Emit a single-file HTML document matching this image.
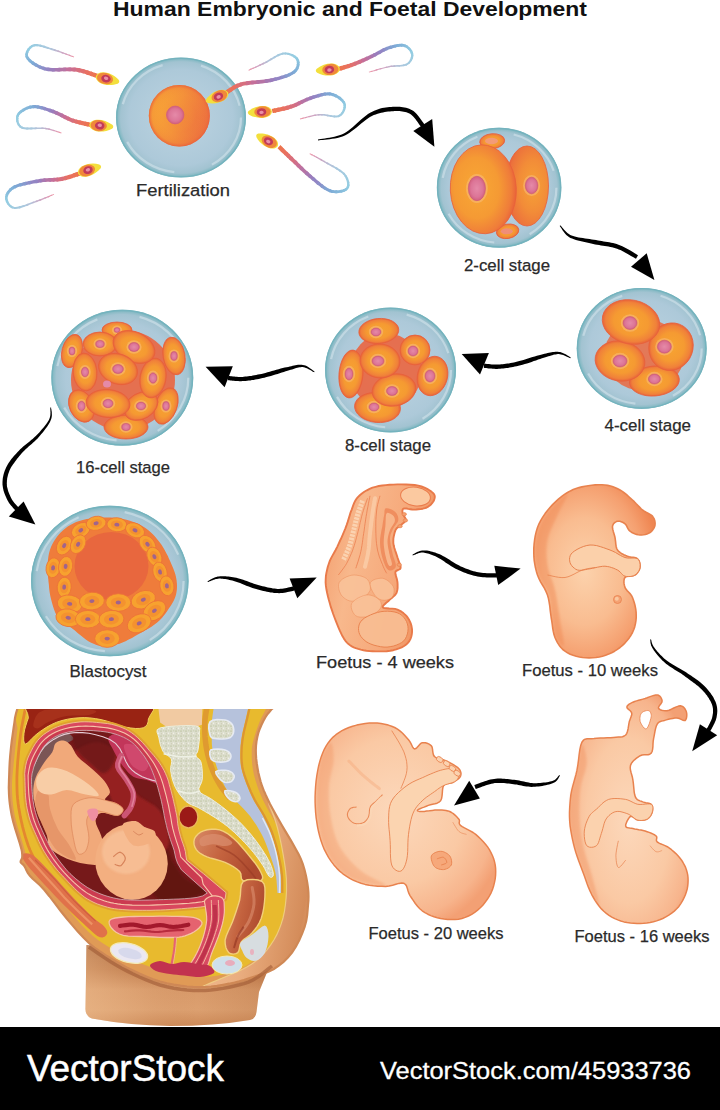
<!DOCTYPE html>
<html>
<head>
<meta charset="utf-8">
<title>Human Embryonic and Foetal Development</title>
<style>
html,body{margin:0;padding:0;background:#fff;}
body{width:720px;height:1110px;overflow:hidden;position:relative;font-family:"Liberation Sans",sans-serif;}
svg{position:absolute;left:0;top:0;display:block;}
text{font-family:"Liberation Sans",sans-serif;}
.lbl{font-size:17.2px;fill:#2a2a2a;stroke:#2a2a2a;stroke-width:0.25px;}
</style>
</head>
<body>
<svg width="720" height="1110" viewBox="0 0 720 1110">
<defs>
  <radialGradient id="gZona" cx="50%" cy="50%" r="50%">
    <stop offset="0" stop-color="#bdd4e1"/>
    <stop offset="0.8" stop-color="#adc9d9"/>
    <stop offset="0.93" stop-color="#a2c3d1"/>
    <stop offset="1" stop-color="#78b5be"/>
  </radialGradient>
  <radialGradient id="gCell" cx="50%" cy="50%" r="50%">
    <stop offset="0" stop-color="#f7a531"/>
    <stop offset="0.6" stop-color="#f59a32"/>
    <stop offset="0.88" stop-color="#f0813a"/>
    <stop offset="1" stop-color="#e8633a"/>
  </radialGradient>
  <radialGradient id="gCellA" cx="40%" cy="48%" r="62%">
    <stop offset="0" stop-color="#f8a835"/>
    <stop offset="0.55" stop-color="#f59a34"/>
    <stop offset="0.85" stop-color="#ef7c3a"/>
    <stop offset="1" stop-color="#e85c3a"/>
  </radialGradient>
  <radialGradient id="gCellB" cx="64%" cy="50%" r="66%">
    <stop offset="0" stop-color="#f6a236"/>
    <stop offset="0.5" stop-color="#f28c38"/>
    <stop offset="0.85" stop-color="#ec723c"/>
    <stop offset="1" stop-color="#e65a3a"/>
  </radialGradient>
  <radialGradient id="gEgg" cx="50%" cy="50%" r="50%">
    <stop offset="0" stop-color="#f08a45"/>
    <stop offset="0.45" stop-color="#f3923a"/>
    <stop offset="0.8" stop-color="#f6a030"/>
    <stop offset="0.93" stop-color="#f28a36"/>
    <stop offset="1" stop-color="#ec6f40"/>
  </radialGradient>
  <linearGradient id="gEggL" x1="0" y1="0.35" x2="1" y2="0.65">
    <stop offset="0" stop-color="#f9a935"/>
    <stop offset="0.45" stop-color="#f4933a"/>
    <stop offset="1" stop-color="#ec6a40"/>
  </linearGradient>
  <radialGradient id="gEggR" cx="50%" cy="50%" r="50%">
    <stop offset="0" stop-color="#ee7a40" stop-opacity="0.35"/>
    <stop offset="0.55" stop-color="#f39a38" stop-opacity="0"/>
    <stop offset="0.88" stop-color="#ee7a3c" stop-opacity="0.25"/>
    <stop offset="1" stop-color="#e8603c" stop-opacity="0.9"/>
  </radialGradient>
  <radialGradient id="gNuc" cx="50%" cy="50%" r="50%">
    <stop offset="0" stop-color="#e58aa8"/>
    <stop offset="0.7" stop-color="#dc7597"/>
    <stop offset="1" stop-color="#d2607e"/>
  </radialGradient>
  <radialGradient id="gSkin" cx="45%" cy="40%" r="65%">
    <stop offset="0" stop-color="#fbd2ac"/>
    <stop offset="0.6" stop-color="#f8b98c"/>
    <stop offset="1" stop-color="#f29868"/>
  </radialGradient>
  <filter id="soft" x="-10%" y="-10%" width="120%" height="120%"><feGaussianBlur stdDeviation="0.6"/></filter>
  <filter id="soft2" x="-10%" y="-10%" width="120%" height="120%"><feGaussianBlur stdDeviation="1.2"/></filter>
</defs>

<!-- TITLE -->
<text id="title" x="113" y="16.2" font-size="20" font-weight="bold" fill="#111" textLength="474" lengthAdjust="spacingAndGlyphs">Human Embryonic and Foetal Development</text>

<!-- arrows -->
<g fill="#000">
<path d="M318.1,140.4 L319.3,140.2 L320.9,140.1 L322.8,139.9 L324.9,139.7 L327.2,139.5 L329.7,139.2 L332.2,138.8 L334.8,138.4 L337.4,137.9 L340.0,137.2 L342.5,136.4 L344.9,135.4 L347.2,134.2 L349.6,132.8 L351.9,131.1 L354.3,129.3 L356.6,127.4 L358.9,125.5 L361.2,123.6 L363.5,121.7 L365.7,120.0 L367.8,118.4 L369.9,117.1 L371.9,116.0 L373.8,115.1 L375.7,114.4 L377.6,113.7 L379.4,113.2 L381.2,112.8 L383.0,112.4 L384.7,112.1 L386.4,111.8 L388.1,111.6 L389.8,111.4 L391.5,111.3 L393.1,111.2 L394.7,111.1 L396.3,111.1 L397.9,111.1 L399.4,111.1 L400.9,111.2 L402.3,111.4 L403.7,111.7 L405.1,112.0 L406.4,112.3 L407.6,112.8 L408.8,113.3 L409.9,113.8 L411.0,114.5 L412.1,115.4 L413.2,116.5 L414.3,117.8 L415.4,119.1 L416.4,120.5 L417.4,121.8 L418.4,123.2 L419.2,124.4 L420.0,125.6 L420.8,126.5 L421.4,127.3 L424.6,124.7 L424.1,124.0 L423.5,123.1 L422.7,122.0 L421.8,120.8 L420.9,119.4 L419.8,117.9 L418.7,116.4 L417.5,115.0 L416.2,113.6 L414.9,112.3 L413.5,111.1 L412.1,110.2 L410.6,109.4 L409.2,108.8 L407.7,108.2 L406.1,107.8 L404.5,107.4 L402.9,107.2 L401.3,106.9 L399.7,106.8 L398.0,106.7 L396.3,106.7 L394.6,106.7 L392.9,106.8 L391.2,106.9 L389.4,107.1 L387.6,107.2 L385.8,107.5 L384.0,107.8 L382.1,108.1 L380.2,108.6 L378.2,109.2 L376.2,109.9 L374.2,110.7 L372.2,111.7 L370.1,112.8 L368.0,114.1 L365.8,115.7 L363.6,117.4 L361.4,119.3 L359.2,121.3 L357.0,123.3 L354.8,125.3 L352.6,127.2 L350.4,129.0 L348.2,130.7 L346.0,132.2 L343.9,133.4 L341.7,134.4 L339.4,135.3 L336.9,136.0 L334.4,136.7 L331.9,137.2 L329.4,137.7 L327.0,138.1 L324.8,138.4 L322.7,138.8 L320.8,139.0 L319.2,139.3 L317.9,139.6Z"/>
<path d="M413.3,131.0 L432.2,119.0 L434.4,146.7 Z"/>
<path d="M559.7,225.9 L560.1,226.5 L560.6,227.2 L561.2,228.1 L561.8,229.1 L562.5,230.2 L563.3,231.3 L564.2,232.5 L565.2,233.7 L566.3,234.9 L567.6,236.0 L568.9,237.0 L570.4,237.9 L572.1,238.6 L573.9,239.3 L575.9,240.0 L577.9,240.5 L580.1,241.1 L582.3,241.6 L584.5,242.1 L586.8,242.5 L589.0,243.0 L591.1,243.4 L593.2,243.9 L595.2,244.4 L597.1,244.7 L599.1,245.1 L601.0,245.4 L603.0,245.7 L604.8,246.0 L606.7,246.3 L608.5,246.6 L610.3,246.9 L612.0,247.3 L613.8,247.7 L615.4,248.2 L617.1,248.7 L618.7,249.4 L620.5,250.1 L622.3,251.0 L624.1,252.0 L625.9,253.0 L627.7,254.0 L629.4,255.0 L631.0,255.9 L632.5,256.8 L633.9,257.6 L635.0,258.3 L636.0,258.8 L638.0,255.2 L637.1,254.7 L636.0,254.0 L634.7,253.2 L633.2,252.3 L631.6,251.3 L629.9,250.3 L628.0,249.2 L626.1,248.2 L624.2,247.2 L622.3,246.3 L620.4,245.4 L618.5,244.7 L616.7,244.1 L614.9,243.5 L613.0,243.1 L611.1,242.7 L609.3,242.3 L607.4,242.0 L605.5,241.7 L603.6,241.4 L601.7,241.1 L599.8,240.8 L598.0,240.4 L596.0,240.0 L594.0,239.7 L591.8,239.4 L589.6,239.1 L587.4,238.8 L585.1,238.5 L582.9,238.1 L580.7,237.8 L578.6,237.4 L576.6,237.0 L574.8,236.6 L573.1,236.1 L571.6,235.5 L570.2,234.9 L568.9,234.1 L567.7,233.2 L566.6,232.3 L565.6,231.3 L564.6,230.3 L563.7,229.3 L562.9,228.3 L562.2,227.4 L561.5,226.5 L560.9,225.9 L560.3,225.3Z"/>
<path d="M631.0,266.7 L646.7,253.3 L654.4,280.0 Z"/>
<path d="M570.8,357.5 L570.3,357.2 L569.6,356.8 L568.9,356.3 L568.0,355.8 L567.1,355.2 L566.1,354.6 L565.0,354.0 L563.9,353.4 L562.7,352.9 L561.5,352.5 L560.2,352.1 L559.0,351.9 L557.8,351.8 L556.6,351.8 L555.4,351.8 L554.1,351.9 L552.9,352.1 L551.6,352.3 L550.3,352.5 L549.0,352.8 L547.5,353.1 L546.1,353.5 L544.5,353.8 L542.8,354.2 L541.0,354.7 L539.0,355.2 L536.9,355.8 L534.7,356.4 L532.5,357.1 L530.2,357.8 L527.9,358.5 L525.7,359.2 L523.5,359.9 L521.4,360.5 L519.4,361.1 L517.5,361.6 L515.7,362.0 L513.9,362.4 L512.2,362.7 L510.5,363.1 L508.9,363.4 L507.3,363.6 L505.8,363.8 L504.2,364.0 L502.7,364.2 L501.3,364.3 L499.9,364.5 L498.5,364.6 L497.1,364.6 L495.8,364.6 L494.4,364.6 L493.0,364.5 L491.6,364.4 L490.3,364.3 L489.0,364.1 L487.9,364.0 L486.8,363.9 L485.8,363.8 L484.9,363.7 L484.2,363.6 L483.8,367.8 L484.5,367.9 L485.3,367.9 L486.3,368.1 L487.4,368.2 L488.6,368.4 L489.9,368.5 L491.3,368.6 L492.7,368.7 L494.2,368.8 L495.7,368.9 L497.2,368.9 L498.7,368.8 L500.2,368.7 L501.7,368.6 L503.2,368.5 L504.8,368.3 L506.3,368.1 L508.0,367.9 L509.6,367.6 L511.3,367.3 L513.0,367.0 L514.8,366.6 L516.6,366.3 L518.5,365.8 L520.5,365.3 L522.6,364.7 L524.8,364.1 L527.0,363.4 L529.3,362.7 L531.6,361.9 L533.8,361.1 L536.0,360.4 L538.1,359.6 L540.1,358.9 L542.0,358.3 L543.8,357.8 L545.4,357.3 L547.0,356.8 L548.4,356.3 L549.8,355.9 L551.1,355.5 L552.3,355.2 L553.4,354.8 L554.6,354.6 L555.6,354.4 L556.7,354.2 L557.8,354.1 L558.8,354.1 L559.9,354.2 L560.9,354.4 L562.1,354.7 L563.2,355.0 L564.3,355.5 L565.4,355.9 L566.4,356.4 L567.4,356.9 L568.3,357.3 L569.1,357.7 L569.8,358.0 L570.4,358.3Z"/>
<path d="M461.7,354.0 L488.9,353.0 L480.0,374.4 Z"/>
<path d="M314.6,371.7 L314.1,371.3 L313.5,370.8 L312.7,370.2 L311.9,369.6 L311.0,368.9 L310.0,368.2 L308.9,367.5 L307.8,366.8 L306.6,366.1 L305.4,365.6 L304.2,365.2 L302.9,364.9 L301.7,364.7 L300.5,364.7 L299.2,364.7 L298.0,364.8 L296.7,365.0 L295.4,365.2 L294.1,365.5 L292.7,365.8 L291.3,366.2 L289.8,366.5 L288.2,366.9 L286.5,367.2 L284.7,367.6 L282.8,368.1 L280.7,368.6 L278.6,369.2 L276.3,369.8 L274.1,370.4 L271.9,371.1 L269.7,371.7 L267.5,372.3 L265.4,372.9 L263.4,373.4 L261.5,373.9 L259.7,374.3 L257.9,374.6 L256.2,375.0 L254.5,375.3 L252.9,375.6 L251.3,375.9 L249.7,376.1 L248.2,376.3 L246.7,376.5 L245.2,376.6 L243.8,376.8 L242.4,376.9 L241.0,376.9 L239.7,376.9 L238.3,376.9 L236.9,376.8 L235.6,376.7 L234.2,376.6 L233.0,376.4 L231.8,376.3 L230.7,376.2 L229.8,376.1 L228.9,376.0 L228.2,375.9 L227.8,380.1 L228.5,380.2 L229.3,380.2 L230.2,380.4 L231.3,380.5 L232.5,380.7 L233.8,380.8 L235.2,380.9 L236.6,381.0 L238.1,381.1 L239.6,381.2 L241.1,381.2 L242.6,381.1 L244.1,381.0 L245.6,380.9 L247.1,380.8 L248.7,380.6 L250.3,380.4 L251.9,380.1 L253.6,379.9 L255.3,379.6 L257.0,379.3 L258.8,378.9 L260.6,378.5 L262.5,378.1 L264.4,377.7 L266.5,377.1 L268.7,376.5 L270.9,375.9 L273.1,375.3 L275.4,374.6 L277.6,373.9 L279.7,373.2 L281.8,372.5 L283.8,371.9 L285.7,371.3 L287.5,370.8 L289.1,370.3 L290.7,369.8 L292.1,369.4 L293.5,368.9 L294.8,368.5 L296.1,368.1 L297.3,367.8 L298.4,367.5 L299.5,367.3 L300.6,367.2 L301.6,367.1 L302.7,367.1 L303.7,367.2 L304.8,367.5 L305.9,367.9 L307.0,368.3 L308.1,368.9 L309.2,369.5 L310.2,370.1 L311.2,370.6 L312.1,371.2 L312.9,371.7 L313.6,372.1 L314.2,372.3Z"/>
<path d="M205.6,366.8 L232.8,366.2 L224.6,387.2 Z"/>
<path d="M50.3,407.6 L50.3,408.2 L50.3,408.9 L50.3,409.7 L50.4,410.6 L50.4,411.6 L50.5,412.7 L50.4,413.7 L50.4,414.9 L50.2,416.0 L50.0,417.1 L49.6,418.2 L49.2,419.3 L48.6,420.5 L47.8,421.7 L47.0,422.9 L46.1,424.2 L45.1,425.5 L44.0,426.9 L42.9,428.3 L41.7,429.6 L40.5,431.0 L39.3,432.4 L38.0,433.7 L36.8,435.0 L35.5,436.3 L34.1,437.6 L32.6,438.9 L31.1,440.1 L29.6,441.4 L28.0,442.7 L26.4,444.0 L24.8,445.3 L23.2,446.6 L21.7,448.0 L20.2,449.3 L18.9,450.7 L17.6,452.0 L16.3,453.4 L15.1,454.7 L13.9,456.1 L12.7,457.5 L11.6,458.8 L10.5,460.3 L9.5,461.7 L8.6,463.1 L7.7,464.6 L6.9,466.0 L6.1,467.5 L5.5,468.9 L4.9,470.3 L4.4,471.8 L3.9,473.3 L3.5,474.7 L3.2,476.2 L2.9,477.6 L2.7,479.0 L2.6,480.5 L2.5,481.9 L2.5,483.3 L2.5,484.7 L2.7,486.1 L2.9,487.6 L3.2,489.0 L3.5,490.4 L3.9,491.8 L4.4,493.2 L4.9,494.5 L5.4,495.8 L6.0,497.1 L6.5,498.2 L7.1,499.4 L7.6,500.5 L8.2,501.6 L8.9,502.7 L9.6,503.7 L10.4,504.7 L11.2,505.7 L12.0,506.6 L12.7,507.4 L13.4,508.2 L14.0,508.9 L14.6,509.4 L15.0,509.9 L15.4,510.4 L18.6,507.6 L18.2,507.2 L17.7,506.6 L17.1,506.0 L16.5,505.3 L15.8,504.6 L15.1,503.8 L14.4,503.0 L13.7,502.1 L13.1,501.2 L12.4,500.3 L11.9,499.4 L11.4,498.5 L10.9,497.5 L10.4,496.4 L9.9,495.3 L9.4,494.2 L8.9,493.0 L8.4,491.8 L8.0,490.5 L7.7,489.3 L7.4,488.1 L7.1,486.9 L6.9,485.7 L6.9,484.5 L6.8,483.3 L6.9,482.1 L6.9,480.8 L7.1,479.6 L7.2,478.3 L7.5,477.0 L7.8,475.8 L8.1,474.5 L8.5,473.2 L9.0,471.9 L9.5,470.6 L10.1,469.3 L10.7,468.1 L11.4,466.8 L12.3,465.5 L13.1,464.2 L14.1,462.9 L15.1,461.5 L16.1,460.2 L17.1,458.8 L18.2,457.4 L19.4,456.1 L20.5,454.7 L21.7,453.3 L22.9,452.0 L24.2,450.7 L25.6,449.3 L27.1,448.0 L28.6,446.6 L30.1,445.3 L31.7,443.9 L33.2,442.5 L34.7,441.2 L36.2,439.8 L37.6,438.4 L38.8,437.0 L40.1,435.6 L41.3,434.1 L42.5,432.7 L43.7,431.2 L44.8,429.8 L45.9,428.3 L46.9,426.9 L47.9,425.5 L48.8,424.1 L49.6,422.7 L50.2,421.4 L50.8,420.1 L51.3,418.8 L51.6,417.5 L51.8,416.2 L51.9,415.0 L51.8,413.7 L51.8,412.6 L51.7,411.5 L51.5,410.5 L51.4,409.6 L51.2,408.8 L51.1,408.2 L51.1,407.6Z"/>
<path d="M8.8,516.4 L23.6,501.5 L35.4,524.5 Z"/>
<path d="M207.9,582.1 L208.4,581.9 L209.1,581.6 L209.9,581.3 L210.7,580.9 L211.6,580.6 L212.6,580.2 L213.6,579.8 L214.7,579.4 L215.8,579.1 L216.9,578.9 L218.0,578.7 L219.1,578.6 L220.2,578.6 L221.4,578.7 L222.7,578.8 L223.9,578.9 L225.3,579.1 L226.6,579.3 L228.0,579.6 L229.4,579.9 L230.9,580.2 L232.3,580.6 L233.8,581.0 L235.3,581.4 L236.9,581.9 L238.4,582.4 L240.1,583.0 L241.7,583.7 L243.5,584.4 L245.2,585.2 L247.0,585.9 L248.8,586.6 L250.6,587.2 L252.5,587.9 L254.3,588.5 L256.1,589.0 L257.9,589.5 L259.7,589.9 L261.5,590.4 L263.3,590.9 L265.1,591.3 L266.9,591.7 L268.7,592.0 L270.5,592.4 L272.3,592.6 L274.0,592.9 L275.7,593.0 L277.4,593.1 L279.1,593.2 L280.8,593.1 L282.6,592.9 L284.2,592.7 L285.9,592.4 L287.5,592.1 L289.0,591.8 L290.3,591.5 L291.6,591.2 L292.7,590.9 L293.6,590.7 L294.4,590.6 L293.6,586.4 L292.8,586.6 L291.8,586.8 L290.7,587.0 L289.4,587.3 L288.1,587.6 L286.6,587.9 L285.1,588.2 L283.6,588.5 L282.1,588.7 L280.5,588.8 L279.0,588.9 L277.6,588.9 L276.1,588.8 L274.5,588.6 L272.9,588.4 L271.3,588.1 L269.6,587.8 L267.8,587.4 L266.1,587.1 L264.3,586.6 L262.5,586.2 L260.8,585.7 L259.0,585.3 L257.3,584.8 L255.6,584.3 L253.9,583.7 L252.1,583.1 L250.4,582.5 L248.6,581.8 L246.8,581.1 L245.0,580.4 L243.2,579.8 L241.4,579.2 L239.7,578.7 L237.9,578.2 L236.3,577.8 L234.6,577.5 L233.1,577.2 L231.5,576.9 L230.0,576.7 L228.5,576.5 L227.0,576.4 L225.6,576.3 L224.1,576.2 L222.8,576.2 L221.4,576.2 L220.2,576.3 L218.9,576.4 L217.7,576.6 L216.4,576.9 L215.2,577.3 L214.1,577.8 L213.0,578.3 L212.0,578.8 L211.0,579.3 L210.1,579.8 L209.3,580.3 L208.6,580.7 L208.0,581.1 L207.5,581.3Z"/>
<path d="M289.6,578.5 L316.7,577.5 L297.3,598.3 Z"/>
<path d="M412.7,555.4 L413.3,555.2 L413.9,555.0 L414.7,554.7 L415.5,554.4 L416.3,554.0 L417.3,553.7 L418.2,553.3 L419.2,553.0 L420.3,552.8 L421.3,552.6 L422.3,552.6 L423.3,552.6 L424.3,552.7 L425.4,552.9 L426.5,553.2 L427.7,553.5 L428.9,553.8 L430.1,554.2 L431.4,554.7 L432.7,555.2 L434.0,555.7 L435.4,556.3 L436.7,557.0 L438.1,557.7 L439.5,558.4 L440.9,559.3 L442.4,560.2 L444.0,561.3 L445.5,562.4 L447.1,563.5 L448.8,564.6 L450.5,565.7 L452.2,566.7 L453.9,567.8 L455.6,568.7 L457.4,569.6 L459.0,570.3 L460.7,571.1 L462.3,571.8 L464.0,572.5 L465.7,573.1 L467.3,573.7 L469.0,574.3 L470.7,574.8 L472.4,575.3 L474.0,575.7 L475.7,576.1 L477.4,576.5 L479.2,576.8 L481.0,577.0 L482.9,577.2 L484.8,577.3 L486.7,577.4 L488.6,577.4 L490.4,577.5 L492.0,577.5 L493.6,577.5 L494.9,577.5 L496.0,577.5 L496.9,577.5 L497.1,573.3 L496.1,573.3 L494.9,573.3 L493.6,573.2 L492.0,573.2 L490.4,573.2 L488.7,573.2 L486.9,573.2 L485.0,573.1 L483.2,573.0 L481.5,572.8 L479.8,572.6 L478.2,572.3 L476.7,572.0 L475.1,571.6 L473.5,571.2 L472.0,570.7 L470.4,570.2 L468.8,569.6 L467.2,569.0 L465.6,568.4 L464.0,567.8 L462.4,567.1 L460.8,566.4 L459.2,565.6 L457.7,564.8 L456.1,564.0 L454.5,563.0 L452.9,562.0 L451.2,560.9 L449.6,559.8 L447.9,558.8 L446.2,557.8 L444.5,556.8 L442.9,555.9 L441.3,555.1 L439.7,554.3 L438.2,553.7 L436.7,553.2 L435.2,552.6 L433.8,552.2 L432.4,551.8 L431.0,551.4 L429.6,551.1 L428.3,550.8 L427.0,550.6 L425.7,550.5 L424.5,550.4 L423.3,550.4 L422.1,550.5 L420.9,550.7 L419.8,551.0 L418.7,551.4 L417.7,551.8 L416.7,552.3 L415.8,552.7 L414.9,553.2 L414.2,553.7 L413.5,554.1 L412.9,554.4 L412.5,554.6Z"/>
<path d="M494.3,565.7 L520.6,568.6 L498.2,585.1 Z"/>
<path d="M650.2,639.5 L650.3,639.9 L650.3,640.3 L650.3,640.9 L650.4,641.5 L650.4,642.1 L650.5,642.9 L650.7,643.7 L650.9,644.5 L651.1,645.4 L651.5,646.3 L652.0,647.3 L652.5,648.3 L653.2,649.3 L653.9,650.4 L654.7,651.6 L655.6,652.8 L656.6,654.0 L657.6,655.3 L658.7,656.5 L659.8,657.8 L661.0,659.1 L662.3,660.4 L663.6,661.6 L664.9,662.8 L666.3,664.0 L667.8,665.1 L669.4,666.2 L671.0,667.3 L672.7,668.3 L674.3,669.4 L676.0,670.5 L677.7,671.5 L679.4,672.6 L681.1,673.6 L682.7,674.7 L684.2,675.8 L685.7,676.9 L687.3,678.1 L688.9,679.2 L690.5,680.4 L692.0,681.5 L693.6,682.7 L695.1,683.8 L696.5,685.0 L698.0,686.1 L699.3,687.2 L700.6,688.4 L701.7,689.5 L702.9,690.7 L704.0,691.9 L705.0,693.1 L706.0,694.4 L707.0,695.6 L707.8,696.9 L708.7,698.1 L709.4,699.4 L710.1,700.6 L710.8,701.8 L711.3,702.9 L711.8,704.1 L712.2,705.2 L712.5,706.2 L712.7,707.3 L712.9,708.3 L713.0,709.3 L713.0,710.4 L713.0,711.4 L713.0,712.5 L712.9,713.5 L712.7,714.6 L712.5,715.7 L712.3,716.7 L712.1,717.8 L711.7,718.9 L711.2,720.2 L710.6,721.4 L710.0,722.7 L709.4,724.0 L708.7,725.2 L708.1,726.4 L707.5,727.5 L706.9,728.5 L706.5,729.4 L706.1,730.1 L709.9,731.9 L710.2,731.3 L710.6,730.5 L711.2,729.5 L711.8,728.4 L712.4,727.2 L713.1,725.9 L713.8,724.6 L714.5,723.2 L715.1,721.8 L715.7,720.4 L716.1,719.0 L716.5,717.7 L716.7,716.4 L716.9,715.2 L717.1,714.0 L717.2,712.8 L717.3,711.6 L717.3,710.3 L717.2,709.0 L717.1,707.8 L716.9,706.5 L716.6,705.2 L716.3,703.9 L715.8,702.5 L715.3,701.2 L714.6,699.9 L713.9,698.5 L713.2,697.1 L712.3,695.8 L711.4,694.4 L710.5,693.1 L709.4,691.7 L708.4,690.4 L707.2,689.0 L706.1,687.7 L704.9,686.5 L703.6,685.2 L702.2,684.0 L700.8,682.7 L699.3,681.5 L697.7,680.3 L696.2,679.2 L694.5,678.0 L692.9,676.9 L691.3,675.8 L689.6,674.7 L688.0,673.7 L686.4,672.6 L684.8,671.5 L683.0,670.5 L681.3,669.5 L679.6,668.5 L677.8,667.5 L676.1,666.5 L674.4,665.5 L672.7,664.6 L671.1,663.6 L669.5,662.6 L668.1,661.6 L666.7,660.6 L665.4,659.5 L664.1,658.4 L662.9,657.3 L661.7,656.1 L660.5,654.9 L659.4,653.7 L658.3,652.5 L657.3,651.4 L656.4,650.3 L655.5,649.2 L654.8,648.2 L654.1,647.3 L653.5,646.4 L653.0,645.6 L652.6,644.8 L652.3,644.1 L652.0,643.3 L651.8,642.6 L651.6,641.9 L651.5,641.3 L651.4,640.7 L651.3,640.2 L651.1,639.7 L651.0,639.3Z"/>
<path d="M699.9,724.2 L717.2,735.3 L692.2,751.3 Z"/>
<path d="M559.3,775.0 L558.9,775.4 L558.6,775.8 L558.2,776.3 L557.8,776.8 L557.3,777.4 L556.8,778.0 L556.3,778.6 L555.6,779.2 L555.0,779.7 L554.2,780.2 L553.4,780.6 L552.4,781.0 L551.3,781.3 L550.0,781.6 L548.5,781.9 L547.0,782.2 L545.3,782.4 L543.6,782.6 L541.9,782.8 L540.1,783.0 L538.3,783.1 L536.6,783.2 L534.9,783.2 L533.3,783.2 L531.8,783.1 L530.3,782.9 L528.7,782.6 L527.2,782.3 L525.6,782.0 L524.0,781.6 L522.4,781.3 L520.8,780.9 L519.2,780.6 L517.5,780.3 L515.8,780.0 L514.2,779.8 L512.5,779.7 L510.9,779.5 L509.3,779.3 L507.6,779.1 L506.0,778.9 L504.3,778.8 L502.7,778.7 L501.0,778.6 L499.3,778.6 L497.6,778.6 L495.8,778.7 L494.1,778.9 L492.3,779.2 L490.4,779.6 L488.5,780.1 L486.6,780.7 L484.7,781.3 L482.8,781.9 L481.0,782.6 L479.3,783.2 L477.8,783.8 L476.4,784.3 L475.2,784.7 L474.3,785.0 L475.7,789.0 L476.6,788.7 L477.8,788.2 L479.2,787.7 L480.8,787.2 L482.4,786.6 L484.2,785.9 L486.0,785.3 L487.8,784.7 L489.7,784.2 L491.4,783.7 L493.1,783.4 L494.7,783.1 L496.2,783.0 L497.7,782.9 L499.3,782.9 L500.8,782.9 L502.4,783.0 L504.0,783.1 L505.6,783.2 L507.2,783.4 L508.8,783.6 L510.4,783.8 L512.0,784.0 L513.6,784.2 L515.2,784.4 L516.8,784.6 L518.3,784.9 L519.9,785.2 L521.5,785.6 L523.2,785.9 L524.8,786.2 L526.5,786.4 L528.2,786.6 L529.9,786.8 L531.6,786.9 L533.3,786.8 L535.0,786.8 L536.8,786.6 L538.6,786.4 L540.4,786.2 L542.3,785.9 L544.1,785.6 L545.8,785.2 L547.5,784.8 L549.1,784.4 L550.6,784.0 L552.0,783.5 L553.2,783.0 L554.3,782.5 L555.3,781.9 L556.1,781.2 L556.9,780.4 L557.5,779.7 L558.0,778.9 L558.5,778.2 L558.8,777.5 L559.2,776.9 L559.4,776.4 L559.7,775.9 L559.9,775.6Z"/>
<path d="M469.2,780.7 L479.9,798.6 L454.0,805.4 Z"/>
</g>

<!-- fert -->
<path d="M98.2,73.9 L97.2,73.6 L96.0,73.2 L94.5,72.7 L93.1,76.8 L94.5,77.3 L95.8,77.7 L96.8,78.1 Z" fill="#ed754a"/><path d="M96.0,73.2 L94.5,72.7 L92.9,72.2 L91.1,71.6 L89.8,75.5 L91.5,76.2 L93.1,76.8 L94.5,77.3 Z" fill="#ec7452"/><path d="M92.9,72.2 L91.1,71.6 L89.2,70.9 L87.2,70.3 L86.0,74.2 L87.9,74.9 L89.8,75.5 L91.5,76.2 Z" fill="#ea725b"/><path d="M89.2,70.9 L87.2,70.3 L85.1,69.7 L82.9,69.1 L81.9,73.0 L83.9,73.6 L86.0,74.2 L87.9,74.9 Z" fill="#e87063"/><path d="M85.1,69.7 L82.9,69.1 L80.6,68.6 L78.4,68.1 L77.6,72.0 L79.8,72.4 L81.9,73.0 L83.9,73.6 Z" fill="#e07070"/><path d="M80.6,68.6 L78.4,68.1 L76.1,67.8 L73.6,67.6 L73.4,71.4 L75.5,71.6 L77.6,72.0 L79.8,72.4 Z" fill="#d76f7e"/><path d="M76.1,67.8 L73.6,67.6 L71.1,67.5 L68.4,67.5 L68.5,71.2 L71.0,71.3 L73.4,71.4 L75.5,71.6 Z" fill="#ce6e8c"/><path d="M71.1,67.5 L68.4,67.5 L65.7,67.6 L62.9,67.7 L63.0,71.3 L65.8,71.3 L68.5,71.2 L71.0,71.3 Z" fill="#c46f9a"/><path d="M65.7,67.6 L62.9,67.7 L60.1,67.8 L57.3,67.9 L57.4,71.5 L60.2,71.4 L63.0,71.3 L65.8,71.3 Z" fill="#b674a5"/><path d="M60.1,67.8 L57.3,67.9 L54.7,67.9 L52.1,67.9 L51.9,71.4 L54.7,71.5 L57.4,71.5 L60.2,71.4 Z" fill="#a878b1"/><path d="M54.7,67.9 L52.1,67.9 L49.6,67.8 L47.4,67.6 L46.9,70.9 L49.3,71.2 L51.9,71.4 L54.7,71.5 Z" fill="#9a7dbc"/><path d="M49.6,67.8 L47.4,67.6 L45.4,67.2 L43.5,66.6 L42.5,69.8 L44.6,70.4 L46.9,70.9 L49.3,71.2 Z" fill="#9285c4"/><path d="M45.4,67.2 L43.5,66.6 L41.6,65.9 L39.7,65.2 L38.3,68.1 L40.4,69.0 L42.5,69.8 L44.6,70.4 Z" fill="#8c8fc9"/><path d="M41.6,65.9 L39.7,65.2 L37.9,64.3 L36.1,63.3 L34.5,66.0 L36.4,67.1 L38.3,68.1 L40.4,69.0 Z" fill="#869ace"/><path d="M37.9,64.3 L36.1,63.3 L34.5,62.3 L33.0,61.3 L31.2,63.7 L32.8,64.9 L34.5,66.0 L36.4,67.1 Z" fill="#80a4d3"/><path d="M34.5,62.3 L33.0,61.3 L31.6,60.2 L30.5,59.2 L28.4,61.2 L29.7,62.5 L31.2,63.7 L32.8,64.9 Z" fill="#7dacd7"/><path d="M31.6,60.2 L30.5,59.2 L29.5,58.2 L28.8,57.2 L26.4,58.8 L27.3,60.0 L28.4,61.2 L29.7,62.5 Z" fill="#81b2d9"/><path d="M29.5,58.2 L28.8,57.2 L28.3,56.4 L28.0,55.7 L25.3,56.2 L25.7,57.6 L26.4,58.8 L27.3,60.0 Z" fill="#84b7da"/><path d="M28.3,56.4 L28.0,55.7 L27.9,54.9 L28.0,53.9 L25.4,53.4 L25.2,54.8 L25.3,56.2 L25.7,57.6 Z" fill="#87bddc"/><path d="M27.9,54.9 L28.0,53.9 L28.2,52.9 L28.6,51.8 L26.3,50.7 L25.8,52.1 L25.4,53.4 L25.2,54.8 Z" fill="#8bc2de"/><path d="M28.2,52.9 L28.6,51.8 L29.2,50.8 L29.9,49.8 L27.9,48.3 L27.1,49.5 L26.3,50.7 L25.8,52.1 Z" fill="#8ec8e0"/><path d="M29.2,50.8 L29.9,49.8 L30.6,48.8 L31.5,48.0 L30.0,46.2 L28.9,47.2 L27.9,48.3 L27.1,49.5 Z" fill="#92cde2"/><path d="M30.6,48.8 L31.5,48.0 L32.4,47.3 L33.4,46.7 L32.4,44.7 L31.2,45.3 L30.0,46.2 L28.9,47.2 Z" fill="#95cde2"/><path d="M32.4,47.3 L33.4,46.7 L34.3,46.4 L35.3,46.2 L35.1,44.0 L33.7,44.2 L32.4,44.7 L31.2,45.3 Z" fill="#99cce1"/><path d="M34.3,46.4 L35.3,46.2 L36.5,46.2 L37.9,46.3 L38.2,44.2 L36.6,44.0 L35.1,44.0 L33.7,44.2 Z" fill="#9ccce0"/><path d="M36.5,46.2 L37.9,46.3 L39.5,46.5 L41.2,46.9 L41.7,45.0 L39.9,44.5 L38.2,44.2 L36.6,44.0 Z" fill="#a0cbe0"/><path d="M39.5,46.5 L41.2,46.9 L42.9,47.3 L44.7,47.9 L45.3,46.1 L43.5,45.5 L41.7,45.0 L39.9,44.5 Z" fill="#a4cadf"/><path d="M42.9,47.3 L44.7,47.9 L46.6,48.4 L48.4,49.0 L49.0,47.4 L47.1,46.7 L45.3,46.1 L43.5,45.5 Z" fill="#a7c9df"/><path d="M46.6,48.4 L48.4,49.0 L50.3,49.6 L52.0,50.2 L52.5,48.6 L50.8,48.0 L49.0,47.4 L47.1,46.7 Z" fill="#abc8de"/><path d="M50.3,49.6 L52.0,50.2 L53.8,50.7 L55.5,51.2 L56.0,49.7 L54.2,49.1 L52.5,48.6 L50.8,48.0 Z" fill="#b3c2d9"/><path d="M53.8,50.7 L55.5,51.2 L57.3,51.7 L59.2,52.3 L59.7,51.0 L57.8,50.3 L56.0,49.7 L54.2,49.1 Z" fill="#bdb8d1"/><path d="M57.3,51.7 L59.2,52.3 L61.2,53.0 L63.1,53.7 L63.6,52.4 L61.6,51.7 L59.7,51.0 L57.8,50.3 Z" fill="#c6afca"/><path d="M61.2,53.0 L63.1,53.7 L65.0,54.3 L66.9,55.0 L67.3,53.9 L65.5,53.2 L63.6,52.4 L61.6,51.7 Z" fill="#d0a6c3"/><path d="M65.0,54.3 L66.9,55.0 L68.6,55.6 L70.2,56.2 L70.6,55.2 L69.0,54.5 L67.3,53.9 L65.5,53.2 Z" fill="#d99fbb"/><path d="M68.6,55.6 L70.2,56.2 L71.7,56.7 L72.9,57.1 L73.2,56.2 L72.0,55.7 L70.6,55.2 L69.0,54.5 Z" fill="#e29bb2"/><path d="M71.7,56.7 L72.9,57.1 L73.9,57.4 L74.1,56.6 L73.2,56.2 L72.0,55.7 Z" fill="#ea98aa"/>
<g transform="translate(106.5,78.8) rotate(14.0) scale(1.00)"><path d="M-11,0 C-10,-7 3,-8 12,-2 C13.5,-0.8 13.5,1 12,2 C3,8 -10,7 -11,0Z" fill="#f3df3c"/><ellipse cx="-1.5" cy="0" rx="8.2" ry="5.6" fill="#f0883a"/><ellipse cx="-0.5" cy="0" rx="4.8" ry="3.8" fill="#c23a5a"/><ellipse cx="-0.5" cy="-0.4" rx="2.2" ry="1.7" fill="#ea90a6"/></g>
<path d="M90.8,122.7 L89.9,122.5 L88.8,122.2 L87.5,122.0 L86.6,126.2 L87.9,126.5 L89.0,126.7 L89.8,126.9 Z" fill="#ed754a"/><path d="M88.8,122.2 L87.5,122.0 L86.1,121.7 L84.6,121.4 L83.7,125.5 L85.2,125.9 L86.6,126.2 L87.9,126.5 Z" fill="#ec7452"/><path d="M86.1,121.7 L84.6,121.4 L82.9,121.1 L81.3,120.7 L79.5,120.3 L78.5,124.3 L80.3,124.7 L82.0,125.2 L83.7,125.5 L85.2,125.9 Z" fill="#ea725b"/><path d="M81.3,120.7 L79.5,120.3 L77.8,119.9 L76.1,119.4 L75.0,123.3 L76.7,123.8 L78.5,124.3 L80.3,124.7 Z" fill="#e87063"/><path d="M77.8,119.9 L76.1,119.4 L74.4,118.9 L72.9,118.4 L71.5,122.2 L73.2,122.7 L75.0,123.3 L76.7,123.8 Z" fill="#e07070"/><path d="M74.4,118.9 L72.9,118.4 L71.3,117.9 L69.8,117.2 L68.2,116.5 L66.6,120.0 L68.2,120.8 L69.9,121.5 L71.5,122.2 L73.2,122.7 Z" fill="#d76f7e"/><path d="M69.8,117.2 L68.2,116.5 L66.6,115.8 L64.9,115.0 L63.2,118.3 L64.9,119.2 L66.6,120.0 L68.2,120.8 Z" fill="#ce6e8c"/><path d="M66.6,115.8 L64.9,115.0 L63.3,114.1 L61.6,113.3 L59.9,116.6 L61.6,117.5 L63.2,118.3 L64.9,119.2 Z" fill="#c46f9a"/><path d="M63.3,114.1 L61.6,113.3 L59.9,112.5 L58.2,111.7 L56.4,111.0 L55.0,114.2 L56.6,115.0 L58.3,115.8 L59.9,116.6 L61.6,117.5 Z" fill="#b674a5"/><path d="M58.2,111.7 L56.4,111.0 L54.7,110.3 L53.0,109.6 L51.8,113.0 L53.4,113.6 L55.0,114.2 L56.6,115.0 Z" fill="#a878b1"/><path d="M54.7,110.3 L53.0,109.6 L51.3,109.1 L49.6,108.5 L48.5,111.8 L50.2,112.4 L51.8,113.0 L53.4,113.6 Z" fill="#9a7dbc"/><path d="M51.3,109.1 L49.6,108.5 L47.8,107.9 L46.1,107.4 L44.3,106.8 L43.4,110.0 L45.1,110.6 L46.8,111.1 L48.5,111.8 L50.2,112.4 Z" fill="#9285c4"/><path d="M46.1,107.4 L44.3,106.8 L42.6,106.3 L40.8,105.9 L40.0,109.1 L41.7,109.5 L43.4,110.0 L45.1,110.6 Z" fill="#8c8fc9"/><path d="M42.6,106.3 L40.8,105.9 L39.0,105.6 L37.3,105.3 L36.9,108.4 L38.4,108.7 L40.0,109.1 L41.7,109.5 Z" fill="#869ace"/><path d="M39.0,105.6 L37.3,105.3 L35.6,105.1 L34.0,105.1 L32.3,105.2 L32.7,108.2 L34.0,108.2 L35.4,108.2 L36.9,108.4 L38.4,108.7 Z" fill="#80a4d3"/><path d="M34.0,105.1 L32.3,105.2 L30.8,105.5 L29.2,105.8 L30.0,108.7 L31.3,108.4 L32.7,108.2 L34.0,108.2 Z" fill="#7dacd7"/><path d="M30.8,105.5 L29.2,105.8 L27.6,106.4 L26.0,107.0 L27.2,109.6 L28.6,109.1 L30.0,108.7 L31.3,108.4 Z" fill="#81b2d9"/><path d="M27.6,106.4 L26.0,107.0 L24.5,107.7 L23.1,108.5 L21.7,109.4 L23.2,111.7 L24.5,110.9 L25.8,110.3 L27.2,109.6 L28.6,109.1 Z" fill="#84b7da"/><path d="M23.1,108.5 L21.7,109.4 L20.5,110.3 L19.3,111.2 L21.1,113.2 L22.1,112.4 L23.2,111.7 L24.5,110.9 Z" fill="#87bddc"/><path d="M20.5,110.3 L19.3,111.2 L18.3,112.2 L17.5,113.3 L19.6,114.8 L20.3,114.0 L21.1,113.2 L22.1,112.4 Z" fill="#8bc2de"/><path d="M18.3,112.2 L17.5,113.3 L16.9,114.3 L16.4,115.4 L16.1,116.6 L18.5,117.1 L18.8,116.2 L19.1,115.5 L19.6,114.8 L20.3,114.0 Z" fill="#8ec8e0"/><path d="M16.4,115.4 L16.1,116.6 L16.0,117.9 L16.0,119.2 L18.4,119.2 L18.4,118.1 L18.5,117.1 L18.8,116.2 Z" fill="#92cde2"/><path d="M16.0,117.9 L16.0,119.2 L16.1,120.6 L16.4,121.9 L18.6,121.4 L18.4,120.3 L18.4,119.2 L18.4,118.1 Z" fill="#95cde2"/><path d="M16.1,120.6 L16.4,121.9 L16.8,123.2 L17.4,124.5 L18.1,125.7 L19.9,124.5 L19.3,123.5 L18.9,122.5 L18.6,121.4 L18.4,120.3 Z" fill="#99cce1"/><path d="M17.4,124.5 L18.1,125.7 L19.0,126.8 L20.0,127.7 L21.3,126.0 L20.5,125.3 L19.9,124.5 L19.3,123.5 Z" fill="#9ccce0"/><path d="M19.0,126.8 L20.0,127.7 L21.3,128.4 L22.7,128.9 L23.2,127.0 L22.1,126.6 L21.3,126.0 L20.5,125.3 Z" fill="#a0cbe0"/><path d="M21.3,128.4 L22.7,128.9 L24.4,129.3 L26.2,129.4 L28.3,129.5 L28.3,127.6 L26.4,127.5 L24.7,127.3 L23.2,127.0 L22.1,126.6 Z" fill="#a4cadf"/><path d="M26.2,129.4 L28.3,129.5 L30.4,129.4 L32.6,129.3 L32.5,127.6 L30.4,127.6 L28.3,127.6 L26.4,127.5 Z" fill="#a7c9df"/><path d="M30.4,129.4 L32.6,129.3 L34.8,129.2 L37.1,129.1 L37.0,127.4 L34.8,127.5 L32.5,127.6 L30.4,127.6 Z" fill="#abc8de"/><path d="M34.8,129.2 L37.1,129.1 L39.2,129.0 L41.3,129.0 L43.2,129.0 L43.3,127.5 L41.3,127.4 L39.2,127.4 L37.0,127.4 L34.8,127.5 Z" fill="#b3c2d9"/><path d="M41.3,129.0 L43.2,129.0 L44.9,129.1 L46.5,129.4 L46.8,128.0 L45.1,127.7 L43.3,127.5 L41.3,127.4 Z" fill="#bdb8d1"/><path d="M44.9,129.1 L46.5,129.4 L48.2,129.7 L49.8,130.0 L50.1,128.7 L48.5,128.3 L46.8,128.0 L45.1,127.7 Z" fill="#c6afca"/><path d="M48.2,129.7 L49.8,130.0 L51.4,130.4 L53.0,130.9 L54.5,131.3 L54.8,130.2 L53.3,129.7 L51.8,129.2 L50.1,128.7 L48.5,128.3 Z" fill="#d0a6c3"/><path d="M53.0,130.9 L54.5,131.3 L55.9,131.8 L57.2,132.2 L57.6,131.2 L56.3,130.7 L54.8,130.2 L53.3,129.7 Z" fill="#d99fbb"/><path d="M55.9,131.8 L57.2,132.2 L58.5,132.6 L59.5,132.9 L59.8,132.0 L58.8,131.6 L57.6,131.2 L56.3,130.7 Z" fill="#e29bb2"/><path d="M58.5,132.6 L59.5,132.9 L60.5,133.2 L61.3,133.4 L61.5,132.6 L60.8,132.3 L59.8,132.0 L58.8,131.6 Z" fill="#ea98aa"/>
<g transform="translate(100.2,125.7) rotate(5.0) scale(1.00)"><path d="M-11,0 C-10,-7 3,-8 12,-2 C13.5,-0.8 13.5,1 12,2 C3,8 -10,7 -11,0Z" fill="#f3df3c"/><ellipse cx="-1.5" cy="0" rx="8.2" ry="5.6" fill="#f0883a"/><ellipse cx="-0.5" cy="0" rx="4.8" ry="3.8" fill="#c23a5a"/><ellipse cx="-0.5" cy="-0.4" rx="2.2" ry="1.7" fill="#ea90a6"/></g>
<path d="M78.7,171.5 L77.9,171.8 L76.8,172.2 L75.6,172.6 L77.0,176.7 L78.2,176.3 L79.2,175.9 L80.1,175.7 Z" fill="#ed754a"/><path d="M76.8,172.2 L75.6,172.6 L74.2,173.1 L72.7,173.7 L74.0,177.6 L75.6,177.1 L77.0,176.7 L78.2,176.3 Z" fill="#ec7452"/><path d="M74.2,173.1 L72.7,173.7 L71.1,174.2 L69.4,174.8 L67.8,175.3 L68.9,179.2 L70.7,178.7 L72.4,178.2 L74.0,177.6 L75.6,177.1 Z" fill="#ea725b"/><path d="M69.4,174.8 L67.8,175.3 L66.0,175.8 L64.3,176.3 L65.3,180.2 L67.1,179.7 L68.9,179.2 L70.7,178.7 Z" fill="#e87063"/><path d="M66.0,175.8 L64.3,176.3 L62.7,176.7 L61.0,177.1 L61.8,180.9 L63.5,180.6 L65.3,180.2 L67.1,179.7 Z" fill="#e07070"/><path d="M62.7,176.7 L61.0,177.1 L59.5,177.3 L57.8,177.5 L56.2,177.7 L56.5,181.5 L58.2,181.4 L60.0,181.2 L61.8,180.9 L63.5,180.6 Z" fill="#d76f7e"/><path d="M57.8,177.5 L56.2,177.7 L54.5,177.8 L52.7,177.9 L52.9,181.7 L54.7,181.6 L56.5,181.5 L58.2,181.4 Z" fill="#ce6e8c"/><path d="M54.5,177.8 L52.7,177.9 L50.9,178.0 L49.1,178.1 L49.3,181.8 L51.1,181.7 L52.9,181.7 L54.7,181.6 Z" fill="#c46f9a"/><path d="M50.9,178.0 L49.1,178.1 L47.2,178.2 L45.3,178.3 L43.4,178.5 L43.7,182.1 L45.6,181.9 L47.4,181.8 L49.3,181.8 L51.1,181.7 Z" fill="#b674a5"/><path d="M45.3,178.3 L43.4,178.5 L41.4,178.8 L39.4,179.1 L40.0,182.5 L41.9,182.3 L43.7,182.1 L45.6,181.9 Z" fill="#a878b1"/><path d="M41.4,178.8 L39.4,179.1 L37.4,179.4 L35.2,179.8 L35.8,183.2 L38.0,182.9 L40.0,182.5 L41.9,182.3 Z" fill="#9a7dbc"/><path d="M37.4,179.4 L35.2,179.8 L32.9,180.3 L30.6,180.7 L28.2,181.2 L28.9,184.5 L31.2,184.0 L33.5,183.6 L35.8,183.2 L38.0,182.9 Z" fill="#9285c4"/><path d="M30.6,180.7 L28.2,181.2 L25.8,181.7 L23.5,182.3 L24.3,185.4 L26.6,184.9 L28.9,184.5 L31.2,184.0 Z" fill="#8c8fc9"/><path d="M25.8,181.7 L23.5,182.3 L21.3,182.9 L19.1,183.5 L20.1,186.5 L22.1,186.0 L24.3,185.4 L26.6,184.9 Z" fill="#869ace"/><path d="M21.3,182.9 L19.1,183.5 L17.1,184.2 L15.3,184.9 L13.7,185.6 L15.1,188.4 L16.5,187.7 L18.2,187.1 L20.1,186.5 L22.1,186.0 Z" fill="#80a4d3"/><path d="M15.3,184.9 L13.7,185.6 L12.3,186.5 L11.0,187.4 L12.7,189.8 L13.9,189.0 L15.1,188.4 L16.5,187.7 Z" fill="#7dacd7"/><path d="M12.3,186.5 L11.0,187.4 L9.8,188.3 L8.8,189.4 L10.9,191.4 L11.7,190.5 L12.7,189.8 L13.9,189.0 Z" fill="#81b2d9"/><path d="M9.8,188.3 L8.8,189.4 L7.9,190.4 L7.1,191.5 L6.5,192.6 L8.9,193.9 L9.4,193.1 L10.1,192.2 L10.9,191.4 L11.7,190.5 Z" fill="#84b7da"/><path d="M7.1,191.5 L6.5,192.6 L5.9,193.7 L5.5,194.8 L8.1,195.6 L8.4,194.8 L8.9,193.9 L9.4,193.1 Z" fill="#87bddc"/><path d="M5.9,193.7 L5.5,194.8 L5.2,195.9 L5.1,197.0 L7.6,197.3 L7.8,196.5 L8.1,195.6 L8.4,194.8 Z" fill="#8bc2de"/><path d="M5.2,195.9 L5.1,197.0 L5.0,198.0 L5.1,199.1 L5.4,200.2 L7.8,199.6 L7.6,198.7 L7.6,198.0 L7.6,197.3 L7.8,196.5 Z" fill="#8ec8e0"/><path d="M5.1,199.1 L5.4,200.2 L5.7,201.3 L6.2,202.5 L8.4,201.5 L8.0,200.5 L7.8,199.6 L7.6,198.7 Z" fill="#92cde2"/><path d="M5.7,201.3 L6.2,202.5 L6.8,203.6 L7.6,204.7 L9.4,203.4 L8.9,202.4 L8.4,201.5 L8.0,200.5 Z" fill="#95cde2"/><path d="M6.8,203.6 L7.6,204.7 L8.4,205.7 L9.4,206.7 L10.4,207.5 L11.7,205.7 L10.8,205.0 L10.1,204.2 L9.4,203.4 L8.9,202.4 Z" fill="#99cce1"/><path d="M9.4,206.7 L10.4,207.5 L11.6,208.2 L12.9,208.6 L13.5,206.7 L12.5,206.2 L11.7,205.7 L10.8,205.0 Z" fill="#9ccce0"/><path d="M11.6,208.2 L12.9,208.6 L14.3,208.9 L15.8,208.9 L15.7,206.9 L14.5,206.9 L13.5,206.7 L12.5,206.2 Z" fill="#a0cbe0"/><path d="M14.3,208.9 L15.8,208.9 L17.4,208.8 L19.1,208.4 L21.0,207.9 L20.5,206.1 L18.7,206.5 L17.1,206.8 L15.7,206.9 L14.5,206.9 Z" fill="#a4cadf"/><path d="M19.1,208.4 L21.0,207.9 L22.9,207.3 L24.9,206.6 L24.3,204.9 L22.3,205.6 L20.5,206.1 L18.7,206.5 Z" fill="#a7c9df"/><path d="M22.9,207.3 L24.9,206.6 L26.9,205.9 L28.9,205.1 L28.3,203.5 L26.3,204.2 L24.3,204.9 L22.3,205.6 Z" fill="#abc8de"/><path d="M26.9,205.9 L28.9,205.1 L30.8,204.3 L32.7,203.5 L34.5,202.8 L34.0,201.4 L32.2,202.1 L30.2,202.8 L28.3,203.5 L26.3,204.2 Z" fill="#b3c2d9"/><path d="M32.7,203.5 L34.5,202.8 L36.2,202.2 L37.9,201.6 L37.4,200.2 L35.8,200.8 L34.0,201.4 L32.2,202.1 Z" fill="#bdb8d1"/><path d="M36.2,202.2 L37.9,201.6 L39.7,200.9 L41.4,200.2 L40.9,199.0 L39.2,199.6 L37.4,200.2 L35.8,200.8 Z" fill="#c6afca"/><path d="M39.7,200.9 L41.4,200.2 L43.2,199.5 L44.9,198.8 L46.6,198.0 L46.1,197.0 L44.4,197.6 L42.7,198.3 L40.9,199.0 L39.2,199.6 Z" fill="#d0a6c3"/><path d="M44.9,198.8 L46.6,198.0 L48.2,197.4 L49.7,196.7 L49.3,195.7 L47.7,196.3 L46.1,197.0 L44.4,197.6 Z" fill="#d99fbb"/><path d="M48.2,197.4 L49.7,196.7 L51.0,196.1 L52.3,195.5 L51.9,194.7 L50.7,195.1 L49.3,195.7 L47.7,196.3 Z" fill="#e29bb2"/><path d="M51.0,196.1 L52.3,195.5 L53.3,195.1 L54.2,194.7 L53.8,193.9 L53.0,194.2 L51.9,194.7 L50.7,195.1 Z" fill="#ea98aa"/>
<g transform="translate(88.5,170.0) rotate(-18.0) scale(1.00)"><path d="M-11,0 C-10,-7 3,-8 12,-2 C13.5,-0.8 13.5,1 12,2 C3,8 -10,7 -11,0Z" fill="#f3df3c"/><ellipse cx="-1.5" cy="0" rx="8.2" ry="5.6" fill="#f0883a"/><ellipse cx="-0.5" cy="0" rx="4.8" ry="3.8" fill="#c23a5a"/><ellipse cx="-0.5" cy="-0.4" rx="2.2" ry="1.7" fill="#ea90a6"/></g>
<path d="M272.7,113.1 L273.6,112.9 L274.8,112.7 L276.1,112.4 L275.3,108.2 L273.9,108.4 L272.7,108.7 L271.7,108.9 Z" fill="#ed754a"/><path d="M274.8,112.7 L276.1,112.4 L277.7,112.0 L279.4,111.7 L278.5,107.5 L276.8,107.9 L275.3,108.2 L273.9,108.4 Z" fill="#ec7452"/><path d="M277.7,112.0 L279.4,111.7 L281.2,111.3 L283.1,110.8 L285.0,110.4 L284.0,106.4 L282.1,106.8 L280.3,107.2 L278.5,107.5 L276.8,107.9 Z" fill="#ea725b"/><path d="M283.1,110.8 L285.0,110.4 L286.9,109.9 L288.8,109.4 L287.7,105.5 L285.9,106.0 L284.0,106.4 L282.1,106.8 Z" fill="#e87063"/><path d="M286.9,109.9 L288.8,109.4 L290.6,108.8 L292.3,108.3 L291.1,104.5 L289.4,105.0 L287.7,105.5 L285.9,106.0 Z" fill="#e07070"/><path d="M290.6,108.8 L292.3,108.3 L294.0,107.7 L295.7,107.0 L297.3,106.2 L295.7,102.7 L294.2,103.4 L292.6,104.0 L291.1,104.5 L289.4,105.0 Z" fill="#d76f7e"/><path d="M295.7,107.0 L297.3,106.2 L299.0,105.4 L300.6,104.6 L298.9,101.3 L297.3,102.0 L295.7,102.7 L294.2,103.4 Z" fill="#ce6e8c"/><path d="M299.0,105.4 L300.6,104.6 L302.2,103.8 L303.7,103.0 L302.1,99.7 L300.5,100.5 L298.9,101.3 L297.3,102.0 Z" fill="#c46f9a"/><path d="M302.2,103.8 L303.7,103.0 L305.3,102.3 L306.9,101.5 L308.4,100.8 L307.1,97.5 L305.4,98.2 L303.8,99.0 L302.1,99.7 L300.5,100.5 Z" fill="#b674a5"/><path d="M306.9,101.5 L308.4,100.8 L310.0,100.2 L311.6,99.7 L310.4,96.3 L308.8,96.9 L307.1,97.5 L305.4,98.2 Z" fill="#a878b1"/><path d="M310.0,100.2 L311.6,99.7 L313.2,99.1 L314.8,98.6 L313.8,95.3 L312.1,95.8 L310.4,96.3 L308.8,96.9 Z" fill="#9a7dbc"/><path d="M313.2,99.1 L314.8,98.6 L316.5,98.0 L318.2,97.4 L319.9,96.9 L319.0,93.7 L317.2,94.2 L315.5,94.8 L313.8,95.3 L312.1,95.8 Z" fill="#9285c4"/><path d="M318.2,97.4 L319.9,96.9 L321.5,96.5 L323.2,96.1 L322.5,92.9 L320.7,93.3 L319.0,93.7 L317.2,94.2 Z" fill="#8c8fc9"/><path d="M321.5,96.5 L323.2,96.1 L324.7,95.7 L326.3,95.5 L325.9,92.4 L324.2,92.6 L322.5,92.9 L320.7,93.3 Z" fill="#869ace"/><path d="M324.7,95.7 L326.3,95.5 L327.7,95.4 L329.1,95.4 L330.4,95.5 L330.8,92.5 L329.3,92.3 L327.6,92.3 L325.9,92.4 L324.2,92.6 Z" fill="#80a4d3"/><path d="M329.1,95.4 L330.4,95.5 L331.6,95.8 L332.9,96.2 L334.0,93.4 L332.4,92.9 L330.8,92.5 L329.3,92.3 Z" fill="#7dacd7"/><path d="M331.6,95.8 L332.9,96.2 L334.3,96.7 L335.7,97.4 L337.0,94.8 L335.5,94.0 L334.0,93.4 L332.4,92.9 Z" fill="#81b2d9"/><path d="M334.3,96.7 L335.7,97.4 L337.0,98.1 L338.3,98.9 L339.4,99.8 L341.2,97.6 L339.9,96.6 L338.5,95.7 L337.0,94.8 L335.5,94.0 Z" fill="#84b7da"/><path d="M338.3,98.9 L339.4,99.8 L340.5,100.7 L341.5,101.6 L343.4,99.8 L342.4,98.7 L341.2,97.6 L339.9,96.6 Z" fill="#87bddc"/><path d="M340.5,100.7 L341.5,101.6 L342.2,102.5 L342.8,103.3 L345.1,102.0 L344.3,100.9 L343.4,99.8 L342.4,98.7 Z" fill="#8bc2de"/><path d="M342.2,102.5 L342.8,103.3 L343.2,104.0 L343.4,104.8 L343.5,105.7 L346.0,105.6 L345.9,104.4 L345.6,103.2 L345.1,102.0 L344.3,100.9 Z" fill="#8ec8e0"/><path d="M343.4,104.8 L343.5,105.7 L343.5,106.7 L343.3,107.8 L345.7,108.3 L345.9,107.0 L346.0,105.6 L345.9,104.4 Z" fill="#92cde2"/><path d="M343.5,106.7 L343.3,107.8 L343.1,108.9 L342.7,110.0 L344.8,110.9 L345.3,109.6 L345.7,108.3 L345.9,107.0 Z" fill="#95cde2"/><path d="M343.1,108.9 L342.7,110.0 L342.2,111.1 L341.6,112.2 L340.9,113.1 L342.5,114.5 L343.4,113.4 L344.2,112.2 L344.8,110.9 L345.3,109.6 Z" fill="#99cce1"/><path d="M341.6,112.2 L340.9,113.1 L340.1,113.9 L339.3,114.6 L340.5,116.3 L341.6,115.5 L342.5,114.5 L343.4,113.4 Z" fill="#9ccce0"/><path d="M340.1,113.9 L339.3,114.6 L338.5,115.1 L337.6,115.4 L338.0,117.3 L339.3,116.9 L340.5,116.3 L341.6,115.5 Z" fill="#a0cbe0"/><path d="M338.5,115.1 L337.6,115.4 L336.4,115.5 L335.1,115.6 L333.5,115.4 L333.3,117.3 L335.0,117.5 L336.5,117.5 L338.0,117.3 L339.3,116.9 Z" fill="#a4cadf"/><path d="M335.1,115.6 L333.5,115.4 L331.9,115.2 L330.2,115.0 L329.9,116.7 L331.6,117.0 L333.3,117.3 L335.0,117.5 Z" fill="#a7c9df"/><path d="M331.9,115.2 L330.2,115.0 L328.4,114.7 L326.5,114.4 L326.3,116.1 L328.1,116.4 L329.9,116.7 L331.6,117.0 Z" fill="#abc8de"/><path d="M328.4,114.7 L326.5,114.4 L324.7,114.1 L322.9,114.0 L321.1,113.9 L321.1,115.4 L322.7,115.5 L324.5,115.8 L326.3,116.1 L328.1,116.4 Z" fill="#b3c2d9"/><path d="M322.9,114.0 L321.1,113.9 L319.4,114.0 L317.6,114.2 L317.8,115.6 L319.4,115.4 L321.1,115.4 L322.7,115.5 Z" fill="#bdb8d1"/><path d="M319.4,114.0 L317.6,114.2 L315.8,114.5 L314.0,114.8 L314.2,116.1 L316.1,115.8 L317.8,115.6 L319.4,115.4 Z" fill="#c6afca"/><path d="M315.8,114.5 L314.0,114.8 L312.1,115.2 L310.2,115.7 L308.3,116.2 L308.6,117.3 L310.5,116.9 L312.3,116.5 L314.2,116.1 L316.1,115.8 Z" fill="#d0a6c3"/><path d="M310.2,115.7 L308.3,116.2 L306.6,116.7 L304.9,117.2 L305.2,118.2 L306.8,117.8 L308.6,117.3 L310.5,116.9 Z" fill="#d99fbb"/><path d="M306.6,116.7 L304.9,117.2 L303.4,117.6 L302.0,118.0 L302.2,118.9 L303.6,118.6 L305.2,118.2 L306.8,117.8 Z" fill="#e29bb2"/><path d="M303.4,117.6 L302.0,118.0 L300.8,118.3 L299.9,118.6 L300.1,119.4 L301.0,119.2 L302.2,118.9 L303.6,118.6 Z" fill="#ea98aa"/>
<g transform="translate(261.0,112.0) rotate(177.0) scale(1.00)"><path d="M-11,0 C-10,-7 3,-8 12,-2 C13.5,-0.8 13.5,1 12,2 C3,8 -10,7 -11,0Z" fill="#f3df3c"/><ellipse cx="-1.5" cy="0" rx="8.2" ry="5.6" fill="#f0883a"/><ellipse cx="-0.5" cy="0" rx="4.8" ry="3.8" fill="#c23a5a"/><ellipse cx="-0.5" cy="-0.4" rx="2.2" ry="1.7" fill="#ea90a6"/></g>
<path d="M277.5,148.3 L278.1,148.8 L278.8,149.5 L279.6,150.3 L282.6,147.2 L281.8,146.4 L281.1,145.7 L280.5,145.1 Z" fill="#ed754a"/><path d="M278.8,149.5 L279.6,150.3 L280.6,151.2 L281.6,152.2 L284.5,149.2 L283.5,148.2 L282.6,147.2 L281.8,146.4 Z" fill="#ec7452"/><path d="M280.6,151.2 L281.6,152.2 L282.7,153.2 L283.9,154.3 L285.1,155.5 L287.9,152.5 L286.7,151.4 L285.6,150.2 L284.5,149.2 L283.5,148.2 Z" fill="#ea725b"/><path d="M283.9,154.3 L285.1,155.5 L286.4,156.7 L287.7,157.9 L290.4,155.0 L289.2,153.8 L287.9,152.5 L286.7,151.4 Z" fill="#e87063"/><path d="M286.4,156.7 L287.7,157.9 L289.0,159.2 L290.3,160.4 L293.1,157.6 L291.7,156.3 L290.4,155.0 L289.2,153.8 Z" fill="#e07070"/><path d="M289.0,159.2 L290.3,160.4 L291.7,161.7 L293.2,163.1 L294.7,164.6 L297.4,161.8 L295.9,160.3 L294.4,158.9 L293.1,157.6 L291.7,156.3 Z" fill="#d76f7e"/><path d="M293.2,163.1 L294.7,164.6 L296.3,166.1 L298.0,167.7 L300.6,164.9 L299.0,163.4 L297.4,161.8 L295.9,160.3 Z" fill="#ce6e8c"/><path d="M296.3,166.1 L298.0,167.7 L299.6,169.2 L301.3,170.8 L303.9,168.2 L302.2,166.5 L300.6,164.9 L299.0,163.4 Z" fill="#c46f9a"/><path d="M299.6,169.2 L301.3,170.8 L303.1,172.4 L304.8,174.0 L306.5,175.5 L308.9,172.8 L307.2,171.3 L305.5,169.7 L303.9,168.2 L302.2,166.5 Z" fill="#b674a5"/><path d="M304.8,174.0 L306.5,175.5 L308.2,177.0 L309.9,178.3 L312.1,175.7 L310.5,174.3 L308.9,172.8 L307.2,171.3 Z" fill="#a878b1"/><path d="M308.2,177.0 L309.9,178.3 L311.5,179.7 L313.2,181.1 L315.4,178.5 L313.7,177.0 L312.1,175.7 L310.5,174.3 Z" fill="#9a7dbc"/><path d="M311.5,179.7 L313.2,181.1 L314.9,182.5 L316.5,183.9 L318.3,185.2 L320.3,182.7 L318.7,181.3 L317.0,179.9 L315.4,178.5 L313.7,177.0 Z" fill="#9285c4"/><path d="M316.5,183.9 L318.3,185.2 L320.0,186.6 L321.7,187.9 L323.6,185.2 L322.0,184.0 L320.3,182.7 L318.7,181.3 Z" fill="#8c8fc9"/><path d="M320.0,186.6 L321.7,187.9 L323.4,189.0 L325.1,190.1 L326.7,187.4 L325.2,186.4 L323.6,185.2 L322.0,184.0 Z" fill="#869ace"/><path d="M323.4,189.0 L325.1,190.1 L326.8,191.1 L328.5,191.8 L330.1,192.4 L331.1,189.6 L329.7,189.0 L328.2,188.3 L326.7,187.4 L325.2,186.4 Z" fill="#80a4d3"/><path d="M328.5,191.8 L330.1,192.4 L331.9,192.9 L333.6,193.1 L333.9,190.2 L332.4,189.9 L331.1,189.6 L329.7,189.0 Z" fill="#7dacd7"/><path d="M331.9,192.9 L333.6,193.1 L335.4,193.2 L337.1,193.2 L337.0,190.3 L335.5,190.3 L333.9,190.2 L332.4,189.9 Z" fill="#81b2d9"/><path d="M335.4,193.2 L337.1,193.2 L338.9,193.0 L340.5,192.8 L342.2,192.4 L341.5,189.7 L340.1,190.0 L338.6,190.2 L337.0,190.3 L335.5,190.3 Z" fill="#84b7da"/><path d="M340.5,192.8 L342.2,192.4 L343.7,191.9 L345.0,191.4 L343.9,188.9 L342.8,189.4 L341.5,189.7 L340.1,190.0 Z" fill="#87bddc"/><path d="M343.7,191.9 L345.0,191.4 L346.3,190.7 L347.3,190.0 L345.7,188.0 L344.9,188.5 L343.9,188.9 L342.8,189.4 Z" fill="#8bc2de"/><path d="M346.3,190.7 L347.3,190.0 L348.2,189.1 L348.8,188.1 L349.2,187.0 L346.9,186.3 L346.6,187.0 L346.2,187.5 L345.7,188.0 L344.9,188.5 Z" fill="#8ec8e0"/><path d="M348.8,188.1 L349.2,187.0 L349.5,185.7 L349.5,184.4 L347.1,184.4 L347.0,185.4 L346.9,186.3 L346.6,187.0 Z" fill="#92cde2"/><path d="M349.5,185.7 L349.5,184.4 L349.4,183.1 L349.2,181.7 L346.9,182.2 L347.1,183.4 L347.1,184.4 L347.0,185.4 Z" fill="#95cde2"/><path d="M349.4,183.1 L349.2,181.7 L348.8,180.3 L348.3,178.9 L347.7,177.6 L345.7,178.5 L346.2,179.7 L346.6,181.0 L346.9,182.2 L347.1,183.4 Z" fill="#99cce1"/><path d="M348.3,178.9 L347.7,177.6 L347.0,176.2 L346.1,174.9 L344.4,176.1 L345.1,177.3 L345.7,178.5 L346.2,179.7 Z" fill="#9ccce0"/><path d="M347.0,176.2 L346.1,174.9 L345.2,173.7 L344.0,172.6 L342.7,174.0 L343.6,175.1 L344.4,176.1 L345.1,177.3 Z" fill="#a0cbe0"/><path d="M345.2,173.7 L344.0,172.6 L342.7,171.4 L341.2,170.3 L339.5,169.2 L338.5,170.8 L340.1,171.9 L341.5,173.0 L342.7,174.0 L343.6,175.1 Z" fill="#a4cadf"/><path d="M341.2,170.3 L339.5,169.2 L337.8,168.1 L335.9,167.1 L335.0,168.6 L336.8,169.7 L338.5,170.8 L340.1,171.9 Z" fill="#a7c9df"/><path d="M337.8,168.1 L335.9,167.1 L334.1,166.1 L332.2,165.0 L331.4,166.5 L333.2,167.6 L335.0,168.6 L336.8,169.7 Z" fill="#abc8de"/><path d="M334.1,166.1 L332.2,165.0 L330.3,164.1 L328.6,163.1 L326.9,162.2 L326.1,163.6 L327.8,164.5 L329.6,165.5 L331.4,166.5 L333.2,167.6 Z" fill="#b3c2d9"/><path d="M328.6,163.1 L326.9,162.2 L325.4,161.4 L323.9,160.5 L323.2,161.8 L324.6,162.6 L326.1,163.6 L327.8,164.5 Z" fill="#bdb8d1"/><path d="M325.4,161.4 L323.9,160.5 L322.4,159.7 L320.9,158.8 L320.2,160.0 L321.7,160.9 L323.2,161.8 L324.6,162.6 Z" fill="#c6afca"/><path d="M322.4,159.7 L320.9,158.8 L319.3,158.0 L317.9,157.2 L316.4,156.5 L315.9,157.5 L317.3,158.3 L318.7,159.2 L320.2,160.0 L321.7,160.9 Z" fill="#d0a6c3"/><path d="M317.9,157.2 L316.4,156.5 L315.0,155.8 L313.8,155.2 L313.3,156.1 L314.5,156.8 L315.9,157.5 L317.3,158.3 Z" fill="#d99fbb"/><path d="M315.0,155.8 L313.8,155.2 L312.6,154.6 L311.5,154.0 L311.1,154.9 L312.1,155.5 L313.3,156.1 L314.5,156.8 Z" fill="#e29bb2"/><path d="M312.6,154.6 L311.5,154.0 L310.6,153.6 L309.9,153.2 L309.5,154.0 L310.2,154.4 L311.1,154.9 L312.1,155.5 Z" fill="#ea98aa"/>
<g transform="translate(268.0,141.0) rotate(208.0) scale(1.00)"><path d="M-11,0 C-10,-7 3,-8 12,-2 C13.5,-0.8 13.5,1 12,2 C3,8 -10,7 -11,0Z" fill="#f3df3c"/><ellipse cx="-1.5" cy="0" rx="8.2" ry="5.6" fill="#f0883a"/><ellipse cx="-0.5" cy="0" rx="4.8" ry="3.8" fill="#c23a5a"/><ellipse cx="-0.5" cy="-0.4" rx="2.2" ry="1.7" fill="#ea90a6"/></g>
<path d="M339.5,71.0 L340.2,70.8 L341.0,70.5 L342.0,70.2 L340.8,66.1 L339.8,66.4 L339.0,66.6 L338.3,66.8 Z" fill="#ed754a"/><path d="M341.0,70.5 L342.0,70.2 L343.1,69.9 L344.3,69.5 L345.6,69.1 L344.4,65.1 L343.1,65.5 L341.9,65.8 L340.8,66.1 L339.8,66.4 Z" fill="#ec7452"/><path d="M344.3,69.5 L345.6,69.1 L346.9,68.7 L348.3,68.3 L349.8,67.8 L348.5,63.9 L347.1,64.3 L345.7,64.7 L344.4,65.1 L343.1,65.5 Z" fill="#ea725b"/><path d="M348.3,68.3 L349.8,67.8 L351.2,67.3 L352.6,66.8 L351.3,63.0 L349.9,63.5 L348.5,63.9 L347.1,64.3 Z" fill="#e87063"/><path d="M351.2,67.3 L352.6,66.8 L354.0,66.3 L355.4,65.7 L356.8,65.1 L355.3,61.5 L353.9,62.0 L352.6,62.5 L351.3,63.0 L349.9,63.5 Z" fill="#e07070"/><path d="M355.4,65.7 L356.8,65.1 L358.2,64.5 L359.7,63.9 L361.2,63.2 L359.7,59.7 L358.2,60.3 L356.7,60.9 L355.3,61.5 L353.9,62.0 Z" fill="#d76f7e"/><path d="M359.7,63.9 L361.2,63.2 L362.7,62.6 L364.2,61.9 L362.7,58.4 L361.2,59.1 L359.7,59.7 L358.2,60.3 Z" fill="#ce6e8c"/><path d="M362.7,62.6 L364.2,61.9 L365.7,61.2 L367.3,60.5 L368.8,59.8 L367.2,56.4 L365.7,57.1 L364.2,57.8 L362.7,58.4 L361.2,59.1 Z" fill="#c46f9a"/><path d="M367.3,60.5 L368.8,59.8 L370.3,59.1 L371.8,58.3 L373.3,57.6 L371.7,54.4 L370.2,55.1 L368.7,55.7 L367.2,56.4 L365.7,57.1 Z" fill="#b674a5"/><path d="M371.8,58.3 L373.3,57.6 L374.8,56.8 L376.4,56.0 L374.7,52.9 L373.2,53.6 L371.7,54.4 L370.2,55.1 Z" fill="#a878b1"/><path d="M374.8,56.8 L376.4,56.0 L377.9,55.1 L379.4,54.3 L380.9,53.4 L379.3,50.4 L377.7,51.2 L376.2,52.0 L374.7,52.9 L373.2,53.6 Z" fill="#9a7dbc"/><path d="M379.4,54.3 L380.9,53.4 L382.4,52.6 L383.9,51.8 L385.3,51.1 L383.9,48.1 L382.3,48.8 L380.8,49.6 L379.3,50.4 L377.7,51.2 Z" fill="#9285c4"/><path d="M383.9,51.8 L385.3,51.1 L386.7,50.4 L388.1,49.8 L386.9,46.8 L385.4,47.4 L383.9,48.1 L382.3,48.8 Z" fill="#8c8fc9"/><path d="M386.7,50.4 L388.1,49.8 L389.4,49.3 L390.8,48.9 L392.2,48.4 L391.3,45.4 L389.8,45.8 L388.4,46.3 L386.9,46.8 L385.4,47.4 Z" fill="#869ace"/><path d="M390.8,48.9 L392.2,48.4 L393.5,48.0 L394.9,47.7 L396.2,47.3 L395.6,44.4 L394.2,44.7 L392.7,45.0 L391.3,45.4 L389.8,45.8 Z" fill="#80a4d3"/><path d="M394.9,47.7 L396.2,47.3 L397.5,47.1 L398.8,46.9 L398.4,43.9 L397.0,44.1 L395.6,44.4 L394.2,44.7 Z" fill="#7dacd7"/><path d="M397.5,47.1 L398.8,46.9 L400.0,46.7 L401.1,46.7 L402.2,46.7 L402.4,43.8 L401.1,43.8 L399.8,43.8 L398.4,43.9 L397.0,44.1 Z" fill="#81b2d9"/><path d="M401.1,46.7 L402.2,46.7 L403.2,46.8 L404.0,46.9 L404.8,47.2 L405.9,44.7 L404.8,44.3 L403.6,44.0 L402.4,43.8 L401.1,43.8 Z" fill="#84b7da"/><path d="M404.0,46.9 L404.8,47.2 L405.6,47.6 L406.4,48.1 L408.0,45.9 L407.0,45.2 L405.9,44.7 L404.8,44.3 Z" fill="#87bddc"/><path d="M405.6,47.6 L406.4,48.1 L407.2,48.7 L407.9,49.3 L408.6,50.1 L410.6,48.4 L409.8,47.5 L408.9,46.7 L408.0,45.9 L407.0,45.2 Z" fill="#8bc2de"/><path d="M407.9,49.3 L408.6,50.1 L409.3,50.8 L409.8,51.6 L410.3,52.4 L412.5,51.3 L411.9,50.3 L411.3,49.3 L410.6,48.4 L409.8,47.5 Z" fill="#8ec8e0"/><path d="M409.8,51.6 L410.3,52.4 L410.6,53.2 L410.9,53.9 L413.2,53.3 L412.9,52.3 L412.5,51.3 L411.9,50.3 Z" fill="#92cde2"/><path d="M410.6,53.2 L410.9,53.9 L411.0,54.5 L411.1,55.2 L411.1,56.0 L413.3,56.2 L413.4,55.2 L413.4,54.3 L413.2,53.3 L412.9,52.3 Z" fill="#95cde2"/><path d="M411.1,55.2 L411.1,56.0 L410.9,56.8 L410.7,57.6 L410.5,58.5 L412.5,59.3 L412.9,58.3 L413.2,57.2 L413.3,56.2 L413.4,55.2 Z" fill="#99cce1"/><path d="M410.7,57.6 L410.5,58.5 L410.1,59.3 L409.6,60.2 L411.4,61.3 L412.0,60.3 L412.5,59.3 L412.9,58.3 Z" fill="#9ccce0"/><path d="M410.1,59.3 L409.6,60.2 L409.1,61.0 L408.5,61.7 L407.8,62.4 L409.1,63.9 L410.0,63.1 L410.8,62.2 L411.4,61.3 L412.0,60.3 Z" fill="#a0cbe0"/><path d="M408.5,61.7 L407.8,62.4 L407.1,63.0 L406.3,63.6 L405.3,64.0 L406.0,65.7 L407.1,65.2 L408.2,64.6 L409.1,63.9 L410.0,63.1 Z" fill="#a4cadf"/><path d="M406.3,63.6 L405.3,64.0 L404.3,64.3 L403.0,64.6 L403.3,66.3 L404.7,66.1 L406.0,65.7 L407.1,65.2 Z" fill="#a7c9df"/><path d="M404.3,64.3 L403.0,64.6 L401.7,64.7 L400.2,64.9 L398.7,65.0 L398.7,66.7 L400.3,66.6 L401.8,66.5 L403.3,66.3 L404.7,66.1 Z" fill="#abc8de"/><path d="M400.2,64.9 L398.7,65.0 L397.1,65.1 L395.4,65.2 L393.7,65.3 L393.8,66.9 L395.5,66.8 L397.1,66.7 L398.7,66.7 L400.3,66.6 Z" fill="#b3c2d9"/><path d="M395.4,65.2 L393.7,65.3 L392.1,65.5 L390.4,65.7 L390.6,67.1 L392.2,67.0 L393.8,66.9 L395.5,66.8 Z" fill="#bdb8d1"/><path d="M392.1,65.5 L390.4,65.7 L388.8,66.0 L387.1,66.4 L385.3,66.9 L385.6,68.1 L387.4,67.7 L389.0,67.4 L390.6,67.1 L392.2,67.0 Z" fill="#c6afca"/><path d="M387.1,66.4 L385.3,66.9 L383.4,67.4 L381.5,67.9 L379.5,68.5 L379.9,69.6 L381.8,69.1 L383.7,68.6 L385.6,68.1 L387.4,67.7 Z" fill="#d0a6c3"/><path d="M381.5,67.9 L379.5,68.5 L377.6,69.0 L375.8,69.6 L376.1,70.7 L377.9,70.1 L379.9,69.6 L381.8,69.1 Z" fill="#d99fbb"/><path d="M377.6,69.0 L375.8,69.6 L374.0,70.2 L372.4,70.7 L371.0,71.1 L371.2,72.0 L372.7,71.6 L374.3,71.2 L376.1,70.7 L377.9,70.1 Z" fill="#e29bb2"/><path d="M372.4,70.7 L371.0,71.1 L369.8,71.5 L368.8,71.8 L369.0,72.6 L370.0,72.3 L371.2,72.0 L372.7,71.6 Z" fill="#ea98aa"/>
<g transform="translate(328.9,69.6) rotate(175.0) scale(1.00)"><path d="M-11,0 C-10,-7 3,-8 12,-2 C13.5,-0.8 13.5,1 12,2 C3,8 -10,7 -11,0Z" fill="#f3df3c"/><ellipse cx="-1.5" cy="0" rx="8.2" ry="5.6" fill="#f0883a"/><ellipse cx="-0.5" cy="0" rx="4.8" ry="3.8" fill="#c23a5a"/><ellipse cx="-0.5" cy="-0.4" rx="2.2" ry="1.7" fill="#ea90a6"/></g>
<ellipse cx="181.0" cy="117.5" rx="65.0" ry="60.0" fill="url(#gZona)"/>
<ellipse cx="181.0" cy="117.5" rx="64.2" ry="59.2" fill="none" stroke="#74b3be" stroke-width="1.3"/>
<ellipse cx="181.0" cy="117.5" rx="60.0" ry="55.0" fill="none" stroke="#d3e4ec" stroke-width="2.2" opacity="0.6" stroke-dasharray="58 39" filter="url(#soft)"/>
<ellipse cx="179.3" cy="115.7" rx="30.5" ry="30.8" fill="url(#gEggL)"/>
<ellipse cx="179.3" cy="115.7" rx="30.5" ry="30.8" fill="url(#gEggR)"/>
<ellipse cx="175.2" cy="115" rx="8.7" ry="8.9" fill="url(#gNuc)" stroke="#cf5f80" stroke-width="0.8"/>
<path d="M227.5,94.4 L228.3,93.9 L229.1,93.3 L230.0,92.7 L227.6,89.2 L226.7,89.8 L225.9,90.2 L225.3,90.6 Z" fill="#ed754a"/><path d="M229.1,93.3 L230.0,92.7 L231.0,91.9 L232.1,91.2 L229.7,87.7 L228.6,88.5 L227.6,89.2 L226.7,89.8 Z" fill="#ec7452"/><path d="M231.0,91.9 L232.1,91.2 L233.3,90.4 L234.5,89.6 L235.9,88.8 L233.9,85.2 L232.4,86.0 L231.0,86.9 L229.7,87.7 L228.6,88.5 Z" fill="#ea725b"/><path d="M234.5,89.6 L235.9,88.8 L237.3,88.0 L238.9,87.3 L237.3,83.6 L235.6,84.3 L233.9,85.2 L232.4,86.0 Z" fill="#e87063"/><path d="M237.3,88.0 L238.9,87.3 L240.5,86.7 L242.2,86.1 L241.2,82.3 L239.2,82.9 L237.3,83.6 L235.6,84.3 Z" fill="#e07070"/><path d="M240.5,86.7 L242.2,86.1 L244.1,85.6 L246.3,85.2 L248.7,84.9 L248.2,81.1 L245.7,81.4 L243.3,81.8 L241.2,82.3 L239.2,82.9 Z" fill="#d76f7e"/><path d="M246.3,85.2 L248.7,84.9 L251.3,84.5 L253.9,84.2 L253.6,80.5 L250.8,80.8 L248.2,81.1 L245.7,81.4 Z" fill="#ce6e8c"/><path d="M251.3,84.5 L253.9,84.2 L256.7,84.0 L259.5,83.7 L259.1,80.0 L256.3,80.2 L253.6,80.5 L250.8,80.8 Z" fill="#c46f9a"/><path d="M256.7,84.0 L259.5,83.7 L262.3,83.4 L265.0,83.0 L267.7,82.7 L267.2,79.1 L264.6,79.4 L261.9,79.7 L259.1,80.0 L256.3,80.2 Z" fill="#b674a5"/><path d="M265.0,83.0 L267.7,82.7 L270.2,82.2 L272.6,81.7 L271.8,78.3 L269.6,78.7 L267.2,79.1 L264.6,79.4 Z" fill="#a878b1"/><path d="M270.2,82.2 L272.6,81.7 L274.8,81.1 L277.0,80.6 L276.2,77.2 L274.0,77.8 L271.8,78.3 L269.6,78.7 Z" fill="#9a7dbc"/><path d="M274.8,81.1 L277.0,80.6 L279.2,79.9 L281.4,79.3 L283.5,78.6 L282.5,75.5 L280.5,76.1 L278.3,76.7 L276.2,77.2 L274.0,77.8 Z" fill="#9285c4"/><path d="M281.4,79.3 L283.5,78.6 L285.6,77.9 L287.5,77.2 L286.4,74.2 L284.5,74.8 L282.5,75.5 L280.5,76.1 Z" fill="#8c8fc9"/><path d="M285.6,77.9 L287.5,77.2 L289.4,76.4 L291.1,75.6 L289.7,72.7 L288.1,73.5 L286.4,74.2 L284.5,74.8 Z" fill="#869ace"/><path d="M289.4,76.4 L291.1,75.6 L292.7,74.7 L294.1,73.8 L295.4,72.9 L293.4,70.5 L292.4,71.3 L291.2,72.0 L289.7,72.7 L288.1,73.5 Z" fill="#80a4d3"/><path d="M294.1,73.8 L295.4,72.9 L296.5,71.8 L297.4,70.6 L295.0,68.9 L294.3,69.8 L293.4,70.5 L292.4,71.3 Z" fill="#7dacd7"/><path d="M296.5,71.8 L297.4,70.6 L298.1,69.4 L298.7,68.1 L296.1,67.0 L295.6,68.0 L295.0,68.9 L294.3,69.8 Z" fill="#81b2d9"/><path d="M298.1,69.4 L298.7,68.1 L299.2,66.8 L299.4,65.5 L299.6,64.2 L296.8,64.0 L296.7,65.0 L296.4,66.0 L296.1,67.0 L295.6,68.0 Z" fill="#84b7da"/><path d="M299.4,65.5 L299.6,64.2 L299.6,63.0 L299.5,61.7 L296.8,62.1 L296.9,63.1 L296.8,64.0 L296.7,65.0 Z" fill="#87bddc"/><path d="M299.6,63.0 L299.5,61.7 L299.2,60.6 L298.8,59.5 L296.4,60.5 L296.7,61.3 L296.8,62.1 L296.9,63.1 Z" fill="#8bc2de"/><path d="M299.2,60.6 L298.8,59.5 L298.3,58.5 L297.6,57.6 L296.7,56.8 L295.1,58.6 L295.7,59.3 L296.1,59.9 L296.4,60.5 L296.7,61.3 Z" fill="#8ec8e0"/><path d="M297.6,57.6 L296.7,56.8 L295.8,56.0 L294.6,55.2 L293.4,57.3 L294.3,57.9 L295.1,58.6 L295.7,59.3 Z" fill="#92cde2"/><path d="M295.8,56.0 L294.6,55.2 L293.4,54.6 L292.1,54.0 L291.2,56.1 L292.3,56.6 L293.4,57.3 L294.3,57.9 Z" fill="#95cde2"/><path d="M293.4,54.6 L292.1,54.0 L290.7,53.4 L289.2,53.0 L287.7,52.7 L287.4,54.8 L288.7,55.1 L290.0,55.6 L291.2,56.1 L292.3,56.6 Z" fill="#99cce1"/><path d="M289.2,53.0 L287.7,52.7 L286.2,52.5 L284.7,52.5 L284.7,54.6 L286.0,54.6 L287.4,54.8 L288.7,55.1 Z" fill="#9ccce0"/><path d="M286.2,52.5 L284.7,52.5 L283.2,52.6 L281.6,52.9 L282.1,54.8 L283.4,54.6 L284.7,54.6 L286.0,54.6 Z" fill="#a0cbe0"/><path d="M283.2,52.6 L281.6,52.9 L280.0,53.4 L278.4,54.1 L276.7,55.0 L277.5,56.6 L279.1,55.9 L280.7,55.3 L282.1,54.8 L283.4,54.6 Z" fill="#a4cadf"/><path d="M278.4,54.1 L276.7,55.0 L275.0,55.9 L273.2,56.9 L274.1,58.4 L275.8,57.5 L277.5,56.6 L279.1,55.9 Z" fill="#a7c9df"/><path d="M275.0,55.9 L273.2,56.9 L271.5,57.9 L269.8,59.0 L270.7,60.4 L272.4,59.4 L274.1,58.4 L275.8,57.5 Z" fill="#abc8de"/><path d="M271.5,57.9 L269.8,59.0 L268.2,60.0 L266.6,61.0 L265.0,61.9 L265.8,63.2 L267.4,62.4 L269.0,61.4 L270.7,60.4 L272.4,59.4 Z" fill="#b3c2d9"/><path d="M266.6,61.0 L265.0,61.9 L263.6,62.6 L262.1,63.3 L262.7,64.7 L264.2,64.0 L265.8,63.2 L267.4,62.4 Z" fill="#bdb8d1"/><path d="M263.6,62.6 L262.1,63.3 L260.6,64.1 L259.1,64.8 L259.7,66.0 L261.2,65.3 L262.7,64.7 L264.2,64.0 Z" fill="#c6afca"/><path d="M260.6,64.1 L259.1,64.8 L257.7,65.5 L256.2,66.2 L254.8,66.9 L255.3,67.9 L256.7,67.3 L258.2,66.7 L259.7,66.0 L261.2,65.3 Z" fill="#d0a6c3"/><path d="M256.2,66.2 L254.8,66.9 L253.5,67.5 L252.2,68.1 L252.6,69.1 L253.9,68.5 L255.3,67.9 L256.7,67.3 Z" fill="#d99fbb"/><path d="M253.5,67.5 L252.2,68.1 L251.0,68.6 L250.0,69.1 L250.4,70.0 L251.5,69.6 L252.6,69.1 L253.9,68.5 Z" fill="#e29bb2"/><path d="M251.0,68.6 L250.0,69.1 L249.1,69.6 L248.4,69.9 L248.8,70.7 L249.5,70.4 L250.4,70.0 L251.5,69.6 Z" fill="#ea98aa"/>
<g transform="translate(218.0,96.7) rotate(158.0) scale(1.00)"><path d="M-11,0 C-10,-7 3,-8 12,-2 C13.5,-0.8 13.5,1 12,2 C3,8 -10,7 -11,0Z" fill="#f3df3c"/><ellipse cx="-1.5" cy="0" rx="8.2" ry="5.6" fill="#f0883a"/><ellipse cx="-0.5" cy="0" rx="4.8" ry="3.8" fill="#c23a5a"/><ellipse cx="-0.5" cy="-0.4" rx="2.2" ry="1.7" fill="#ea90a6"/></g>

<!-- cell2 -->
<ellipse cx="499.1" cy="187.7" rx="62.3" ry="60.0" fill="url(#gZona)"/>
<ellipse cx="499.1" cy="187.7" rx="61.5" ry="59.2" fill="none" stroke="#74b3be" stroke-width="1.3"/>
<ellipse cx="499.1" cy="187.7" rx="57.3" ry="55.0" fill="none" stroke="#d3e4ec" stroke-width="2.2" opacity="0.6" stroke-dasharray="56 37" filter="url(#soft)"/>
<g transform="translate(492.2,141.2) rotate(-5.0)"><ellipse rx="12.5" ry="7.5" fill="url(#gCell)" stroke="#e8603a" stroke-width="0.8"/></g>
<ellipse cx="491.5" cy="141" rx="6.5" ry="3.2" fill="#f29a8a" opacity="0.8"/>
<g transform="translate(527.0,186.0) rotate(0.0)"><ellipse rx="21.5" ry="40.0" fill="url(#gCellB)" stroke="#e8603a" stroke-width="0.8"/></g>
<ellipse cx="531.6" cy="185.5" rx="8.5" ry="10.5" fill="#f9bd7c" opacity="0.55"/>
<ellipse cx="531.6" cy="185.5" rx="6.3" ry="8.3" fill="url(#gNuc)" stroke="#c9587a" stroke-width="0.6"/>
<g transform="translate(507.6,231.3) rotate(-10.0)"><ellipse rx="11.3" ry="7.2" fill="url(#gCell)" stroke="#e8603a" stroke-width="0.8"/></g>
<ellipse cx="506.8" cy="231.3" rx="6" ry="3" fill="#ef8a8a" opacity="0.8"/>
<g transform="translate(483.3,189.3) rotate(-3.0)"><ellipse rx="33.0" ry="44.5" fill="url(#gCellA)" stroke="#e8603a" stroke-width="0.8"/></g>
<ellipse cx="476.9" cy="188.5" rx="10.8" ry="14.4" fill="#f9bd7c" opacity="0.55"/>
<ellipse cx="476.9" cy="188.5" rx="8.6" ry="12.2" fill="url(#gNuc)" stroke="#c9587a" stroke-width="0.6"/>

<!-- cell4 -->
<ellipse cx="641.7" cy="348.4" rx="65.0" ry="60.5" fill="url(#gZona)"/>
<ellipse cx="641.7" cy="348.4" rx="64.2" ry="59.7" fill="none" stroke="#74b3be" stroke-width="1.3"/>
<ellipse cx="641.7" cy="348.4" rx="60.0" ry="55.5" fill="none" stroke="#d3e4ec" stroke-width="2.2" opacity="0.6" stroke-dasharray="58 39" filter="url(#soft)"/>
<ellipse cx="644" cy="355" rx="40" ry="36" fill="#ea6840" opacity="0.85"/>
<g transform="translate(654.4,381.0) rotate(-5.0)"><ellipse rx="25.0" ry="15.0" fill="url(#gCell)" stroke="#e8603a" stroke-width="0.8"/></g>
<ellipse cx="654.4" cy="379.0" rx="8.2" ry="7.2" fill="#f9bd7c" opacity="0.55"/>
<ellipse cx="654.4" cy="379.0" rx="6.0" ry="5.0" fill="url(#gNuc)" stroke="#c9587a" stroke-width="0.6"/>
<g transform="translate(671.0,346.7) rotate(20.0)"><ellipse rx="22.0" ry="24.0" fill="url(#gCell)" stroke="#e8603a" stroke-width="0.8"/></g>
<ellipse cx="664.4" cy="346.7" rx="9.2" ry="8.7" fill="#f9bd7c" opacity="0.55"/>
<ellipse cx="664.4" cy="346.7" rx="7.0" ry="6.5" fill="url(#gNuc)" stroke="#c9587a" stroke-width="0.6"/>
<g transform="translate(620.0,361.0) rotate(10.0)"><ellipse rx="25.0" ry="20.0" fill="url(#gCell)" stroke="#e8603a" stroke-width="0.8"/></g>
<ellipse cx="620.0" cy="361.0" rx="9.2" ry="8.2" fill="#f9bd7c" opacity="0.55"/>
<ellipse cx="620.0" cy="361.0" rx="7.0" ry="6.0" fill="url(#gNuc)" stroke="#c9587a" stroke-width="0.6"/>
<g transform="translate(631.0,322.0) rotate(12.0)"><ellipse rx="29.0" ry="22.0" fill="url(#gCell)" stroke="#e8603a" stroke-width="0.8"/></g>
<ellipse cx="630.0" cy="323.0" rx="9.2" ry="8.7" fill="#f9bd7c" opacity="0.55"/>
<ellipse cx="630.0" cy="323.0" rx="7.0" ry="6.5" fill="url(#gNuc)" stroke="#c9587a" stroke-width="0.6"/>

<!-- cell8 -->
<ellipse cx="390.5" cy="370.0" rx="65.5" ry="62.5" fill="url(#gZona)"/>
<ellipse cx="390.5" cy="370.0" rx="64.7" ry="61.7" fill="none" stroke="#74b3be" stroke-width="1.3"/>
<ellipse cx="390.5" cy="370.0" rx="60.5" ry="57.5" fill="none" stroke="#d3e4ec" stroke-width="2.2" opacity="0.6" stroke-dasharray="59 39" filter="url(#soft)"/>
<ellipse cx="386" cy="371" rx="36" ry="38" fill="#ea6540" opacity="0.9"/>
<g transform="translate(377.5,407.5) rotate(5.0)"><ellipse rx="23.0" ry="15.0" fill="url(#gCell)" stroke="#e8603a" stroke-width="0.8"/></g>
<ellipse cx="374.0" cy="407.0" rx="7.2" ry="6.2" fill="#f9bd7c" opacity="0.55"/>
<ellipse cx="374.0" cy="407.0" rx="5.0" ry="4.0" fill="url(#gNuc)" stroke="#c9587a" stroke-width="0.6"/>
<g transform="translate(351.0,374.0) rotate(5.0)"><ellipse rx="12.0" ry="24.0" fill="url(#gCell)" stroke="#e8603a" stroke-width="0.8"/></g>
<ellipse cx="349.0" cy="374.0" rx="6.2" ry="8.2" fill="#f9bd7c" opacity="0.55"/>
<ellipse cx="349.0" cy="374.0" rx="4.0" ry="6.0" fill="url(#gNuc)" stroke="#c9587a" stroke-width="0.6"/>
<g transform="translate(432.5,376.0) rotate(15.0)"><ellipse rx="15.0" ry="20.0" fill="url(#gCell)" stroke="#e8603a" stroke-width="0.8"/></g>
<ellipse cx="430.0" cy="376.0" rx="7.2" ry="8.2" fill="#f9bd7c" opacity="0.55"/>
<ellipse cx="430.0" cy="376.0" rx="5.0" ry="6.0" fill="url(#gNuc)" stroke="#c9587a" stroke-width="0.6"/>
<g transform="translate(415.0,350.0) rotate(0.0)"><ellipse rx="15.0" ry="15.0" fill="url(#gCell)" stroke="#e8603a" stroke-width="0.8"/></g>
<ellipse cx="413.0" cy="351.0" rx="7.2" ry="7.2" fill="#f9bd7c" opacity="0.55"/>
<ellipse cx="413.0" cy="351.0" rx="5.0" ry="5.0" fill="url(#gNuc)" stroke="#c9587a" stroke-width="0.6"/>
<g transform="translate(378.8,331.0) rotate(-5.0)"><ellipse rx="20.0" ry="12.5" fill="url(#gCell)" stroke="#e8603a" stroke-width="0.8"/></g>
<ellipse cx="376.0" cy="332.0" rx="7.2" ry="6.2" fill="#f9bd7c" opacity="0.55"/>
<ellipse cx="376.0" cy="332.0" rx="5.0" ry="4.0" fill="url(#gNuc)" stroke="#c9587a" stroke-width="0.6"/>
<g transform="translate(394.0,390.0) rotate(-10.0)"><ellipse rx="22.0" ry="16.0" fill="url(#gCell)" stroke="#e8603a" stroke-width="0.8"/></g>
<ellipse cx="392.0" cy="391.0" rx="7.7" ry="6.7" fill="#f9bd7c" opacity="0.55"/>
<ellipse cx="392.0" cy="391.0" rx="5.5" ry="4.5" fill="url(#gNuc)" stroke="#c9587a" stroke-width="0.6"/>
<g transform="translate(380.0,361.0) rotate(5.0)"><ellipse rx="20.0" ry="17.0" fill="url(#gCell)" stroke="#e8603a" stroke-width="0.8"/></g>
<ellipse cx="378.0" cy="361.0" rx="8.2" ry="7.2" fill="#f9bd7c" opacity="0.55"/>
<ellipse cx="378.0" cy="361.0" rx="6.0" ry="5.0" fill="url(#gNuc)" stroke="#c9587a" stroke-width="0.6"/>

<!-- cell16 -->
<ellipse cx="122.3" cy="377.7" rx="71.0" ry="68.0" fill="url(#gZona)"/>
<ellipse cx="122.3" cy="377.7" rx="70.2" ry="67.2" fill="none" stroke="#74b3be" stroke-width="1.3"/>
<ellipse cx="122.3" cy="377.7" rx="66.0" ry="63.0" fill="none" stroke="#d3e4ec" stroke-width="2.2" opacity="0.6" stroke-dasharray="64 43" filter="url(#soft)"/>
<ellipse cx="123" cy="380" rx="52" ry="50" fill="#ea6540" opacity="0.9"/>
<g transform="translate(117.0,330.0) rotate(0.0)"><ellipse rx="15.0" ry="8.0" fill="url(#gCell)" stroke="#e8603a" stroke-width="0.8"/></g>
<ellipse cx="117.0" cy="330.0" rx="5.1" ry="4.6" fill="#f9bd7c" opacity="0.55"/>
<ellipse cx="117.0" cy="330.0" rx="2.9" ry="2.4" fill="url(#gNuc)" stroke="#c9587a" stroke-width="0.6"/>
<g transform="translate(126.0,427.0) rotate(0.0)"><ellipse rx="22.0" ry="12.0" fill="url(#gCell)" stroke="#e8603a" stroke-width="0.8"/></g>
<ellipse cx="126.0" cy="427.0" rx="6.5" ry="5.8" fill="#f9bd7c" opacity="0.55"/>
<ellipse cx="126.0" cy="427.0" rx="4.3" ry="3.6" fill="url(#gNuc)" stroke="#c9587a" stroke-width="0.6"/>
<g transform="translate(81.5,406.0) rotate(-25.0)"><ellipse rx="12.0" ry="17.0" fill="url(#gCell)" stroke="#e8603a" stroke-width="0.8"/></g>
<ellipse cx="81.5" cy="406.0" rx="5.8" ry="7.0" fill="#f9bd7c" opacity="0.55"/>
<ellipse cx="81.5" cy="406.0" rx="3.6" ry="4.8" fill="url(#gNuc)" stroke="#c9587a" stroke-width="0.6"/>
<g transform="translate(166.0,406.0) rotate(20.0)"><ellipse rx="11.0" ry="19.0" fill="url(#gCell)" stroke="#e8603a" stroke-width="0.8"/></g>
<ellipse cx="166.0" cy="406.0" rx="5.5" ry="6.6" fill="#f9bd7c" opacity="0.55"/>
<ellipse cx="166.0" cy="406.0" rx="3.3" ry="4.4" fill="url(#gNuc)" stroke="#c9587a" stroke-width="0.6"/>
<g transform="translate(141.0,406.0) rotate(-30.0)"><ellipse rx="18.0" ry="13.0" fill="url(#gCell)" stroke="#e8603a" stroke-width="0.8"/></g>
<ellipse cx="141.0" cy="406.0" rx="6.9" ry="6.1" fill="#f9bd7c" opacity="0.55"/>
<ellipse cx="141.0" cy="406.0" rx="4.7" ry="3.9" fill="url(#gNuc)" stroke="#c9587a" stroke-width="0.6"/>
<g transform="translate(108.0,403.5) rotate(5.0)"><ellipse rx="22.0" ry="14.0" fill="url(#gCell)" stroke="#e8603a" stroke-width="0.8"/></g>
<ellipse cx="108.0" cy="403.5" rx="7.2" ry="6.4" fill="#f9bd7c" opacity="0.55"/>
<ellipse cx="108.0" cy="403.5" rx="5.0" ry="4.2" fill="url(#gNuc)" stroke="#c9587a" stroke-width="0.6"/>
<g transform="translate(72.0,351.0) rotate(15.0)"><ellipse rx="10.0" ry="17.0" fill="url(#gCell)" stroke="#e8603a" stroke-width="0.8"/></g>
<ellipse cx="72.0" cy="351.0" rx="5.2" ry="6.2" fill="#f9bd7c" opacity="0.55"/>
<ellipse cx="72.0" cy="351.0" rx="3.0" ry="4.0" fill="url(#gNuc)" stroke="#c9587a" stroke-width="0.6"/>
<g transform="translate(174.0,356.0) rotate(-10.0)"><ellipse rx="11.0" ry="19.0" fill="url(#gCell)" stroke="#e8603a" stroke-width="0.8"/></g>
<ellipse cx="174.0" cy="356.0" rx="5.5" ry="6.6" fill="#f9bd7c" opacity="0.55"/>
<ellipse cx="174.0" cy="356.0" rx="3.3" ry="4.4" fill="url(#gNuc)" stroke="#c9587a" stroke-width="0.6"/>
<g transform="translate(100.0,344.0) rotate(0.0)"><ellipse rx="17.0" ry="12.0" fill="url(#gCell)" stroke="#e8603a" stroke-width="0.8"/></g>
<ellipse cx="100.0" cy="344.0" rx="6.5" ry="5.8" fill="#f9bd7c" opacity="0.55"/>
<ellipse cx="100.0" cy="344.0" rx="4.3" ry="3.6" fill="url(#gNuc)" stroke="#c9587a" stroke-width="0.6"/>
<g transform="translate(85.0,372.0) rotate(-5.0)"><ellipse rx="12.0" ry="19.0" fill="url(#gCell)" stroke="#e8603a" stroke-width="0.8"/></g>
<ellipse cx="85.0" cy="372.0" rx="5.8" ry="7.0" fill="#f9bd7c" opacity="0.55"/>
<ellipse cx="85.0" cy="372.0" rx="3.6" ry="4.8" fill="url(#gNuc)" stroke="#c9587a" stroke-width="0.6"/>
<g transform="translate(153.0,378.0) rotate(10.0)"><ellipse rx="13.0" ry="20.0" fill="url(#gCell)" stroke="#e8603a" stroke-width="0.8"/></g>
<ellipse cx="153.0" cy="378.0" rx="6.1" ry="7.4" fill="#f9bd7c" opacity="0.55"/>
<ellipse cx="153.0" cy="378.0" rx="3.9" ry="5.2" fill="url(#gNuc)" stroke="#c9587a" stroke-width="0.6"/>
<g transform="translate(134.0,347.0) rotate(25.0)"><ellipse rx="22.0" ry="15.0" fill="url(#gCell)" stroke="#e8603a" stroke-width="0.8"/></g>
<ellipse cx="134.0" cy="347.0" rx="7.6" ry="6.7" fill="#f9bd7c" opacity="0.55"/>
<ellipse cx="134.0" cy="347.0" rx="5.4" ry="4.5" fill="url(#gNuc)" stroke="#c9587a" stroke-width="0.6"/>
<g transform="translate(118.0,369.0) rotate(20.0)"><ellipse rx="20.0" ry="15.0" fill="url(#gCell)" stroke="#e8603a" stroke-width="0.8"/></g>
<ellipse cx="118.0" cy="369.0" rx="7.6" ry="6.7" fill="#f9bd7c" opacity="0.55"/>
<ellipse cx="118.0" cy="369.0" rx="5.4" ry="4.5" fill="url(#gNuc)" stroke="#c9587a" stroke-width="0.6"/>
<ellipse cx="107" cy="384" rx="4" ry="3.5" fill="#e58aa8"/>

<!-- blasto -->
<ellipse cx="109.8" cy="581.0" rx="78.8" ry="75.3" fill="url(#gZona)"/>
<ellipse cx="109.8" cy="581.0" rx="78.0" ry="74.5" fill="none" stroke="#74b3be" stroke-width="1.3"/>
<ellipse cx="109.8" cy="581.0" rx="73.8" ry="70.3" fill="none" stroke="#d3e4ec" stroke-width="2.2" opacity="0.6" stroke-dasharray="71 47" filter="url(#soft)"/>
<path d="M47.4,565.8 L47.7,562.8 L48.0,559.6 L48.4,556.4 L49.0,553.2 L49.9,550.0 L51.0,546.9 L52.4,544.0 L54.1,541.0 L56.1,538.1 L58.2,535.3 L60.4,532.7 L62.8,530.4 L65.2,528.4 L67.7,526.5 L70.3,524.9 L73.1,523.4 L76.1,522.1 L79.3,521.0 L82.8,520.0 L86.7,519.1 L90.7,518.5 L94.8,518.0 L98.9,517.6 L102.9,517.4 L106.9,517.4 L111.0,517.6 L115.0,517.9 L119.0,518.4 L122.9,519.0 L126.5,519.8 L130.0,520.8 L133.4,521.9 L136.6,523.2 L139.7,524.6 L142.6,526.3 L145.4,528.1 L148.1,530.1 L150.7,532.3 L153.1,534.6 L155.4,537.1 L157.6,539.7 L159.6,542.2 L161.5,544.8 L163.2,547.5 L164.8,550.2 L166.2,553.0 L167.7,555.8 L169.0,558.8 L170.4,561.8 L171.8,565.0 L173.2,568.2 L174.4,571.4 L175.4,574.6 L176.1,577.6 L176.6,580.6 L176.9,583.4 L177.0,586.2 L176.9,588.9 L176.6,591.6 L176.1,594.2 L175.4,596.7 L174.5,599.1 L173.3,601.4 L172.0,603.7 L170.6,606.0 L169.0,608.3 L167.4,610.7 L165.7,613.2 L163.9,615.6 L161.9,618.0 L159.7,620.3 L157.2,622.5 L154.5,624.6 L151.5,626.7 L148.2,628.7 L144.9,630.6 L141.6,632.5 L138.3,634.3 L135.2,636.1 L132.0,637.9 L128.7,639.6 L125.6,641.2 L122.5,642.6 L119.5,643.8 L116.5,644.6 L113.7,645.3 L110.9,645.8 L108.2,646.1 L105.5,646.2 L102.9,646.1 L100.5,645.8 L98.1,645.4 L95.8,644.7 L93.6,643.8 L91.2,642.7 L88.8,641.4 L86.1,639.7 L83.3,637.6 L80.5,635.3 L77.6,632.9 L74.9,630.5 L72.2,628.4 L69.6,626.6 L67.1,625.0 L64.6,623.5 L62.2,621.9 L60.0,620.0 L58.1,617.8 L56.4,615.1 L55.0,612.0 L53.8,608.7 L52.7,605.3 L51.8,602.0 L51.0,598.9 L50.3,596.0 L49.8,593.2 L49.4,590.5 L49.1,587.8 L48.9,585.1 L48.6,582.4 L48.3,579.6 L48.0,576.9 L47.7,574.3 L47.4,571.5 L47.3,568.7Z" fill="#ef7b3b" filter="url(#soft)"/>
<ellipse cx="111.5" cy="566" rx="37" ry="34" fill="#e8673e"/>
<g transform="translate(80.8,530.3) rotate(-30)"><ellipse rx="10.0" ry="7.0" fill="#f7a22f" stroke="#ec7238" stroke-width="0.8"/><ellipse rx="6.0" ry="4.2" fill="#f4922f"/><ellipse rx="2.6" ry="1.9" fill="#a0648c"/></g>
<g transform="translate(96.1,523.3) rotate(-10)"><ellipse rx="10.0" ry="7.0" fill="#f7a22f" stroke="#ec7238" stroke-width="0.8"/><ellipse rx="6.0" ry="4.2" fill="#f4922f"/><ellipse rx="2.6" ry="1.9" fill="#a0648c"/></g>
<g transform="translate(116.9,524.7) rotate(5)"><ellipse rx="10.0" ry="7.0" fill="#f7a22f" stroke="#ec7238" stroke-width="0.8"/><ellipse rx="6.0" ry="4.2" fill="#f4922f"/><ellipse rx="2.6" ry="1.9" fill="#a0648c"/></g>
<g transform="translate(135.0,530.3) rotate(25)"><ellipse rx="10.0" ry="7.0" fill="#f7a22f" stroke="#ec7238" stroke-width="0.8"/><ellipse rx="6.0" ry="4.2" fill="#f4922f"/><ellipse rx="2.6" ry="1.9" fill="#a0648c"/></g>
<g transform="translate(147.5,544.2) rotate(50)"><ellipse rx="10.0" ry="7.0" fill="#f7a22f" stroke="#ec7238" stroke-width="0.8"/><ellipse rx="6.0" ry="4.2" fill="#f4922f"/><ellipse rx="2.6" ry="1.9" fill="#a0648c"/></g>
<g transform="translate(154.4,556.7) rotate(65)"><ellipse rx="10.0" ry="7.0" fill="#f7a22f" stroke="#ec7238" stroke-width="0.8"/><ellipse rx="6.0" ry="4.2" fill="#f4922f"/><ellipse rx="2.6" ry="1.9" fill="#a0648c"/></g>
<g transform="translate(160.0,571.9) rotate(75)"><ellipse rx="10.0" ry="7.0" fill="#f7a22f" stroke="#ec7238" stroke-width="0.8"/><ellipse rx="6.0" ry="4.2" fill="#f4922f"/><ellipse rx="2.6" ry="1.9" fill="#a0648c"/></g>
<g transform="translate(166.9,585.8) rotate(80)"><ellipse rx="10.0" ry="7.0" fill="#f7a22f" stroke="#ec7238" stroke-width="0.8"/><ellipse rx="6.0" ry="4.2" fill="#f4922f"/><ellipse rx="2.6" ry="1.9" fill="#a0648c"/></g>
<g transform="translate(64.2,545.6) rotate(-60)"><ellipse rx="10.0" ry="7.0" fill="#f7a22f" stroke="#ec7238" stroke-width="0.8"/><ellipse rx="6.0" ry="4.2" fill="#f4922f"/><ellipse rx="2.6" ry="1.9" fill="#a0648c"/></g>
<g transform="translate(78.1,544.2) rotate(-60)"><ellipse rx="10.0" ry="7.0" fill="#f7a22f" stroke="#ec7238" stroke-width="0.8"/><ellipse rx="6.0" ry="4.2" fill="#f4922f"/><ellipse rx="2.6" ry="1.9" fill="#a0648c"/></g>
<g transform="translate(53.1,567.8) rotate(-80)"><ellipse rx="10.0" ry="7.0" fill="#f7a22f" stroke="#ec7238" stroke-width="0.8"/><ellipse rx="6.0" ry="4.2" fill="#f4922f"/><ellipse rx="2.6" ry="1.9" fill="#a0648c"/></g>
<g transform="translate(65.6,566.4) rotate(-80)"><ellipse rx="10.0" ry="7.0" fill="#f7a22f" stroke="#ec7238" stroke-width="0.8"/><ellipse rx="6.0" ry="4.2" fill="#f4922f"/><ellipse rx="2.6" ry="1.9" fill="#a0648c"/></g>
<g transform="translate(64.2,587.2) rotate(-85)"><ellipse rx="10.0" ry="7.0" fill="#f7a22f" stroke="#ec7238" stroke-width="0.8"/><ellipse rx="6.0" ry="4.2" fill="#f4922f"/><ellipse rx="2.6" ry="1.9" fill="#a0648c"/></g>
<g transform="translate(69.7,603.9) rotate(10)"><ellipse rx="12.5" ry="8.8" fill="#f7a22f" stroke="#ec7238" stroke-width="0.8"/><ellipse rx="7.5" ry="5.3" fill="#f4922f"/><ellipse rx="2.6" ry="1.9" fill="#a0648c"/></g>
<g transform="translate(91.9,601.1) rotate(-5)"><ellipse rx="12.5" ry="8.8" fill="#f7a22f" stroke="#ec7238" stroke-width="0.8"/><ellipse rx="7.5" ry="5.3" fill="#f4922f"/><ellipse rx="2.6" ry="1.9" fill="#a0648c"/></g>
<g transform="translate(118.3,602.5) rotate(0)"><ellipse rx="12.5" ry="8.8" fill="#f7a22f" stroke="#ec7238" stroke-width="0.8"/><ellipse rx="7.5" ry="5.3" fill="#f4922f"/><ellipse rx="2.6" ry="1.9" fill="#a0648c"/></g>
<g transform="translate(143.3,599.7) rotate(-20)"><ellipse rx="12.5" ry="8.8" fill="#f7a22f" stroke="#ec7238" stroke-width="0.8"/><ellipse rx="7.5" ry="5.3" fill="#f4922f"/><ellipse rx="2.6" ry="1.9" fill="#a0648c"/></g>
<g transform="translate(154.4,610.8) rotate(-35)"><ellipse rx="12.5" ry="8.8" fill="#f7a22f" stroke="#ec7238" stroke-width="0.8"/><ellipse rx="7.5" ry="5.3" fill="#f4922f"/><ellipse rx="2.6" ry="1.9" fill="#a0648c"/></g>
<g transform="translate(68.3,617.8) rotate(10)"><ellipse rx="12.5" ry="8.8" fill="#f7a22f" stroke="#ec7238" stroke-width="0.8"/><ellipse rx="7.5" ry="5.3" fill="#f4922f"/><ellipse rx="2.6" ry="1.9" fill="#a0648c"/></g>
<g transform="translate(87.8,619.2) rotate(0)"><ellipse rx="12.5" ry="8.8" fill="#f7a22f" stroke="#ec7238" stroke-width="0.8"/><ellipse rx="7.5" ry="5.3" fill="#f4922f"/><ellipse rx="2.6" ry="1.9" fill="#a0648c"/></g>
<g transform="translate(111.4,619.2) rotate(-5)"><ellipse rx="12.5" ry="8.8" fill="#f7a22f" stroke="#ec7238" stroke-width="0.8"/><ellipse rx="7.5" ry="5.3" fill="#f4922f"/><ellipse rx="2.6" ry="1.9" fill="#a0648c"/></g>
<g transform="translate(139.2,623.3) rotate(-25)"><ellipse rx="12.5" ry="8.8" fill="#f7a22f" stroke="#ec7238" stroke-width="0.8"/><ellipse rx="7.5" ry="5.3" fill="#f4922f"/><ellipse rx="2.6" ry="1.9" fill="#a0648c"/></g>
<g transform="translate(107.2,638.6) rotate(0)"><ellipse rx="12.5" ry="8.8" fill="#f7a22f" stroke="#ec7238" stroke-width="0.8"/><ellipse rx="7.5" ry="5.3" fill="#f4922f"/><ellipse rx="2.6" ry="1.9" fill="#a0648c"/></g>

<!-- f4 -->
<defs><linearGradient id="gF4" x1="0" y1="0" x2="1" y2="0.3"><stop offset="0" stop-color="#f39c6c"/><stop offset="0.35" stop-color="#f8b88c"/><stop offset="0.7" stop-color="#f6aa7c"/><stop offset="1" stop-color="#f19664"/></linearGradient></defs>
<path d="M357.9,497.1 L359.8,495.3 L361.9,493.5 L364.3,491.8 L366.9,490.3 L369.6,488.9 L372.5,487.7 L375.6,486.8 L378.8,486.0 L382.3,485.5 L385.8,485.1 L389.5,484.8 L393.3,484.6 L397.4,484.4 L401.7,484.4 L406.2,484.5 L410.6,484.7 L414.7,485.0 L418.3,485.6 L421.5,486.5 L424.5,487.6 L427.1,488.9 L429.4,490.3 L431.4,491.6 L432.9,492.9 L434.0,494.1 L434.6,495.3 L434.8,496.6 L434.7,497.8 L434.4,499.0 L434.0,500.2 L433.3,501.5 L432.3,502.8 L431.2,504.2 L429.8,505.5 L428.3,506.6 L426.7,507.5 L424.9,508.2 L422.8,508.7 L420.6,509.1 L418.4,509.3 L416.2,509.5 L414.2,509.6 L412.2,509.5 L410.2,509.2 L408.2,508.9 L406.5,508.5 L404.9,508.4 L403.8,508.5 L403.0,509.0 L402.6,509.8 L402.4,510.7 L402.4,511.7 L402.5,512.7 L402.7,513.8 L403.1,514.7 L403.8,515.8 L404.5,516.9 L405.3,518.0 L405.7,519.0 L405.8,520.0 L405.4,520.9 L404.7,521.8 L403.7,522.7 L402.7,523.5 L401.6,524.4 L400.6,525.2 L399.7,526.0 L398.8,526.7 L397.8,527.4 L396.9,528.1 L396.1,529.1 L395.4,530.4 L394.8,532.1 L394.3,534.0 L393.8,536.1 L393.4,538.3 L393.3,540.6 L393.3,542.9 L393.7,545.3 L394.3,547.8 L395.1,550.3 L396.0,552.9 L396.8,555.3 L397.5,557.5 L398.2,559.5 L398.9,561.5 L399.6,563.4 L400.2,565.1 L400.6,566.6 L400.6,567.9 L400.2,568.9 L399.2,569.5 L398.1,570.0 L396.9,570.5 L396.0,571.1 L395.4,572.1 L395.4,573.5 L395.7,575.1 L396.2,576.9 L396.8,578.8 L397.2,580.7 L397.5,582.5 L397.6,584.3 L397.6,586.1 L397.6,587.9 L397.4,589.7 L397.0,591.4 L396.5,592.9 L395.6,594.3 L394.5,595.6 L393.1,596.8 L391.8,597.9 L390.4,599.0 L389.2,600.2 L387.8,601.5 L386.2,602.8 L384.7,604.2 L383.4,605.5 L382.7,606.6 L382.9,607.5 L384.2,608.1 L386.4,608.3 L389.2,608.5 L392.2,608.6 L395.1,608.9 L397.5,609.6 L399.5,610.6 L401.5,611.7 L403.4,613.1 L405.1,614.6 L406.6,616.2 L407.9,617.9 L409.1,619.8 L410.1,621.8 L410.9,623.9 L411.5,626.1 L411.9,628.3 L412.1,630.4 L412.0,632.6 L411.7,634.8 L411.2,637.0 L410.4,639.1 L409.3,641.1 L407.9,642.9 L406.2,644.5 L404.1,646.0 L401.7,647.3 L399.0,648.4 L396.2,649.4 L393.3,650.2 L390.2,650.8 L386.7,651.2 L383.0,651.4 L379.4,651.4 L375.8,651.4 L372.5,651.2 L369.4,651.0 L366.4,650.7 L363.5,650.2 L360.8,649.6 L358.2,648.9 L355.8,648.1 L353.7,647.3 L351.8,646.4 L350.1,645.3 L348.5,644.1 L347.0,642.6 L345.4,640.8 L343.9,638.6 L342.4,636.1 L341.1,633.3 L339.7,630.4 L338.4,627.3 L337.1,624.2 L335.8,620.9 L334.5,617.5 L333.2,614.0 L332.0,610.4 L330.8,606.9 L329.8,603.3 L328.8,599.8 L327.9,596.3 L327.1,592.8 L326.4,589.3 L325.9,585.9 L325.6,582.5 L325.7,579.2 L325.9,576.0 L326.4,572.9 L327.1,569.8 L327.8,566.7 L328.8,563.8 L329.8,560.9 L331.1,558.1 L332.6,555.4 L334.1,552.7 L335.6,550.0 L337.1,547.1 L338.5,544.1 L339.9,541.0 L341.4,537.8 L342.8,534.7 L344.1,531.5 L345.4,528.3 L346.6,525.1 L347.7,521.9 L348.7,518.6 L349.7,515.4 L350.6,512.3 L351.7,509.6 L352.6,507.1 L353.4,504.8 L354.3,502.7 L355.2,500.8 L356.4,498.9Z" fill="url(#gF4)" stroke="#e97a4a" stroke-width="1.9" stroke-linejoin="round"/>
<path d="M385.8,508.3 L387.0,508.3 L388.5,508.5 L390.3,509.1 L392.1,509.8 L393.7,510.7 L395.0,511.7 L396.0,512.8 L396.9,514.1 L397.6,515.5 L398.1,517.0 L398.3,518.6 L398.3,520.0 L398.0,521.4 L397.2,522.7 L396.2,524.1 L395.2,525.4 L394.2,526.8 L393.3,528.3 L392.6,529.8 L391.9,531.4 L391.2,532.9 L390.6,534.6 L390.2,536.4 L390.0,538.3 L390.1,540.6 L390.4,543.0 L390.8,545.6 L391.4,548.3 L392.0,550.9 L392.5,553.3 L393.1,555.8 L394.0,558.3 L394.8,560.7 L395.5,563.0 L395.9,565.0 L395.8,566.7 L395.2,568.0 L394.1,569.1 L392.7,569.9 L391.1,570.4 L389.6,570.4 L388.3,570.0 L387.2,569.0 L386.1,567.4 L385.1,565.4 L384.1,563.1 L383.3,560.7 L382.5,558.3 L381.8,555.8 L381.2,553.1 L380.7,550.3 L380.3,547.4 L380.1,544.5 L380.0,541.7 L380.1,538.8 L380.5,535.9 L381.0,532.9 L381.5,530.1 L382.1,527.4 L382.5,525.0 L382.8,522.9 L383.1,521.0 L383.4,519.4 L383.6,517.8 L383.9,516.4 L384.2,515.0 L384.4,513.6 L384.4,512.2 L384.5,510.8 L384.7,509.7 L385.1,508.8Z" fill="#ee8656" opacity="0.8"/>
<path d="M386.7,513.3 L387.5,512.8 L388.7,512.9 L390.0,513.4 L391.3,514.2 L392.5,515.0 L393.3,515.8 L393.9,516.6 L394.4,517.4 L394.7,518.4 L394.9,519.4 L394.9,520.5 L394.7,521.7 L394.2,522.9 L393.5,524.1 L392.6,525.5 L391.6,526.9 L390.7,528.4 L390.0,530.0 L389.4,531.7 L388.8,533.6 L388.3,535.5 L387.9,537.5 L387.6,539.6 L387.5,541.7 L387.6,543.8 L387.9,546.1 L388.3,548.5 L388.8,550.8 L389.2,553.0 L389.7,555.0 L390.1,556.9 L390.6,558.7 L391.2,560.3 L391.6,561.9 L391.9,563.2 L392.0,564.2 L391.8,565.0 L391.3,565.6 L390.7,566.0 L390.0,566.1 L389.3,565.9 L388.7,565.3 L388.1,564.3 L387.5,562.9 L386.9,561.1 L386.3,559.1 L385.8,557.0 L385.3,555.0 L384.9,553.0 L384.5,550.8 L384.2,548.6 L383.9,546.3 L383.7,544.0 L383.7,541.7 L383.8,539.2 L384.0,536.7 L384.3,534.2 L384.7,531.6 L385.0,529.1 L385.3,526.7 L385.5,524.2 L385.6,521.5 L385.7,518.9 L385.8,516.5 L386.1,514.6Z" fill="#f8ba90" opacity="0.9"/>
<path d="M375.0,498.3 L374.7,499.9 L374.4,502.0 L373.9,504.6 L373.4,507.4 L372.9,510.4 L372.5,513.3 L372.1,516.4 L371.6,519.7 L371.2,523.1 L370.8,526.6 L370.4,530.0 L370.0,533.3 L369.7,536.5 L369.4,539.7 L369.2,542.8 L369.0,545.9 L368.7,548.8 L368.3,551.7 L367.8,554.5 L367.2,557.5 L366.6,560.3 L365.9,562.9 L365.4,565.1 L365.0,566.7" fill="none" stroke="#fbd0ac" stroke-width="4" opacity="0.75" stroke-linecap="round"/>
<path d="M380.0,495.8 L379.6,497.3 L379.0,499.3 L378.4,501.7 L377.7,504.3 L377.1,507.1 L376.7,510.0 L376.4,513.0 L376.1,516.2 L375.9,519.6 L375.8,523.1 L375.8,526.6 L375.8,530.0 L375.9,533.4 L376.0,536.8 L376.2,540.2 L376.5,543.6 L377.0,546.9 L377.5,550.0 L378.3,553.1 L379.2,556.2 L380.3,559.2 L381.4,562.0 L382.5,564.5 L383.3,566.7 L384.1,568.4 L384.8,569.9 L385.4,571.0 L385.9,572.0 L386.3,572.7 L386.7,573.3" fill="none" stroke="#ea7c4c" stroke-width="0.9" opacity="0.85"/>
<path d="M370.0,495.8 L369.6,497.7 L369.1,500.3 L368.5,503.3 L367.9,506.7 L367.2,510.1 L366.7,513.3 L366.1,516.5 L365.6,519.9 L365.1,523.3 L364.6,526.7 L364.2,530.1 L363.7,533.3 L363.2,536.5 L362.8,539.6 L362.4,542.7 L361.9,545.7 L361.4,548.7 L360.8,551.7 L360.1,554.7 L359.1,558.0 L358.2,561.1 L357.2,564.1 L356.4,566.5 L355.8,568.3" fill="none" stroke="#ea7c4c" stroke-width="0.9" opacity="0.85"/>
<ellipse cx="415.5" cy="496.5" rx="15" ry="9.3" fill="#fbc9a0" stroke="#ea7c4c" stroke-width="1" transform="rotate(8 415.5 496.5)"/>
<path d="M362.5,500.8 L361.9,502.3 L361.2,504.4 L360.3,506.9 L359.3,509.6 L358.3,512.3 L357.5,515.0 L356.8,517.7 L356.0,520.4 L355.4,523.3 L354.7,526.1 L354.0,529.0 L353.3,531.7 L352.7,534.3 L352.0,536.9 L351.4,539.4 L350.7,541.9 L350.0,544.3 L349.2,546.7 L348.2,549.1 L347.1,551.7 L346.0,554.3 L344.9,556.6 L344.0,558.6 L343.3,560.0" fill="none" stroke="#fbd6b6" stroke-width="5" stroke-dasharray="2.4 1.1" opacity="0.9"/>
<path d="M367.5,498.3 L367.0,499.9 L366.2,502.1 L365.3,504.7 L364.3,507.5 L363.4,510.5 L362.5,513.3 L361.7,516.2 L361.0,519.3 L360.2,522.4 L359.5,525.6 L358.8,528.7 L358.0,531.7 L357.3,534.6 L356.5,537.4 L355.8,540.2 L355.0,543.0 L354.2,545.7 L353.3,548.3 L352.4,551.0 L351.3,553.6 L350.2,556.1 L349.1,558.6 L347.9,561.0 L346.7,563.3 L345.3,565.6 L343.7,567.9 L342.1,570.1 L340.6,572.1 L339.3,573.8 L338.3,575.0" fill="none" stroke="#ea7c4c" stroke-width="0.9" opacity="0.8"/>
<path d="M339.2,582.5 L340.4,580.9 L342.2,579.3 L344.4,577.9 L346.8,576.7 L349.3,575.8 L351.7,575.2 L354.1,575.0 L356.8,575.2 L359.5,575.7 L362.1,576.4 L364.4,577.3 L366.2,578.3 L367.7,579.7 L368.8,581.3 L369.6,583.2 L370.2,585.2 L370.4,587.1 L370.4,588.8 L370.1,590.3 L369.3,591.8 L368.3,593.3 L367.1,594.7 L365.7,596.0 L364.2,597.1 L362.4,598.1 L360.4,599.2 L358.2,600.1 L355.9,600.8 L353.7,601.2 L351.7,601.2 L349.7,600.9 L347.7,600.2 L345.8,599.2 L344.0,597.9 L342.5,596.5 L341.2,595.0 L340.3,593.2 L339.4,591.1 L338.8,588.8 L338.5,586.5 L338.6,584.4Z" fill="#fac39a" stroke="#e8824e" stroke-width="0.8" stroke-opacity="0.6" opacity="0.85"/>
<path d="M351.7,603.3 L353.0,601.6 L355.2,599.8 L357.9,598.1 L360.8,596.7 L363.7,595.6 L366.2,595.0 L368.6,594.9 L371.0,595.3 L373.3,596.0 L375.4,597.0 L377.3,598.1 L378.8,599.2 L379.8,600.3 L380.7,601.6 L381.2,603.1 L381.5,604.6 L381.3,606.1 L380.8,607.5 L379.9,609.0 L378.4,610.6 L376.7,612.2 L374.7,613.7 L372.5,614.9 L370.4,615.8 L368.1,616.5 L365.5,616.9 L362.7,617.1 L360.1,617.1 L357.7,616.7 L355.8,615.8 L354.3,614.4 L353.0,612.4 L351.9,610.1 L351.3,607.7 L351.2,605.3Z" fill="#fac39a" stroke="#e8824e" stroke-width="0.8" stroke-opacity="0.6" opacity="0.85"/>
<path d="M370.4,582.5 L371.6,581.2 L373.4,580.0 L375.8,579.1 L378.3,578.5 L380.8,578.2 L382.9,578.3 L384.9,579.0 L387.0,580.1 L389.0,581.6 L390.8,583.3 L392.3,585.0 L393.3,586.7 L393.9,588.4 L394.1,590.3 L394.0,592.2 L393.7,594.1 L393.1,595.7 L392.3,597.1 L391.2,598.1 L389.7,599.0 L388.1,599.6 L386.3,600.1 L384.5,600.3 L382.9,600.2 L381.4,599.9 L379.9,599.4 L378.4,598.6 L377.0,597.6 L375.7,596.4 L374.6,595.0 L373.5,593.2 L372.3,591.1 L371.2,588.7 L370.4,586.3 L370.1,584.2Z" fill="#fac39a" stroke="#e8824e" stroke-width="0.8" stroke-opacity="0.6" opacity="0.85"/>
<path d="M362.1,620.0 L364.3,618.2 L367.2,616.5 L370.5,614.9 L374.0,613.5 L377.5,612.4 L380.8,611.7 L384.1,611.3 L387.5,611.2 L390.9,611.4 L394.1,611.9 L397.1,612.7 L399.6,613.8 L401.7,615.2 L403.6,617.1 L405.2,619.2 L406.5,621.5 L407.4,623.9 L407.9,626.2 L408.1,628.7 L407.9,631.3 L407.4,633.9 L406.5,636.5 L405.3,638.9 L403.8,640.8 L401.7,642.5 L399.2,643.9 L396.3,645.1 L393.3,646.1 L390.1,646.7 L387.1,647.1 L384.0,647.1 L380.6,646.7 L377.3,646.0 L374.0,645.2 L370.9,644.1 L368.3,642.9 L366.1,641.6 L364.1,640.0 L362.3,638.2 L360.8,636.4 L359.7,634.4 L359.0,632.5 L358.6,630.5 L358.5,628.3 L358.8,626.1 L359.4,623.9 L360.5,621.9Z" fill="#f9bd92" stroke="#e8824e" stroke-width="1" opacity="0.95"/>
<ellipse cx="404.2" cy="514.2" rx="2.2" ry="1.6" fill="#f4a070" stroke="#e8824e" stroke-width="0.7"/>
<ellipse cx="405.4" cy="520.4" rx="2.2" ry="1.6" fill="#f4a070" stroke="#e8824e" stroke-width="0.7"/>
<ellipse cx="400.0" cy="526.2" rx="2.2" ry="1.6" fill="#f4a070" stroke="#e8824e" stroke-width="0.7"/>
<ellipse cx="399.2" cy="564.8" rx="2.2" ry="1.6" fill="#f4a070" stroke="#e8824e" stroke-width="0.7"/>

<!-- f10 -->
<defs><radialGradient id="gF10" cx="0.42" cy="0.5" r="0.62"><stop offset="0" stop-color="#fcd2ac"/><stop offset="0.5" stop-color="#f9bc90"/><stop offset="0.8" stop-color="#f5a070"/><stop offset="1" stop-color="#ef8652"/></radialGradient></defs>
<path d="M585.0,486.2 L588.2,485.7 L591.7,485.2 L595.2,484.9 L598.6,484.8 L601.9,484.8 L605.0,485.0 L607.8,485.4 L610.5,486.0 L613.0,486.8 L615.4,487.7 L617.7,488.8 L620.0,490.0 L622.3,491.4 L624.4,493.0 L626.6,494.7 L628.6,496.5 L630.6,498.3 L632.5,500.0 L634.3,501.7 L636.0,503.5 L637.7,505.2 L639.3,506.9 L640.9,508.6 L642.5,510.0 L644.3,511.2 L646.1,512.3 L648.0,513.2 L649.7,514.1 L651.3,515.1 L652.5,516.2 L653.4,517.6 L654.2,519.0 L654.7,520.5 L655.0,522.1 L655.1,523.6 L655.0,525.0 L654.7,526.4 L654.1,527.8 L653.3,529.1 L652.3,530.4 L651.2,531.6 L650.0,532.5 L648.6,533.3 L647.0,533.9 L645.3,534.5 L643.5,534.8 L641.7,535.0 L640.0,535.0 L638.3,534.8 L636.5,534.4 L634.7,533.8 L633.0,533.0 L631.4,532.2 L630.0,531.2 L628.9,530.2 L628.1,528.8 L627.3,527.4 L626.7,526.0 L625.9,524.8 L625.0,523.8 L623.9,523.0 L622.6,522.3 L621.2,521.7 L619.9,521.3 L618.6,521.2 L617.5,521.2 L616.4,521.6 L615.4,522.1 L614.4,522.9 L613.5,523.8 L612.9,525.0 L612.5,526.2 L612.5,527.7 L612.8,529.5 L613.3,531.4 L613.9,533.4 L614.5,535.5 L615.0,537.5 L615.3,539.6 L615.6,541.8 L615.8,544.1 L616.1,546.2 L616.6,548.3 L617.5,550.0 L618.7,551.4 L620.3,552.7 L622.0,553.8 L623.9,554.7 L625.7,555.5 L627.5,556.2 L629.3,556.8 L631.1,557.1 L633.0,557.3 L634.7,557.6 L636.3,558.0 L637.5,558.8 L638.4,559.9 L639.2,561.2 L639.7,562.8 L640.0,564.4 L640.1,566.0 L640.0,567.5 L639.7,568.9 L639.1,570.3 L638.3,571.6 L637.3,572.9 L636.2,574.1 L635.0,575.0 L633.5,575.6 L631.7,575.9 L629.7,576.1 L627.8,576.3 L626.1,576.7 L625.0,577.5 L624.3,578.7 L624.0,580.3 L623.9,582.0 L624.1,583.9 L624.5,585.7 L625.0,587.5 L625.9,589.1 L627.1,590.6 L628.5,592.0 L630.0,593.6 L631.4,595.4 L632.5,597.5 L633.4,600.0 L634.3,602.8 L635.1,605.8 L635.7,608.9 L636.1,612.0 L636.2,615.0 L636.2,617.9 L635.9,620.9 L635.4,623.9 L634.7,626.9 L633.7,629.7 L632.5,632.5 L631.0,635.2 L629.2,637.9 L627.1,640.5 L624.9,643.1 L622.5,645.4 L620.0,647.5 L617.4,649.4 L614.6,651.2 L611.7,652.7 L608.7,654.1 L605.6,655.3 L602.5,656.2 L599.3,657.0 L595.9,657.5 L592.5,657.8 L589.1,657.9 L585.7,657.8 L582.5,657.5 L579.4,657.0 L576.2,656.2 L573.1,655.3 L570.2,654.2 L567.5,652.8 L565.0,651.2 L562.8,649.5 L560.9,647.5 L559.1,645.2 L557.6,642.8 L556.2,640.2 L555.0,637.5 L554.0,634.6 L553.3,631.4 L552.7,628.0 L552.3,624.6 L551.8,621.1 L551.2,617.5 L550.7,613.9 L550.2,610.1 L549.8,606.2 L549.2,602.4 L548.5,598.6 L547.5,595.0 L546.1,591.6 L544.4,588.2 L542.5,585.0 L540.6,581.8 L538.9,578.4 L537.5,575.0 L536.4,571.4 L535.5,567.8 L534.8,564.1 L534.2,560.3 L533.9,556.4 L533.8,552.5 L533.8,548.4 L534.1,544.2 L534.6,539.8 L535.3,535.6 L536.3,531.4 L537.5,527.5 L539.0,523.8 L540.8,520.3 L542.9,516.9 L545.1,513.6 L547.5,510.5 L550.0,507.5 L552.6,504.6 L555.5,501.8 L558.4,499.1 L561.5,496.7 L564.5,494.4 L567.5,492.5 L570.4,490.9 L573.2,489.6 L576.1,488.5 L579.0,487.6 L581.9,486.9Z" fill="url(#gF10)" stroke="#e8824e" stroke-width="1.6" stroke-linejoin="round"/>
<path d="M567.5,493.8 L566.1,494.2 L563.5,496.2 L560.1,499.3 L556.4,502.9 L552.9,506.6 L550.0,510.0 L547.7,513.1 L545.5,516.3 L543.5,519.6 L541.7,523.0 L540.1,526.5 L538.8,530.0 L537.6,533.6 L536.7,537.3 L535.9,541.1 L535.4,544.9 L535.1,548.7 L535.0,552.5 L535.1,556.3 L535.5,560.1 L536.0,563.9 L536.8,567.7 L537.7,571.4 L538.8,575.0 L540.1,578.4 L541.9,581.7 L543.8,584.8 L545.6,588.1 L547.4,591.4 L548.8,595.0 L549.7,599.0 L550.5,603.2 L551.0,607.7 L551.5,612.0 L551.9,616.2 L552.5,620.0 L553.1,623.5 L553.6,626.8 L554.1,629.8 L554.7,632.7 L555.4,635.2 L556.2,637.5 L557.4,639.7 L558.9,641.9 L560.5,643.9 L561.9,645.3 L563.1,645.7 L563.8,645.0 L563.8,642.8 L563.4,639.3 L562.7,634.8 L561.8,629.9 L560.8,624.8 L560.0,620.0 L559.3,615.2 L558.5,610.2 L557.7,605.0 L556.9,599.8 L556.0,594.8 L555.0,590.0 L553.8,585.5 L552.4,581.3 L550.9,577.2 L549.5,573.1 L548.3,569.1 L547.5,565.0 L547.0,560.8 L546.6,556.7 L546.4,552.5 L546.5,548.3 L546.8,544.2 L547.5,540.0 L548.6,535.8 L550.1,531.5 L551.9,527.3 L553.8,523.1 L555.7,518.9 L557.5,515.0 L559.5,510.8 L561.9,506.2 L564.2,501.8 L566.2,497.9 L567.4,495.1Z" fill="#f08a55" opacity="0.45" filter="url(#soft2)"/>
<path d="M572.5,552.5 L574.5,551.0 L577.1,549.4 L580.2,547.8 L583.4,546.5 L586.8,545.5 L590.0,545.0 L593.2,545.1 L596.7,545.6 L600.2,546.6 L603.6,547.7 L606.9,548.9 L610.0,550.0 L612.8,551.2 L615.5,552.5 L618.0,554.0 L620.4,555.4 L622.7,556.6 L625.0,557.5 L627.3,558.0 L629.7,558.1 L632.0,558.0 L634.2,558.0 L636.0,558.2 L637.5,558.8 L638.6,559.8 L639.4,561.2 L639.8,562.7 L640.1,564.4 L640.1,566.0 L640.0,567.5 L639.7,568.9 L639.1,570.3 L638.3,571.7 L637.3,573.0 L636.2,574.1 L635.0,575.0 L633.6,575.7 L631.9,576.2 L630.2,576.5 L628.3,576.6 L626.6,576.5 L625.0,576.2 L623.7,575.6 L622.5,574.6 L621.4,573.4 L620.3,572.2 L619.0,571.0 L617.5,570.0 L615.7,569.2 L613.8,568.3 L611.7,567.6 L609.5,566.9 L607.3,566.5 L605.0,566.2 L602.6,566.3 L600.1,566.7 L597.5,567.2 L594.9,567.8 L592.4,568.3 L590.0,568.8 L587.7,569.1 L585.5,569.6 L583.3,570.0 L581.2,570.3 L579.3,570.3 L577.5,570.0 L575.8,569.3 L574.3,568.2 L572.8,567.0 L571.6,565.5 L570.6,564.0 L570.0,562.5 L569.7,560.9 L569.5,559.3 L569.7,557.5 L570.2,555.7 L571.1,554.1Z" fill="#fbd0aa" stroke="#e8824e" stroke-width="1"/>
<path d="M547.5,575.0 L549.4,575.4 L552.0,576.0 L555.2,576.7 L558.5,577.3 L561.9,577.6 L565.0,577.5 L568.0,576.8 L571.0,575.6 L574.1,574.1 L577.0,572.5 L579.9,571.1 L582.5,570.0 L585.0,569.3 L587.5,568.7 L589.8,568.3 L591.9,568.0 L593.7,567.7 L595.0,567.5" fill="none" stroke="#e8824e" stroke-width="1" opacity="0.8"/>
<circle cx="617.5" cy="599.5" r="4" fill="#f5a273" stroke="#e8824e" stroke-width="0.8"/>
<circle cx="616.8" cy="598.8" r="2" fill="#fac8a0"/>

<!-- f16 -->
<defs><radialGradient id="gF16" cx="0.5" cy="0.55" r="0.6"><stop offset="0" stop-color="#fcd8bb"/><stop offset="0.6" stop-color="#fac9a4"/><stop offset="0.9" stop-color="#f7b48c"/><stop offset="1" stop-color="#f3a074"/></radialGradient></defs>
<path d="M581.9,742.3 L583.4,740.2 L585.1,739.2 L587.1,738.8 L589.2,738.8 L591.5,738.8 L594.0,738.6 L596.9,738.3 L600.3,738.1 L603.8,737.9 L607.3,737.8 L610.6,737.7 L613.5,737.4 L616.0,737.2 L618.4,737.1 L620.6,737.0 L622.5,736.7 L624.2,736.0 L625.7,735.0 L626.8,733.3 L627.5,731.2 L628.1,728.7 L628.5,726.1 L628.9,723.7 L629.3,721.6 L629.9,719.9 L630.5,718.3 L631.0,716.9 L631.5,715.6 L631.8,714.3 L631.7,713.1 L631.2,711.9 L630.2,710.8 L629.1,709.8 L628.0,708.9 L627.1,707.9 L626.9,707.0 L627.2,706.1 L627.9,705.3 L628.8,704.4 L630.1,703.6 L631.5,702.9 L632.9,702.2 L634.6,701.5 L636.6,700.9 L638.6,700.3 L640.8,699.7 L643.0,699.1 L645.1,698.5 L647.2,697.8 L649.4,696.9 L651.6,696.1 L653.8,695.4 L655.7,694.9 L657.3,694.9 L658.6,695.3 L659.7,696.1 L660.7,697.2 L661.4,698.5 L661.9,699.7 L662.1,700.9 L661.9,702.1 L661.1,703.5 L660.1,704.8 L659.1,706.1 L658.5,707.3 L658.5,708.2 L659.1,709.0 L660.2,709.7 L661.7,710.2 L663.3,710.6 L665.2,710.7 L667.0,710.7 L669.0,710.2 L671.4,709.2 L673.8,708.0 L676.3,706.9 L678.5,706.1 L680.4,705.8 L681.9,706.2 L683.2,706.9 L684.3,708.0 L685.2,709.3 L685.9,710.6 L686.4,711.9 L686.7,713.3 L686.8,714.9 L686.7,716.7 L686.4,718.3 L685.9,719.6 L685.2,720.4 L684.3,720.6 L683.1,720.2 L681.7,719.6 L680.1,718.8 L678.4,718.2 L676.7,718.0 L674.8,718.1 L672.8,718.4 L670.6,718.8 L668.4,719.3 L666.3,719.9 L664.6,720.4 L663.0,720.8 L661.6,721.1 L660.4,721.5 L659.2,722.0 L658.2,722.8 L657.3,724.0 L656.4,725.8 L655.7,728.1 L655.1,730.7 L654.6,733.4 L654.1,736.1 L653.6,738.6 L653.2,741.2 L653.0,743.9 L652.9,746.7 L652.6,749.3 L652.1,751.5 L651.2,753.2 L649.8,754.2 L648.1,754.7 L646.2,754.7 L644.1,754.8 L642.1,755.0 L640.2,755.7 L638.4,756.8 L636.5,758.2 L634.5,759.8 L632.8,761.5 L631.4,763.4 L630.5,765.4 L630.2,767.5 L630.4,769.8 L631.0,772.2 L631.7,774.7 L632.4,777.3 L632.9,780.0 L633.3,782.8 L633.6,785.9 L633.9,789.1 L634.2,792.1 L634.7,794.8 L635.4,797.0 L636.3,798.5 L637.4,799.6 L638.6,800.3 L640.0,800.9 L641.3,801.3 L642.7,801.9 L644.1,802.3 L645.7,802.7 L647.3,802.9 L648.8,803.2 L650.2,803.6 L651.2,804.3 L651.9,805.2 L652.4,806.4 L652.6,807.6 L652.7,809.0 L652.6,810.3 L652.4,811.6 L652.0,812.9 L651.4,814.2 L650.7,815.6 L649.7,816.9 L648.7,818.0 L647.5,818.9 L646.2,819.5 L644.6,819.9 L642.8,820.2 L641.1,820.3 L639.3,820.2 L637.8,820.1 L636.4,819.6 L635.1,818.7 L633.9,817.7 L632.7,816.8 L631.6,816.3 L630.5,816.4 L629.4,817.4 L628.3,819.0 L627.2,820.9 L626.3,823.0 L625.7,824.8 L625.7,826.2 L626.1,827.0 L627.0,827.5 L628.2,827.8 L629.7,828.1 L631.3,828.3 L632.9,828.6 L634.7,829.0 L636.7,829.3 L638.8,829.7 L641.0,830.0 L643.1,830.5 L645.1,831.0 L647.1,831.7 L649.2,832.4 L651.3,833.2 L653.2,834.1 L654.8,835.0 L656.0,835.9 L656.7,836.8 L656.8,837.8 L656.6,838.9 L656.4,839.9 L656.5,840.9 L657.3,842.0 L658.7,842.9 L660.5,843.8 L662.7,844.6 L665.0,845.6 L667.3,846.7 L669.4,848.1 L671.5,849.7 L673.7,851.6 L675.9,853.6 L678.0,855.8 L679.9,858.0 L681.6,860.2 L683.0,862.5 L684.3,864.8 L685.5,867.2 L686.4,869.7 L687.1,872.2 L687.7,874.8 L688.0,877.5 L688.1,880.3 L688.0,883.2 L687.7,886.1 L687.2,889.0 L686.4,891.8 L685.4,894.7 L684.1,897.7 L682.6,900.7 L680.8,903.6 L678.9,906.4 L676.7,908.8 L674.3,911.1 L671.7,913.2 L668.8,915.2 L665.8,916.9 L662.8,918.5 L659.7,919.8 L656.6,920.9 L653.4,921.8 L650.1,922.4 L646.8,922.9 L643.5,923.3 L640.2,923.4 L637.0,923.5 L633.7,923.3 L630.4,923.1 L627.1,922.6 L623.9,921.9 L620.8,921.0 L617.8,919.9 L614.8,918.6 L611.8,917.1 L609.0,915.3 L606.3,913.4 L603.8,911.3 L601.4,908.9 L599.2,906.3 L597.2,903.5 L595.2,900.6 L593.4,897.5 L591.6,894.3 L590.0,890.9 L588.5,887.4 L587.1,883.8 L585.8,880.0 L584.5,876.2 L583.1,872.4 L581.6,868.5 L580.1,864.5 L578.6,860.5 L577.2,856.4 L575.8,852.3 L574.6,848.1 L573.5,843.7 L572.5,839.3 L571.6,834.8 L570.8,830.3 L570.1,825.8 L569.7,821.3 L569.5,816.8 L569.5,812.3 L569.7,807.8 L570.0,803.3 L570.4,798.9 L570.9,794.6 L571.7,790.4 L572.7,786.4 L573.8,782.5 L574.9,778.5 L576.0,774.5 L577.0,770.2 L577.8,765.5 L578.5,760.3 L579.1,755.0 L579.8,749.9 L580.7,745.6Z" fill="url(#gF16)" stroke="#e8824e" stroke-width="1.5" stroke-linejoin="round"/>
<path d="M641.5,713.1 L642.4,712.2 L643.6,711.5 L645.0,711.0 L646.5,710.6 L647.7,710.5 L648.8,710.7 L649.5,711.1 L650.2,711.8 L650.7,712.8 L651.1,714.0 L651.3,715.3 L651.2,716.7 L650.8,718.6 L650.1,721.1 L649.3,723.7 L648.3,726.1 L647.3,727.9 L646.3,728.9 L645.3,728.8 L644.1,728.0 L642.9,726.6 L641.8,724.9 L640.8,723.1 L640.2,721.6 L640.0,720.2 L639.9,718.6 L640.0,717.1 L640.3,715.5 L640.8,714.2Z" fill="#fff" stroke="#e8824e" stroke-width="0.8"/>
<path d="M581.9,744.7 L581.1,746.4 L580.3,750.0 L579.5,754.8 L578.7,760.2 L577.9,765.6 L577.0,770.2 L576.0,774.3 L574.9,778.3 L573.7,782.3 L572.6,786.3 L571.7,790.4 L570.9,794.6 L570.4,798.9 L570.1,803.3 L569.9,807.8 L569.8,812.3 L569.9,816.8 L570.2,821.3 L570.7,825.8 L571.3,830.3 L572.1,834.8 L573.0,839.3 L574.0,843.7 L575.1,848.1 L576.3,852.3 L577.6,856.4 L579.1,860.5 L580.6,864.5 L582.1,868.5 L583.6,872.4 L585.0,876.3 L586.5,880.3 L587.9,884.2 L589.4,888.0 L590.8,891.3 L592.1,894.3 L593.5,897.0 L595.0,899.8 L596.5,902.3 L597.7,904.1 L598.6,904.8 L598.9,904.0 L598.5,901.4 L597.6,897.1 L596.2,891.8 L594.7,886.0 L593.1,880.1 L591.6,874.8 L590.2,869.9 L588.7,865.1 L587.1,860.2 L585.6,855.3 L584.3,850.5 L583.1,845.6 L582.2,840.8 L581.3,835.9 L580.7,831.0 L580.1,826.2 L579.7,821.3 L579.5,816.4 L579.3,811.5 L579.3,806.5 L579.5,801.6 L579.7,796.6 L580.1,791.8 L580.7,787.3 L581.5,782.9 L582.7,778.6 L584.1,774.4 L585.4,770.4 L586.3,766.6 L586.7,762.9 L586.6,759.1 L585.9,754.8 L585.0,750.7 L583.9,747.3 L582.8,745.1Z" fill="#f08c58" opacity="0.35" filter="url(#soft2)"/>
<path d="M596.5,809.1 L598.2,807.6 L600.0,805.7 L601.9,803.8 L604.0,802.0 L606.3,800.5 L608.6,799.4 L611.2,798.8 L614.1,798.5 L617.1,798.5 L620.2,798.7 L623.0,799.0 L625.7,799.4 L627.9,800.0 L630.0,800.9 L632.0,801.9 L633.8,802.8 L635.8,803.7 L637.8,804.3 L640.1,804.5 L642.6,804.4 L645.2,804.1 L647.6,803.9 L649.6,803.9 L651.2,804.3 L652.2,805.1 L652.7,806.2 L652.9,807.5 L652.9,808.9 L652.7,810.3 L652.4,811.6 L652.0,812.9 L651.4,814.2 L650.7,815.6 L649.7,816.9 L648.7,818.0 L647.5,818.9 L646.2,819.5 L644.7,820.0 L643.0,820.3 L641.2,820.5 L639.5,820.4 L637.8,820.1 L636.2,819.5 L634.7,818.5 L633.1,817.3 L631.5,816.0 L629.8,814.9 L628.1,814.0 L626.2,813.3 L624.1,812.6 L622.0,812.0 L619.9,811.5 L617.8,811.4 L615.9,811.6 L614.1,812.1 L612.3,813.0 L610.6,814.2 L609.0,815.5 L607.5,817.1 L606.2,818.9 L605.1,820.9 L604.2,823.3 L603.5,825.9 L602.8,828.5 L602.1,831.1 L601.3,833.5 L600.6,835.8 L599.9,838.1 L599.2,840.5 L598.5,842.6 L597.6,844.3 L596.5,845.6 L595.1,846.5 L593.3,847.1 L591.5,847.3 L589.6,847.2 L588.0,846.6 L586.7,845.6 L585.8,844.0 L585.1,841.8 L584.6,839.2 L584.3,836.4 L584.2,833.6 L584.3,831.0 L584.7,828.5 L585.3,825.9 L586.1,823.3 L587.1,820.8 L588.1,818.5 L589.2,816.4 L590.2,814.8 L591.3,813.6 L592.4,812.5 L593.6,811.5 L594.9,810.4Z" fill="#fbd2ae" stroke="#e8824e" stroke-width="0.9"/>
<path d="M618.4,840.8 L618.0,842.4 L617.5,844.6 L617.0,847.3 L616.5,850.1 L616.1,852.9 L615.9,855.3 L616.0,857.7 L616.2,860.3 L616.5,862.8 L617.0,865.0 L617.6,866.6 L618.4,867.5 L619.4,867.3 L620.7,866.2 L622.2,864.6 L623.6,862.8 L624.8,861.2 L625.7,860.2" fill="none" stroke="#e8824e" stroke-width="0.9" opacity="0.8"/>
<path d="M650.0,845.6 L650.6,846.4 L651.5,847.5 L652.6,848.7 L653.8,850.0 L655.0,851.0 L656.0,851.7 L657.1,851.9 L658.3,851.8 L659.5,851.5 L660.6,851.1 L661.5,850.7 L662.1,850.5" fill="none" stroke="#e8824e" stroke-width="0.8" opacity="0.7"/>

<!-- f20 -->
<defs><radialGradient id="gF20" cx="0.45" cy="0.45" r="0.62"><stop offset="0" stop-color="#fcd8bb"/><stop offset="0.6" stop-color="#fac9a4"/><stop offset="0.88" stop-color="#f7b48c"/><stop offset="1" stop-color="#f3a074"/></radialGradient></defs>
<path d="M330.6,739.7 L333.1,737.1 L335.9,734.7 L338.9,732.6 L342.0,730.7 L345.4,729.0 L348.9,727.5 L352.6,726.2 L356.7,725.1 L360.9,724.2 L365.2,723.5 L369.4,723.1 L373.3,722.9 L377.2,723.1 L381.0,723.5 L384.7,724.2 L388.3,725.1 L391.6,726.2 L394.7,727.5 L397.5,729.1 L400.2,731.1 L402.6,733.3 L404.7,735.6 L406.7,737.8 L408.5,739.7 L409.9,741.6 L411.0,743.6 L411.9,745.5 L412.7,747.1 L413.6,748.3 L414.6,748.9 L415.8,748.6 L417.0,747.6 L418.2,746.2 L419.5,744.7 L420.8,743.4 L422.2,742.8 L423.7,742.7 L425.4,742.8 L427.1,743.3 L428.7,743.9 L430.2,744.8 L431.4,745.8 L432.1,747.2 L432.5,749.1 L432.7,751.1 L433.0,753.1 L433.5,755.0 L434.4,756.5 L436.0,757.6 L437.8,758.4 L440.0,759.0 L442.3,759.6 L444.5,760.2 L446.7,761.1 L448.8,762.2 L451.1,763.4 L453.4,764.7 L455.6,766.1 L457.5,767.4 L458.9,768.8 L459.9,770.0 L460.5,771.4 L460.9,772.7 L461.0,774.0 L460.8,775.2 L460.4,776.4 L459.7,777.5 L458.6,778.7 L457.3,779.7 L455.8,780.7 L454.2,781.7 L452.8,782.5 L451.3,783.0 L449.6,783.3 L447.9,783.5 L446.3,783.7 L444.8,784.4 L443.6,785.6 L442.9,787.5 L442.5,790.1 L442.3,793.1 L442.0,796.1 L441.5,798.8 L440.6,800.8 L439.0,802.2 L437.1,803.2 L434.9,803.8 L432.6,804.3 L430.4,804.8 L428.3,805.4 L426.3,806.2 L424.1,807.1 L421.9,807.9 L420.0,808.7 L418.5,809.4 L417.6,810.0 L417.4,810.5 L417.6,810.8 L418.3,811.1 L419.3,811.4 L420.7,811.5 L422.2,811.5 L424.2,811.4 L426.6,811.1 L429.4,810.8 L432.2,810.4 L435.0,810.1 L437.5,810.0 L439.8,810.0 L441.9,810.1 L444.0,810.2 L446.0,810.5 L447.9,810.9 L449.7,811.5 L451.5,812.5 L453.3,813.7 L455.0,815.1 L456.5,816.5 L457.8,817.9 L458.9,819.2 L459.4,820.2 L459.5,821.2 L459.3,822.1 L459.2,823.1 L459.5,824.1 L460.4,825.3 L462.2,826.6 L464.5,827.9 L467.3,829.3 L470.2,830.8 L473.1,832.5 L475.7,834.4 L478.2,836.6 L480.7,839.0 L483.1,841.5 L485.5,844.2 L487.6,846.9 L489.4,849.7 L491.0,852.6 L492.4,855.5 L493.6,858.5 L494.5,861.6 L495.2,864.8 L495.6,868.1 L495.7,871.5 L495.6,875.1 L495.2,878.8 L494.5,882.4 L493.6,886.0 L492.5,889.4 L491.1,892.8 L489.3,896.1 L487.3,899.3 L485.1,902.3 L482.8,905.2 L480.3,907.8 L477.6,910.1 L474.7,912.3 L471.7,914.3 L468.5,916.0 L465.2,917.4 L461.9,918.5 L458.5,919.2 L454.9,919.5 L451.3,919.6 L447.6,919.4 L444.0,919.0 L440.6,918.5 L437.3,917.7 L434.0,916.8 L430.8,915.6 L427.8,914.2 L424.9,912.6 L422.2,910.8 L419.8,908.7 L417.5,906.2 L415.3,903.5 L413.4,900.7 L411.6,898.0 L410.0,895.6 L408.8,893.2 L408.0,890.7 L407.3,888.3 L406.6,886.2 L405.5,884.5 L403.9,883.3 L401.6,883.0 L398.9,883.4 L395.9,884.3 L392.6,885.3 L389.1,886.1 L385.6,886.4 L381.8,886.3 L377.7,886.2 L373.5,885.8 L369.3,885.3 L365.1,884.4 L361.1,883.3 L357.3,881.9 L353.5,880.3 L349.8,878.4 L346.3,876.2 L342.9,873.8 L339.7,871.1 L336.7,868.1 L333.9,864.9 L331.2,861.4 L328.7,857.6 L326.5,853.7 L324.4,849.7 L322.7,845.5 L321.1,841.1 L319.8,836.5 L318.6,831.8 L317.6,827.1 L316.8,822.2 L316.1,817.3 L315.6,812.3 L315.3,807.1 L315.1,802.0 L315.1,796.8 L315.3,791.7 L315.6,786.5 L316.1,781.1 L316.8,775.8 L317.7,770.6 L318.7,765.7 L319.9,761.1 L321.2,756.9 L322.7,753.0 L324.3,749.3 L326.2,745.8 L328.3,742.7Z" fill="url(#gF20)" stroke="#e8824e" stroke-width="1.5" stroke-linejoin="round"/>
<path d="M330.6,742.8 L329.2,743.6 L327.6,745.7 L325.7,748.9 L323.9,752.7 L322.1,756.9 L320.8,761.1 L319.7,765.5 L318.8,770.4 L318.1,775.6 L317.5,781.0 L317.1,786.4 L316.8,791.7 L316.7,796.8 L316.7,802.0 L316.8,807.1 L317.2,812.3 L317.7,817.3 L318.3,822.2 L319.2,827.1 L320.1,831.8 L321.3,836.5 L322.6,841.1 L324.2,845.5 L326.0,849.7 L328.0,853.8 L330.3,857.7 L332.8,861.5 L335.5,865.0 L338.4,868.2 L341.3,871.1 L344.2,873.6 L347.4,875.8 L350.6,877.6 L354.0,879.2 L357.5,880.6 L361.1,881.8 L365.5,883.0 L370.7,884.0 L376.1,884.9 L380.9,885.4 L384.3,885.4 L385.6,884.9 L384.3,883.7 L380.9,881.9 L376.2,879.7 L370.8,877.1 L365.6,874.2 L361.1,871.1 L357.2,867.7 L353.3,864.0 L349.5,859.9 L345.8,855.7 L342.5,851.2 L339.7,846.7 L337.4,841.9 L335.5,836.9 L333.9,831.8 L332.6,826.5 L331.5,821.3 L330.6,816.1 L329.8,810.9 L329.3,805.7 L328.9,800.5 L328.8,795.3 L328.8,790.3 L329.0,785.6 L329.5,781.1 L330.4,776.7 L331.4,772.6 L332.4,768.6 L333.2,764.8 L333.6,761.1 L333.6,757.3 L333.4,753.2 L333.0,749.3 L332.4,745.9 L331.5,743.6Z" fill="#f08c58" opacity="0.3" filter="url(#soft2)"/>
<path d="M391.7,800.8 L393.5,798.0 L395.7,795.3 L398.4,792.6 L401.2,790.1 L404.1,787.7 L406.9,785.6 L409.9,783.6 L412.9,781.9 L416.1,780.4 L419.3,779.0 L422.4,777.7 L425.3,776.4 L428.0,775.1 L430.7,774.0 L433.3,772.9 L435.8,771.9 L438.2,771.0 L440.6,770.3 L442.8,769.7 L445.1,769.2 L447.2,768.8 L449.3,768.6 L451.1,768.6 L452.8,768.8 L454.3,769.1 L455.6,769.7 L456.8,770.5 L457.8,771.4 L458.5,772.3 L458.9,773.3 L459.0,774.5 L458.9,775.8 L458.5,777.2 L457.9,778.5 L457.0,779.8 L455.8,781.0 L454.3,781.9 L452.3,782.7 L450.1,783.4 L447.8,784.0 L445.6,784.7 L443.6,785.6 L441.9,786.5 L440.4,787.4 L439.0,788.3 L437.6,789.3 L436.1,790.5 L434.4,791.7 L432.5,793.0 L430.5,794.4 L428.3,795.9 L426.2,797.4 L424.1,799.1 L422.2,800.8 L420.5,802.6 L418.8,804.3 L417.2,806.2 L415.7,808.2 L414.3,810.5 L413.1,813.1 L412.0,816.1 L411.1,819.4 L410.3,823.0 L409.6,826.8 L409.0,830.6 L408.5,834.4 L408.1,838.5 L407.9,842.8 L407.8,847.2 L407.7,851.5 L407.4,855.5 L406.9,858.9 L406.2,861.8 L405.4,864.5 L404.4,866.9 L403.3,868.8 L402.1,870.3 L400.8,871.1 L399.4,871.4 L397.7,871.1 L396.0,870.3 L394.3,869.1 L392.8,867.3 L391.7,865.0 L391.0,862.0 L390.6,858.1 L390.4,853.7 L390.4,849.2 L390.3,844.7 L390.1,840.6 L389.8,836.8 L389.5,833.1 L389.1,829.5 L388.8,826.0 L388.6,822.5 L388.6,819.2 L388.7,815.9 L388.8,812.7 L389.1,809.6 L389.6,806.6 L390.4,803.7Z" fill="#fbd4b0" stroke="#e8824e" stroke-width="0.9"/>
<path d="M391.7,730.6 L393.1,732.9 L395.2,736.2 L397.6,740.1 L400.0,744.2 L402.2,748.3 L403.9,751.9 L405.0,755.2 L405.9,758.3 L406.6,761.3 L406.9,764.3 L407.1,767.3 L406.9,770.3 L406.4,773.5 L405.4,777.1 L404.1,780.6 L402.8,783.9 L401.6,786.6 L400.8,788.6" fill="none" stroke="#e8824e" stroke-width="1" opacity="0.8"/>
<path d="M348.9,761.1 L350.6,762.8 L352.9,765.2 L355.6,768.0 L358.5,771.0 L361.4,773.8 L364.2,776.4 L366.9,778.7 L369.8,781.1 L372.8,783.5 L375.5,785.6 L377.8,787.3 L379.4,788.6" fill="none" stroke="#f3a070" stroke-width="3" opacity="0.35" stroke-linecap="round"/>
<path d="M382.5,794.7 L381.8,795.4 L380.9,796.3 L379.8,797.4 L378.7,798.6 L377.5,799.7 L376.4,800.8 L375.3,801.8 L374.2,802.8 L373.0,803.7 L372.0,804.7 L371.0,805.7 L370.3,806.9 L369.8,808.3 L369.5,809.9 L369.4,811.5 L369.3,813.2 L369.1,814.7 L368.8,816.1 L368.2,817.4 L367.6,818.5 L366.8,819.6 L366.0,820.6 L365.1,821.5 L364.2,822.2 L363.1,822.8 L361.8,823.2 L360.4,823.6 L359.1,823.8 L357.7,823.8 L356.5,823.8 L355.4,823.5 L354.3,823.2 L353.2,822.7 L352.2,822.1 L351.2,821.4 L350.4,820.7 L349.7,819.9 L348.9,818.9 L348.3,817.8 L347.8,816.7 L347.5,815.6 L347.4,814.6 L347.5,813.5 L347.8,812.4 L348.3,811.2 L348.9,810.2 L349.7,809.2 L350.4,808.5 L351.3,807.9 L352.5,807.6 L353.7,807.3 L354.8,807.2 L355.8,807.1 L356.5,806.9" fill="none" stroke="#e8824e" stroke-width="1.1" opacity="0.9"/>
<path d="M381.9,797.2 L381.2,797.8 L380.2,798.8 L379.1,799.9 L377.9,801.1 L376.8,802.2 L375.8,803.3 L374.9,804.2 L374.1,805.0 L373.3,805.9 L372.6,806.7 L372.0,807.7 L371.5,808.8 L371.2,810.0 L371.0,811.5 L371.0,813.0 L370.9,814.5 L370.7,816.0 L370.3,817.3 L369.6,818.6 L368.9,819.9 L367.9,821.1 L367.0,822.3 L365.9,823.3 L364.8,824.1 L363.5,824.6 L362.0,825.0 L360.5,825.2 L359.0,825.4 L357.7,825.5 L356.8,825.6" fill="none" stroke="#fbd6b6" stroke-width="2.2" opacity="0.9"/>
<path d="M431.4,855.8 L432.2,854.6 L433.5,853.5 L435.2,852.6 L437.0,851.9 L438.9,851.4 L440.6,851.3 L442.2,851.4 L443.9,851.9 L445.6,852.7 L447.2,853.6 L448.6,854.7 L449.7,855.8 L450.5,857.2 L451.1,858.7 L451.5,860.4 L451.7,862.1 L451.6,863.7 L451.3,865.0 L450.5,866.1 L449.4,867.2 L448.1,868.1 L446.6,868.8 L445.1,869.3 L443.6,869.6 L442.1,869.6 L440.4,869.4 L438.7,869.0 L437.1,868.4 L435.6,867.6 L434.4,866.5 L433.4,865.1 L432.5,863.3 L431.8,861.3 L431.3,859.2 L431.1,857.4Z" fill="#f6a87a" stroke="#e8824e" stroke-width="0.9"/>
<path d="M436.9,858.9 L437.7,858.6 L438.8,858.2 L440.1,857.8 L441.4,857.4 L442.6,857.2 L443.6,857.4 L444.4,857.9 L445.2,858.7 L445.9,859.7 L446.4,860.8 L446.7,861.8 L446.7,862.6 L446.2,863.2 L445.3,863.7 L444.1,864.1 L442.9,864.5 L441.9,864.8 L441.2,865.0" fill="none" stroke="#e8824e" stroke-width="0.9"/>
<path d="M452.8,822.2 L453.4,823.3 L454.3,824.8 L455.4,826.6 L456.5,828.4 L457.7,830.1 L458.9,831.4 L460.2,832.3 L461.6,833.0 L463.1,833.5 L464.5,833.9 L465.7,834.2 L466.5,834.4" fill="none" stroke="#e8824e" stroke-width="0.8" opacity="0.7"/>
<ellipse cx="439.7" cy="759.5" rx="3.6" ry="2.5" fill="#fbd2b0" stroke="#e8824e" stroke-width="0.8" transform="rotate(35 439.7 759.5)"/>
<ellipse cx="446.7" cy="763.6" rx="3.6" ry="2.5" fill="#fbd2b0" stroke="#e8824e" stroke-width="0.8" transform="rotate(35 446.7 763.6)"/>
<ellipse cx="452.4" cy="768.4" rx="3.6" ry="2.5" fill="#fbd2b0" stroke="#e8824e" stroke-width="0.8" transform="rotate(35 452.4 768.4)"/>
<ellipse cx="457.2" cy="773.2" rx="3.6" ry="2.5" fill="#fbd2b0" stroke="#e8824e" stroke-width="0.8" transform="rotate(35 457.2 773.2)"/>

<!-- body -->
<defs><clipPath id="cTop"><rect x="0" y="709" width="330" height="330"/></clipPath><clipPath id="cTorso"><path d="M30.0,680.0 L51.8,673.5 L81.7,667.0 L115.7,662.0 L150.0,660.0 L188.4,662.0 L231.5,666.9 L270.0,673.4 L295.0,680.0 L300.6,687.1 L292.8,695.2 L280.3,702.9 L271.7,709.0 L268.9,712.5 L267.3,714.4 L266.3,715.8 L265.0,718.0 L263.2,721.3 L261.4,725.0 L259.7,729.0 L258.3,733.0 L257.3,737.1 L256.5,741.3 L256.0,745.6 L255.8,750.0 L255.9,754.4 L256.2,758.9 L256.8,763.5 L257.5,768.0 L258.3,772.5 L259.4,777.0 L260.6,781.5 L262.0,786.0 L263.7,790.4 L265.6,794.8 L267.7,799.3 L270.0,804.0 L272.7,809.1 L275.6,814.4 L278.7,819.8 L281.7,825.0 L284.7,830.1 L287.7,835.1 L290.7,840.1 L293.5,845.0 L296.1,849.7 L298.6,854.2 L300.8,858.9 L302.8,864.0 L304.5,869.8 L306.0,876.1 L307.2,882.4 L308.0,888.0 L308.4,892.6 L308.5,896.6 L308.4,900.6 L308.0,905.0 L307.6,910.1 L307.1,915.5 L306.2,921.1 L304.6,927.0 L302.2,933.4 L299.2,940.2 L295.8,946.8 L292.0,952.7 L287.9,957.6 L283.5,962.0 L278.8,965.7 L273.9,969.0 L268.8,971.6 L263.5,973.7 L258.1,975.4 L253.0,977.0 L248.3,978.6 L243.9,980.0 L239.4,981.3 L234.5,982.5 L229.0,983.7 L223.1,984.8 L217.0,985.8 L211.0,986.5 L205.1,986.9 L199.2,987.1 L193.2,986.9 L187.0,986.5 L180.5,985.7 L173.7,984.7 L166.8,983.3 L160.0,981.5 L153.1,979.2 L146.2,976.4 L139.4,973.5 L133.0,970.5 L127.2,967.7 L121.7,964.8 L116.4,961.8 L111.0,958.5 L105.5,955.1 L100.0,951.5 L94.4,947.6 L88.9,943.0 L83.4,937.6 L77.8,931.6 L72.3,925.1 L66.7,918.5 L60.9,911.3 L55.1,903.6 L49.4,896.2 L44.4,890.0 L40.0,885.3 L36.1,881.7 L32.7,878.7 L29.9,875.8 L27.8,872.9 L26.4,870.3 L25.4,867.9 L24.3,866.0 L23.1,864.6 L22.0,863.7 L21.1,862.9 L20.6,862.0 L20.7,861.0 L21.2,860.0 L21.8,858.9 L22.2,857.5 L22.3,855.9 L22.2,854.0 L22.0,851.9 L21.5,849.4 L20.7,846.4 L19.7,842.9 L18.5,839.2 L17.4,835.6 L16.3,832.1 L15.2,828.7 L14.2,825.2 L13.2,821.7 L12.4,818.2 L11.6,814.7 L11.0,811.3 L10.4,807.8 L9.9,804.3 L9.5,800.9 L9.2,797.5 L9.0,794.0 L8.9,790.8 L8.8,787.7 L8.9,784.2 L9.0,780.0 L9.2,774.7 L9.4,768.7 L9.7,762.2 L10.2,755.6 L10.9,748.7 L11.7,741.5 L12.7,734.4 L13.6,728.0 L14.4,722.7 L15.0,718.0 L16.0,713.4 L17.6,708.0 L17.6,701.4 L16.6,694.0 L19.1,686.6Z"/></clipPath><linearGradient id="gLeg" x1="0" y1="0" x2="0" y2="1"><stop offset="0" stop-color="#a55f34"/><stop offset="0.3" stop-color="#bd7747"/><stop offset="0.55" stop-color="#d89a6a"/><stop offset="0.8" stop-color="#dca070"/><stop offset="1" stop-color="#cd8a58"/></linearGradient><linearGradient id="gLegH" x1="0" y1="0" x2="1" y2="0"><stop offset="0" stop-color="#f2c496" stop-opacity="0.45"/><stop offset="0.3" stop-color="#f2c496" stop-opacity="0.12"/><stop offset="0.6" stop-color="#b06a3c" stop-opacity="0"/><stop offset="1" stop-color="#a86236" stop-opacity="0.25"/></linearGradient><linearGradient id="gButt" x1="0" y1="0" x2="1" y2="0.25"><stop offset="0" stop-color="#f3c198"/><stop offset="0.55" stop-color="#eaae80"/><stop offset="0.9" stop-color="#d48c5a"/><stop offset="1" stop-color="#e2a070"/></linearGradient><linearGradient id="gRect" x1="0" y1="0" x2="1" y2="0.4"><stop offset="0" stop-color="#d88a66"/><stop offset="0.5" stop-color="#c4633f"/><stop offset="1" stop-color="#ad4a2e"/></linearGradient><pattern id="pBone" width="5" height="5" patternUnits="userSpaceOnUse"><rect width="5" height="5" fill="#dcddcc"/><rect x="0.3" y="0.5" width="1.4" height="1.2" fill="#bcc4a0"/><rect x="2.8" y="2.6" width="1.3" height="1.4" fill="#f0f0e6"/><rect x="3.2" y="0.2" width="1" height="1.1" fill="#c6cfae"/><rect x="1" y="3.3" width="1.1" height="1" fill="#c9c9b0"/></pattern></defs>
<g clip-path="url(#cTop)">
<path d="M86.5,945 L85.5,1008 Q85,1016 92,1018.5 Q130,1025.5 170,1026 Q215,1026 250,1020 Q256,1018.5 256.5,1012 L259,992 L272,960 Z" fill="url(#gLeg)"/>
<path d="M86.5,945 L85.5,1008 Q85,1016 92,1018.5 Q130,1025.5 170,1026 Q215,1026 250,1020 Q256,1018.5 256.5,1012 L259,992 L272,960 Z" fill="url(#gLegH)"/>
<path d="M30.0,680.0 L51.8,673.5 L81.7,667.0 L115.7,662.0 L150.0,660.0 L188.4,662.0 L231.5,666.9 L270.0,673.4 L295.0,680.0 L300.6,687.1 L292.8,695.2 L280.3,702.9 L271.7,709.0 L268.9,712.5 L267.3,714.4 L266.3,715.8 L265.0,718.0 L263.2,721.3 L261.4,725.0 L259.7,729.0 L258.3,733.0 L257.3,737.1 L256.5,741.3 L256.0,745.6 L255.8,750.0 L255.9,754.4 L256.2,758.9 L256.8,763.5 L257.5,768.0 L258.3,772.5 L259.4,777.0 L260.6,781.5 L262.0,786.0 L263.7,790.4 L265.6,794.8 L267.7,799.3 L270.0,804.0 L272.7,809.1 L275.6,814.4 L278.7,819.8 L281.7,825.0 L284.7,830.1 L287.7,835.1 L290.7,840.1 L293.5,845.0 L296.1,849.7 L298.6,854.2 L300.8,858.9 L302.8,864.0 L304.5,869.8 L306.0,876.1 L307.2,882.4 L308.0,888.0 L308.4,892.6 L308.5,896.6 L308.4,900.6 L308.0,905.0 L307.6,910.1 L307.1,915.5 L306.2,921.1 L304.6,927.0 L302.2,933.4 L299.2,940.2 L295.8,946.8 L292.0,952.7 L287.9,957.6 L283.5,962.0 L278.8,965.7 L273.9,969.0 L268.8,971.6 L263.5,973.7 L258.1,975.4 L253.0,977.0 L248.3,978.6 L243.9,980.0 L239.4,981.3 L234.5,982.5 L229.0,983.7 L223.1,984.8 L217.0,985.8 L211.0,986.5 L205.1,986.9 L199.2,987.1 L193.2,986.9 L187.0,986.5 L180.5,985.7 L173.7,984.7 L166.8,983.3 L160.0,981.5 L153.1,979.2 L146.2,976.4 L139.4,973.5 L133.0,970.5 L127.2,967.7 L121.7,964.8 L116.4,961.8 L111.0,958.5 L105.5,955.1 L100.0,951.5 L94.4,947.6 L88.9,943.0 L83.4,937.6 L77.8,931.6 L72.3,925.1 L66.7,918.5 L60.9,911.3 L55.1,903.6 L49.4,896.2 L44.4,890.0 L40.0,885.3 L36.1,881.7 L32.7,878.7 L29.9,875.8 L27.8,872.9 L26.4,870.3 L25.4,867.9 L24.3,866.0 L23.1,864.6 L22.0,863.7 L21.1,862.9 L20.6,862.0 L20.7,861.0 L21.2,860.0 L21.8,858.9 L22.2,857.5 L22.3,855.9 L22.2,854.0 L22.0,851.9 L21.5,849.4 L20.7,846.4 L19.7,842.9 L18.5,839.2 L17.4,835.6 L16.3,832.1 L15.2,828.7 L14.2,825.2 L13.2,821.7 L12.4,818.2 L11.6,814.7 L11.0,811.3 L10.4,807.8 L9.9,804.3 L9.5,800.9 L9.2,797.5 L9.0,794.0 L8.9,790.8 L8.8,787.7 L8.9,784.2 L9.0,780.0 L9.2,774.7 L9.4,768.7 L9.7,762.2 L10.2,755.6 L10.9,748.7 L11.7,741.5 L12.7,734.4 L13.6,728.0 L14.4,722.7 L15.0,718.0 L16.0,713.4 L17.6,708.0 L17.6,701.4 L16.6,694.0 L19.1,686.6Z" fill="#e09a56"/>
<g clip-path="url(#cTorso)">
<path d="M22.0,690.0 L45.4,685.1 L78.5,682.0 L115.3,680.4 L150.0,680.0 L184.6,680.9 L221.1,683.2 L253.2,686.4 L275.0,690.0 L282.1,694.3 L278.7,699.3 L271.2,704.5 L266.0,709.0 L264.2,712.6 L262.6,715.6 L261.0,718.5 L259.5,722.0 L257.9,726.3 L256.2,731.1 L254.7,735.8 L253.5,740.0 L252.7,743.3 L252.1,746.0 L251.8,748.7 L251.7,752.0 L251.7,756.1 L251.9,760.6 L252.3,765.4 L253.0,770.0 L253.9,774.5 L255.1,779.0 L256.5,783.5 L258.0,788.0 L259.7,792.5 L261.6,796.9 L263.7,801.4 L266.0,806.0 L268.7,810.9 L271.6,816.1 L274.5,821.2 L277.0,826.0 L278.9,830.3 L280.3,834.3 L281.6,838.4 L283.0,843.0 L284.6,848.4 L286.2,854.2 L287.7,860.2 L289.0,866.0 L290.1,871.5 L291.0,876.9 L291.7,882.4 L292.0,888.0 L292.0,893.9 L291.6,900.0 L291.0,906.1 L290.0,912.0 L288.9,917.8 L287.6,923.4 L285.7,928.9 L283.0,934.0 L279.0,938.7 L274.0,943.1 L268.8,947.1 L264.0,951.0 L260.0,954.6 L256.4,958.1 L252.8,961.2 L249.0,964.0 L245.0,966.4 L240.9,968.5 L236.6,970.4 L232.0,972.0 L227.1,973.5 L221.9,974.8 L216.6,975.8 L211.0,976.5 L205.3,976.7 L199.4,976.6 L193.3,976.2 L187.0,975.5 L180.4,974.5 L173.6,973.2 L166.7,971.7 L160.0,970.0 L153.5,968.0 L147.1,965.8 L140.9,963.5 L135.0,961.0 L129.5,958.5 L124.2,955.8 L119.2,953.0 L114.0,950.0 L108.8,946.9 L103.6,943.8 L98.3,940.2 L93.0,936.0 L87.6,931.0 L82.0,925.4 L76.5,919.3 L71.0,913.0 L65.5,906.0 L59.9,898.3 L54.5,890.8 L49.5,884.5 L44.8,879.6 L40.3,875.7 L36.3,872.3 L33.0,869.0 L30.7,865.9 L29.1,863.1 L28.0,860.5 L27.0,858.0 L26.2,855.8 L25.6,853.9 L25.2,851.9 L24.5,849.4 L23.6,846.3 L22.6,842.8 L21.5,839.2 L20.4,835.6 L19.3,832.1 L18.2,828.7 L17.2,825.2 L16.2,821.7 L15.4,818.2 L14.6,814.7 L14.0,811.3 L13.4,807.8 L13.0,804.3 L12.6,800.9 L12.4,797.5 L12.2,794.0 L12.1,790.8 L12.0,787.7 L12.0,784.2 L12.2,780.0 L12.6,774.7 L13.2,768.7 L13.8,762.2 L14.5,755.6 L15.2,749.2 L15.9,742.7 L16.6,735.7 L17.5,728.0 L15.6,718.6 L11.9,707.9 L12.2,697.8Z" fill="#e8ba2e"/>
<path d="M268.0,800.0 L268.2,804.8 L270.9,811.8 L274.5,819.8 L277.5,828.0 L279.6,836.6 L281.6,846.1 L283.3,855.4 L284.7,864.0 L285.7,871.4 L286.3,878.1 L286.5,884.5 L286.5,891.0 L286.1,897.9 L285.4,904.8 L284.4,911.6 L283.0,918.0 L281.2,923.9 L279.1,929.6 L276.7,934.9 L273.9,940.0 L270.7,944.9 L267.2,949.7 L263.4,954.1 L259.5,958.0 L255.5,961.3 L251.4,964.2 L247.2,966.7 L243.0,969.0 L238.8,971.1 L234.6,973.0 L230.3,974.7 L226.0,976.5 L221.6,978.4 L217.1,980.2 L212.5,982.1 L208.0,984.0 L203.1,986.0 L197.9,988.0 L193.2,990.0 L190.0,992.0 L186.9,994.2 L183.9,996.5 L184.0,998.6 L190.0,1000.0 L205.1,1001.7 L226.9,1003.6 L250.2,1003.7 L270.0,1000.0 L285.5,991.2 L299.4,978.8 L311.0,964.4 L320.0,950.0 L325.9,935.5 L329.1,920.0 L330.2,904.5 L330.0,890.0 L328.2,876.6 L324.7,863.8 L320.0,851.6 L315.0,840.0 L309.4,828.4 L302.9,816.9 L296.3,807.0 L290.0,800.0 L283.6,796.5 L276.8,795.8 L271.2,797.1Z" fill="url(#gButt)"/>
<path d="M268.0,800.0 L269.8,804.8 L272.3,811.8 L275.1,819.8 L277.5,828.0 L279.6,836.6 L281.6,846.1 L283.3,855.4 L284.7,864.0 L285.7,871.4 L286.3,878.1 L286.5,884.5 L286.5,891.0 L286.1,897.9 L285.4,904.8 L284.4,911.6 L283.0,918.0 L281.2,923.9 L279.1,929.6 L276.7,934.9 L273.9,940.0 L270.7,944.9 L267.2,949.7 L263.4,954.1 L259.5,958.0 L255.5,961.3 L251.4,964.2 L247.2,966.7 L243.0,969.0 L238.8,971.1 L234.6,973.0 L230.3,974.7 L226.0,976.5 L221.6,978.4 L217.1,980.2 L212.5,982.1 L208.0,984.0 L203.1,986.2 L197.9,988.5 L193.2,990.6 L190.0,992.0" fill="none" stroke="#f0d38a" stroke-width="1.2" opacity="0.8"/>
<path d="M26.0,705.0 L25.0,710.3 L23.5,717.8 L21.8,726.4 L20.5,735.0 L19.4,743.7 L18.5,752.9 L17.7,761.9 L17.2,770.0 L16.9,776.9 L16.9,783.1 L17.0,788.7 L17.2,794.0 L17.6,798.9 L18.1,803.2 L18.7,807.5 L19.5,812.0 L20.4,816.9 L21.5,822.0 L22.7,827.1 L24.0,832.0 L25.3,836.7 L26.8,841.2 L28.3,845.7 L30.0,850.0 L32.0,854.5 L34.4,859.1 L36.5,863.2 L38.0,866.0" fill="none" stroke="#e4872f" stroke-width="2.8"/>
<path d="M33.3,855.6 L37.2,858.7 L41.5,863.0 L46.2,868.0 L51.1,873.3 L56.4,879.1 L62.1,885.4 L67.8,891.8 L73.3,897.8 L78.7,903.4 L84.0,908.8 L89.0,913.7 L93.3,917.8 L96.9,920.8 L100.0,923.0 L102.5,924.8 L104.4,926.7 L105.9,928.7 L106.9,930.6 L107.3,932.3 L107.1,933.8 L106.2,935.2 L104.6,936.7 L102.4,937.5 L100.0,937.3 L97.3,935.9 L94.1,933.4 L90.6,930.2 L86.7,926.7 L82.2,922.6 L77.2,918.0 L72.0,913.0 L66.7,907.8 L61.2,902.2 L55.4,896.2 L49.7,890.1 L44.4,884.4 L39.4,879.0 L34.4,873.6 L30.1,868.7 L26.7,864.4 L24.3,861.0 L22.6,858.1 L21.9,855.9 L22.2,854.4 L23.8,853.6 L26.4,853.3 L29.7,853.8Z" fill="#e0714a"/>
<path d="M28.9,857.8 L32.2,861.5 L36.9,866.8 L42.4,872.9 L47.8,878.9 L53.1,884.8 L58.7,891.1 L64.4,897.4 L70.0,903.3 L76.1,909.3 L82.5,915.4 L88.2,920.7 L92.2,924.4" fill="none" stroke="#ee9868" stroke-width="2.2" opacity="0.85"/>
<path d="M35.1,860.0 L38.3,863.1 L42.9,867.4 L48.1,872.5 L53.3,877.8 L58.4,883.3 L63.7,889.3 L69.1,895.4 L74.4,901.1 L80.2,906.8 L86.3,912.6 L91.8,917.6 L95.6,921.1" fill="none" stroke="#c9553a" stroke-width="1.2" opacity="0.7"/>
<path d="M35.6,702.2 L58.1,700.7 L90.2,700.2 L122.2,700.7 L144.4,702.2 L153.0,705.4 L153.6,710.0 L150.5,714.9 L148.4,718.9 L148.1,721.9 L147.2,724.4 L145.7,726.4 L143.3,727.8 L139.9,728.4 L135.7,728.5 L130.8,728.0 L125.6,727.1 L119.9,725.6 L113.6,723.4 L107.2,721.2 L101.1,719.6 L95.4,718.6 L89.9,717.9 L84.4,717.6 L78.9,717.8 L73.2,718.3 L67.5,719.2 L62.0,720.5 L56.7,722.2 L51.7,724.4 L46.8,727.1 L42.3,730.0 L38.2,732.9 L34.4,736.1 L30.8,739.8 L27.8,742.7 L25.6,744.0 L24.2,743.0 L23.7,740.3 L23.7,736.9 L24.0,733.3 L24.6,729.8 L25.7,725.9 L27.0,721.8 L28.4,717.8 L27.6,713.5 L25.5,709.0 L26.6,705.0Z" fill="#992313" stroke="#f0cf60" stroke-width="1"/>
<path d="M44.4,710.0 L55.3,708.9 L69.9,708.8 L84.0,709.3 L93.3,710.0 L96.4,711.0 L95.6,712.5 L92.5,714.0 L88.9,715.1 L84.5,715.5 L78.6,715.5 L72.3,715.5 L66.7,716.0 L61.8,717.1 L57.1,718.5 L52.8,720.2 L48.9,721.8 L45.5,723.6 L42.5,725.8 L39.9,727.5 L37.8,728.4 L35.8,728.3 L34.2,727.5 L33.2,726.0 L33.3,724.0 L34.1,720.8 L35.6,716.7 L38.6,712.7Z" fill="#b03a22" opacity="0.6"/>
<path d="M157.7,702.4 L202.6,702.4 L201.9,724.8 L194.3,727.2 L166.0,726.4 L160.1,722.4Z" fill="#f1caa2"/>
<path d="M215.0,700.0 L214.6,702.2 L214.1,705.4 L213.5,709.1 L212.9,713.0 L212.4,716.7 L212.0,720.0 L211.8,722.8 L211.7,725.4 L211.6,727.8 L211.6,730.2 L211.7,732.6 L211.7,735.0 L211.7,737.5 L211.8,739.9 L211.8,742.4 L211.9,744.9 L212.2,747.4 L212.5,750.0 L213.0,752.6 L213.5,755.3 L214.1,758.0 L214.9,760.8 L215.7,763.7 L216.7,766.7 L217.8,769.9 L219.0,773.3 L220.4,776.8 L221.8,780.3 L223.4,783.6 L225.0,786.7 L226.7,789.5 L228.6,792.1 L230.5,794.6 L232.6,796.9 L234.6,799.3 L236.7,801.7 L238.8,804.1 L241.1,806.3 L243.3,808.6 L245.6,810.9 L247.8,813.4 L250.0,816.0 L252.1,818.9 L254.2,821.9 L256.3,825.1 L258.3,828.4 L260.2,831.7 L262.0,835.0 L263.6,838.3 L265.1,841.7 L266.4,845.1 L267.7,848.4 L268.9,851.8 L270.0,855.0 L271.1,858.1 L272.1,861.1 L273.1,864.0 L274.0,866.9 L274.8,869.9 L275.5,873.0 L276.1,876.4 L276.5,880.3 L276.8,884.1 L277.1,887.7 L277.3,890.8 L277.5,893.0 L281.0,893.0 L281.0,890.8 L281.0,887.9 L281.0,884.3 L280.9,880.5 L280.8,876.6 L280.5,873.0 L280.1,869.5 L279.5,866.0 L278.8,862.5 L278.1,859.0 L277.3,855.5 L276.5,852.0 L275.6,848.6 L274.7,845.1 L273.8,841.8 L272.7,838.4 L271.6,835.1 L270.5,832.0 L269.3,829.0 L268.0,826.0 L266.7,823.2 L265.3,820.4 L263.9,817.7 L262.5,815.0 L261.0,812.4 L259.5,809.9 L258.0,807.5 L256.4,805.1 L254.9,802.6 L253.5,800.0 L252.1,797.3 L250.8,794.5 L249.5,791.6 L248.3,788.7 L247.1,785.8 L246.0,783.0 L245.0,780.2 L244.0,777.5 L243.1,774.8 L242.3,772.1 L241.6,769.4 L241.0,766.7 L240.6,763.9 L240.4,761.1 L240.2,758.3 L240.2,755.5 L240.2,752.7 L240.3,750.0 L240.4,747.4 L240.6,744.9 L240.9,742.4 L241.2,739.9 L241.6,737.5 L242.0,735.0 L242.5,732.6 L243.0,730.2 L243.6,727.8 L244.2,725.4 L244.8,722.8 L245.5,720.0 L246.2,716.7 L247.1,713.0 L248.0,709.1 L248.8,705.4 L249.5,702.2 L250.0,700.0Z" fill="#b6c2dc"/>
<path d="M251.3,700.0 L250.5,703.7 L249.3,709.1 L248.0,714.9 L246.8,720.0 L245.8,724.1 L244.9,727.8 L244.0,731.4 L243.3,735.0 L242.7,738.7 L242.2,742.4 L241.8,746.1 L241.6,750.0 L241.5,754.1 L241.5,758.3 L241.8,762.5 L242.3,766.7 L243.2,770.8 L244.4,774.8 L245.8,778.9 L247.3,783.0 L249.0,787.2 L250.8,791.6 L252.8,795.9 L254.8,800.0 L257.0,803.8 L259.3,807.5 L261.6,811.2 L263.8,815.0 L265.9,819.0 L268.0,823.2 L270.0,827.5 L271.8,832.0 L273.5,836.8 L275.1,841.8 L276.5,846.9 L277.8,852.0 L279.0,857.2 L280.1,862.5 L281.1,867.8 L281.8,873.0 L282.2,878.5 L282.3,884.3 L282.3,889.4 L282.3,893.0" fill="none" stroke="#dd9530" stroke-width="2.2"/>
<path d="M262.5,818.0 L264.0,821.0 L266.1,825.2 L268.5,830.1 L270.5,835.0 L272.2,839.8 L273.8,844.8 L275.3,849.9 L276.5,855.0 L277.5,860.0 L278.4,865.1 L279.0,870.1 L279.5,875.0 L279.7,880.1 L279.7,885.2 L279.6,889.8 L279.5,893.0" fill="none" stroke="#e8eef6" stroke-width="1.4" opacity="0.9"/>
<path d="M207.5,705.0 L207.0,707.7 L206.2,711.5 L205.5,715.8 L205.0,720.0 L204.8,724.0 L204.7,728.2 L204.8,732.5 L205.0,736.7 L205.4,740.8 L205.9,745.0 L206.6,749.2 L207.5,753.3 L208.5,757.5 L209.7,761.8 L211.0,766.0 L212.5,770.0 L214.1,773.9 L215.9,777.7 L217.9,781.4 L220.0,785.0 L222.6,788.8 L225.5,792.6 L228.1,796.0 L230.0,798.3" fill="none" stroke="#df9a30" stroke-width="5.5"/>
<path d="M160.1,727.9 L167.3,726.6 L177.6,725.9 L188.0,725.6 L195.5,726.0 L198.8,726.9 L199.8,728.4 L199.6,730.4 L199.5,733.1 L199.6,736.8 L199.2,741.4 L198.6,745.9 L198.1,749.6 L197.4,752.0 L196.5,753.6 L195.8,754.8 L195.7,756.2 L196.6,757.4 L198.1,758.4 L199.7,759.7 L200.9,761.9 L201.7,765.5 L202.2,770.1 L202.4,774.9 L202.3,779.1 L201.5,782.5 L200.0,785.6 L198.9,788.4 L199.0,790.9 L200.9,793.1 L203.8,794.9 L207.4,796.7 L210.8,798.7 L214.2,801.1 L217.8,803.6 L221.4,806.3 L225.0,809.1 L228.6,812.1 L232.2,815.2 L235.8,818.4 L239.2,821.6 L242.3,824.8 L245.3,828.0 L248.2,831.3 L251.0,834.6 L253.8,838.1 L256.5,841.6 L259.1,845.2 L261.6,848.8 L263.9,852.4 L266.2,856.0 L268.2,859.6 L269.9,862.9 L271.3,866.3 L272.4,869.6 L273.2,872.5 L273.4,874.7 L273.0,876.2 L272.0,877.1 L270.8,877.3 L269.4,876.6 L268.0,874.8 L266.4,871.9 L264.7,868.5 L262.8,865.3 L260.7,862.2 L258.4,858.9 L255.9,855.6 L253.3,852.3 L250.6,849.1 L247.7,845.8 L244.7,842.6 L241.5,839.3 L238.2,836.0 L234.7,832.7 L231.0,829.4 L227.4,826.3 L223.6,823.5 L219.7,820.7 L215.8,818.1 L212.0,815.7 L208.3,813.4 L204.7,811.3 L201.2,809.3 L197.9,807.4 L194.7,806.0 L191.7,804.9 L188.9,803.5 L186.0,801.5 L183.2,798.6 L180.3,795.1 L177.6,791.3 L175.4,787.4 L173.7,783.3 L172.3,779.0 L171.4,774.7 L170.7,770.8 L170.7,767.5 L171.3,764.4 L171.7,761.6 L171.4,759.0 L169.9,757.0 L167.6,755.4 L165.1,753.7 L163.1,751.5 L161.7,748.4 L160.4,744.8 L159.5,741.1 L158.9,737.8 L158.0,734.8 L157.0,732.1 L157.2,729.7Z" fill="url(#pBone)" stroke="#eceede" stroke-width="1"/>
<path d="M163.6,753.8 L166.6,754.4 L170.8,755.3 L175.6,756.1 L180.1,756.7 L184.7,756.8 L189.4,756.6 L193.7,756.4 L196.7,756.2" fill="none" stroke="#eef0e4" stroke-width="1.6"/>
<path d="M177.8,790.9 L179.9,791.4 L183.0,792.2 L186.4,793.0 L189.6,793.3 L192.6,793.0 L195.6,792.2 L198.3,791.4 L200.2,790.9" fill="none" stroke="#eef0e4" stroke-width="1.6"/>
<path d="M210.0,721.7 L212.8,720.2 L217.0,719.6 L221.4,719.7 L225.0,720.0 L227.6,720.7 L229.6,721.9 L231.3,723.4 L232.5,725.0 L233.3,726.9 L233.7,729.2 L233.7,731.4 L233.3,733.3 L232.6,734.9 L231.6,736.3 L230.2,737.5 L228.3,738.3 L225.8,738.8 L222.6,739.0 L219.4,738.9 L216.7,738.7 L214.6,738.4 L212.8,738.2 L211.4,737.4 L210.3,735.8 L209.5,732.8 L208.8,728.7 L208.9,724.6Z" fill="url(#pBone)" stroke="#e6eaf2" stroke-width="1.6"/>
<path d="M210.8,750.0 L213.5,749.2 L217.5,749.1 L221.7,749.4 L225.0,750.0 L227.2,750.9 L229.0,752.1 L230.2,753.6 L230.8,755.0 L231.0,756.5 L230.6,758.2 L229.7,759.7 L228.3,760.8 L226.3,761.5 L223.6,762.0 L220.8,762.1 L218.3,762.0 L216.2,761.7 L214.2,761.2 L212.6,760.4 L211.3,759.2 L210.4,757.1 L209.8,754.4 L209.8,751.8Z" fill="url(#pBone)" stroke="#e6eaf2" stroke-width="1.6"/>
<path d="M215.8,771.7 L217.8,770.7 L221.3,770.3 L225.2,770.4 L228.3,770.8 L230.5,771.7 L232.2,772.9 L233.5,774.4 L234.2,775.8 L234.1,777.4 L233.4,779.1 L232.2,780.6 L230.8,781.7 L229.1,782.2 L226.9,782.5 L224.6,782.2 L222.5,781.3 L220.3,779.4 L217.9,776.5 L216.1,773.7Z" fill="url(#pBone)" stroke="#e6eaf2" stroke-width="1.6"/>
<path d="M225.0,790.8 L226.9,790.5 L229.9,790.8 L233.3,791.6 L235.8,792.5 L237.5,793.7 L238.9,795.3 L239.7,797.0 L240.0,798.3 L239.6,799.5 L238.6,800.6 L237.3,801.4 L235.8,801.7 L234.1,801.4 L232.0,800.7 L230.0,799.6 L228.3,798.3 L226.9,796.5 L225.5,794.3 L224.7,792.2Z" fill="url(#pBone)" stroke="#e6eaf2" stroke-width="1.6"/>
<path d="M194.4,838.9 L195.8,836.5 L197.8,834.2 L200.5,832.2 L203.5,830.8 L207.1,829.8 L211.3,829.2 L215.6,829.2 L219.7,829.9 L223.5,831.3 L227.1,833.3 L230.6,835.9 L234.2,838.9 L237.9,842.5 L241.6,846.7 L245.3,851.0 L248.6,855.1 L251.8,859.0 L254.8,862.7 L257.4,866.3 L259.5,869.6 L261.1,872.7 L262.4,875.7 L262.7,878.2 L261.6,880.1 L258.1,881.2 L252.8,881.7 L247.2,881.5 L243.2,880.8 L241.5,879.1 L241.1,876.7 L240.9,874.0 L239.6,871.4 L236.8,869.0 L233.3,866.6 L229.3,864.4 L225.1,862.4 L220.7,860.8 L215.9,859.5 L211.2,858.3 L207.1,856.9 L203.7,855.4 L200.7,853.7 L198.2,851.8 L196.3,849.7 L194.9,847.2 L194.1,844.4 L193.9,841.5Z" fill="url(#gRect)" stroke="#f2cf7a" stroke-width="1.4"/>
<path d="M243.2,881.5 L247.2,879.8 L252.7,879.4 L258.2,880.0 L262.2,881.5 L264.1,884.1 L264.9,887.7 L265.0,892.1 L264.9,896.7 L264.5,901.8 L263.8,907.6 L262.7,913.3 L261.3,918.3 L259.4,922.6 L257.2,926.4 L254.7,929.7 L252.2,932.8 L249.5,935.4 L246.5,937.5 L243.6,939.6 L241.4,941.8 L240.1,944.7 L239.5,947.8 L238.9,950.7 L237.8,952.7 L235.8,953.7 L233.3,954.1 L230.8,953.8 L228.8,952.7 L227.2,950.5 L225.9,947.5 L225.2,943.8 L225.1,940.0 L226.2,936.0 L228.1,931.5 L230.3,926.8 L232.4,922.0 L234.3,916.7 L236.2,911.2 L238.0,905.6 L239.6,900.3 L240.4,894.9 L240.7,889.5 L241.3,884.8Z" fill="url(#gRect)" stroke="#f2cf7a" stroke-width="1.4"/>
<path d="M199.9,838.9 L201.3,837.4 L203.5,836.1 L206.1,835.1 L208.9,834.4 L211.8,834.1 L215.1,834.1 L218.4,834.5 L221.5,835.3 L224.8,836.7 L228.2,838.7 L231.0,840.8 L232.4,842.5 L232.0,843.8 L230.2,844.9 L227.8,845.7 L225.1,846.1 L222.3,846.0 L219.0,845.3 L215.7,844.6 L212.5,844.3 L209.5,844.7 L206.4,845.5 L203.7,846.2 L201.7,846.1 L200.3,844.9 L199.5,842.9 L199.3,840.7Z" fill="#dc9070" opacity="0.7"/>
<path d="M252.2,887.6 L252.7,890.5 L253.5,894.6 L254.0,899.3 L254.0,903.9 L253.3,908.4 L252.1,913.0 L250.5,917.7 L248.6,922.0 L246.0,926.2 L242.9,930.3 L239.9,933.9 L237.8,936.4" fill="none" stroke="#de9474" stroke-width="3" opacity="0.55" stroke-linecap="round"/>
<path d="M234.2,947.2 L234.8,945.2 L235.6,942.4 L236.7,939.2 L237.8,936.4 L239.1,933.8 L240.7,931.2 L242.2,929.0 L243.2,927.4" fill="none" stroke="#8f3220" stroke-width="2" opacity="0.6" stroke-linecap="round"/>
<path d="M216.1,846.1 L219.4,847.6 L224.2,849.7 L229.5,852.3 L234.2,855.1 L238.2,858.5 L242.1,862.4 L245.6,866.2 L248.6,869.6 L251.1,872.4 L253.1,875.0 L254.7,877.1 L255.8,878.6" fill="none" stroke="#983a24" stroke-width="1.6" opacity="0.6"/>
<ellipse cx="188.4" cy="817" rx="9.5" ry="11" fill="#9b1a17" stroke="#e9b85a" stroke-width="1.4"/>
<path d="M29.4,818.0 L28.6,815.0 L27.9,812.0 L27.2,808.9 L26.6,805.7 L26.2,802.5 L25.8,799.2 L25.5,795.9 L25.3,792.4 L25.2,788.9 L25.1,785.3 L25.0,781.6 L24.9,777.7 L24.7,773.6 L25.1,769.6 L25.7,765.7 L26.6,761.8 L27.9,758.0 L29.5,754.4 L31.3,750.8 L33.2,747.2 L35.3,743.7 L37.7,740.4 L40.4,737.4 L43.5,734.7 L46.8,732.4 L50.2,730.3 L53.8,728.4 L57.5,726.8 L61.3,725.5 L65.2,724.4 L69.1,723.5 L73.1,722.8 L77.0,722.3 L80.9,721.9 L84.9,721.8 L88.8,721.9 L92.7,722.1 L96.5,722.4 L100.3,722.8 L104.0,723.2 L107.7,723.6 L111.4,724.3 L115.0,725.2 L118.5,726.3 L122.0,727.6 L125.4,729.1 L128.6,730.8 L131.7,732.8 L134.6,735.0 L137.4,737.4 L140.0,739.9 L142.5,742.5 L144.8,745.1 L147.1,747.7 L149.2,750.3 L151.4,752.8 L153.5,755.2 L155.5,757.7 L157.5,760.2 L159.3,762.7 L161.0,765.3 L162.6,767.9 L164.1,770.6 L165.4,773.4 L166.6,776.2 L167.7,779.0 L168.6,781.8 L169.3,784.7 L170.1,787.5 L170.9,790.3 L171.6,793.1 L172.3,795.8 L173.0,798.6 L173.6,801.3 L174.2,804.0 L174.9,806.8 L175.4,809.5 L176.0,812.3 L176.6,815.1 L177.1,818.0 L177.4,820.9 L177.7,823.8 L178.2,826.8 L178.8,829.9 L179.6,833.0 L180.5,836.4 L181.6,839.9 L182.9,843.6 L184.3,847.6 L185.4,851.7 L185.9,855.8 L186.7,860.2 L203.5,873.7 L226.0,892.7 L225.1,898.9 L220.0,902.3 L213.7,904.5 L207.1,906.1 L200.3,907.0 L193.7,907.7 L187.4,908.2 L181.5,908.7 L175.9,909.1 L170.5,909.5 L165.3,909.8 L160.4,910.0 L155.6,910.1 L151.0,910.3 L146.6,910.3 L142.2,910.3 L138.0,910.3 L134.0,910.2 L129.9,910.0 L126.0,909.8 L122.2,909.5 L118.4,909.2 L114.7,908.7 L111.1,908.1 L107.5,907.2 L104.0,906.2 L100.6,905.1 L97.2,903.9 L94.0,902.5 L90.9,900.9 L87.8,899.2 L84.9,897.4 L82.2,895.3 L79.6,893.1 L77.1,890.9 L74.7,888.6 L72.5,886.3 L70.3,884.1 L68.2,881.9 L66.2,879.7 L64.2,877.6 L62.2,875.5 L60.3,873.5 L58.4,871.4 L56.6,869.3 L54.9,867.1 L53.2,864.9 L51.6,862.8 L50.0,860.6 L48.5,858.3 L47.0,856.1 L45.6,853.8 L44.2,851.5 L42.9,849.2 L41.6,846.8 L40.4,844.4 L39.2,841.9 L38.1,839.4 L37.0,836.9 L35.8,834.4 L34.7,831.8 L33.5,829.2 L32.4,826.5 L31.3,823.7 L30.3,820.9Z" fill="#e0a02e" stroke="#e0a02e" stroke-width="4.5" stroke-linejoin="round"/>
<path d="M29.4,818.0 L28.6,815.0 L27.9,812.0 L27.2,808.9 L26.6,805.7 L26.2,802.5 L25.8,799.2 L25.5,795.9 L25.3,792.4 L25.2,788.9 L25.1,785.3 L25.0,781.6 L24.9,777.7 L24.7,773.6 L25.1,769.6 L25.7,765.7 L26.6,761.8 L27.9,758.0 L29.5,754.4 L31.3,750.8 L33.2,747.2 L35.3,743.7 L37.7,740.4 L40.4,737.4 L43.5,734.7 L46.8,732.4 L50.2,730.3 L53.8,728.4 L57.5,726.8 L61.3,725.5 L65.2,724.4 L69.1,723.5 L73.1,722.8 L77.0,722.3 L80.9,721.9 L84.9,721.8 L88.8,721.9 L92.7,722.1 L96.5,722.4 L100.3,722.8 L104.0,723.2 L107.7,723.6 L111.4,724.3 L115.0,725.2 L118.5,726.3 L122.0,727.6 L125.4,729.1 L128.6,730.8 L131.7,732.8 L134.6,735.0 L137.4,737.4 L140.0,739.9 L142.5,742.5 L144.8,745.1 L147.1,747.7 L149.2,750.3 L151.4,752.8 L153.5,755.2 L155.5,757.7 L157.5,760.2 L159.3,762.7 L161.0,765.3 L162.6,767.9 L164.1,770.6 L165.4,773.4 L166.6,776.2 L167.7,779.0 L168.6,781.8 L169.3,784.7 L170.1,787.5 L170.9,790.3 L171.6,793.1 L172.3,795.8 L173.0,798.6 L173.6,801.3 L174.2,804.0 L174.9,806.8 L175.4,809.5 L176.0,812.3 L176.6,815.1 L177.1,818.0 L177.4,820.9 L177.7,823.8 L178.2,826.8 L178.8,829.9 L179.6,833.0 L180.5,836.4 L181.6,839.9 L182.9,843.6 L184.3,847.6 L185.4,851.7 L185.9,855.8 L186.7,860.2 L203.5,873.7 L226.0,892.7 L225.1,898.9 L220.0,902.3 L213.7,904.5 L207.1,906.1 L200.3,907.0 L193.7,907.7 L187.4,908.2 L181.5,908.7 L175.9,909.1 L170.5,909.5 L165.3,909.8 L160.4,910.0 L155.6,910.1 L151.0,910.3 L146.6,910.3 L142.2,910.3 L138.0,910.3 L134.0,910.2 L129.9,910.0 L126.0,909.8 L122.2,909.5 L118.4,909.2 L114.7,908.7 L111.1,908.1 L107.5,907.2 L104.0,906.2 L100.6,905.1 L97.2,903.9 L94.0,902.5 L90.9,900.9 L87.8,899.2 L84.9,897.4 L82.2,895.3 L79.6,893.1 L77.1,890.9 L74.7,888.6 L72.5,886.3 L70.3,884.1 L68.2,881.9 L66.2,879.7 L64.2,877.6 L62.2,875.5 L60.3,873.5 L58.4,871.4 L56.6,869.3 L54.9,867.1 L53.2,864.9 L51.6,862.8 L50.0,860.6 L48.5,858.3 L47.0,856.1 L45.6,853.8 L44.2,851.5 L42.9,849.2 L41.6,846.8 L40.4,844.4 L39.2,841.9 L38.1,839.4 L37.0,836.9 L35.8,834.4 L34.7,831.8 L33.5,829.2 L32.4,826.5 L31.3,823.7 L30.3,820.9Z" fill="#d9485e"/>
<path d="M33.5,818.0 L32.6,815.2 L31.8,812.3 L31.1,809.4 L30.5,806.4 L30.0,803.3 L29.6,800.1 L29.3,796.9 L29.0,793.6 L28.7,790.2 L28.6,786.8 L28.4,783.2 L28.3,779.4 L28.3,775.6 L28.7,771.9 L29.5,768.2 L30.4,764.5 L31.6,760.9 L33.1,757.4 L34.7,754.0 L36.5,750.5 L38.5,747.1 L40.7,743.9 L43.2,740.9 L46.1,738.3 L49.2,736.0 L52.5,733.9 L55.9,732.1 L59.5,730.6 L63.1,729.3 L66.9,728.4 L70.6,727.6 L74.4,727.0 L78.2,726.6 L82.0,726.3 L85.8,726.3 L89.5,726.3 L93.2,726.6 L96.8,726.9 L100.4,727.2 L104.0,727.6 L107.5,728.1 L111.0,728.8 L114.5,729.6 L117.8,730.7 L121.1,731.9 L124.3,733.3 L127.4,734.9 L130.4,736.7 L133.2,738.8 L135.8,741.1 L138.3,743.6 L140.6,746.1 L142.8,748.7 L144.9,751.2 L146.9,753.8 L148.8,756.3 L150.6,758.9 L152.3,761.4 L154.0,764.0 L155.4,766.6 L156.8,769.2 L158.1,771.8 L159.3,774.4 L160.3,777.1 L161.3,779.7 L162.2,782.3 L163.0,785.0 L163.7,787.6 L164.4,790.1 L165.1,792.7 L165.8,795.2 L166.4,797.7 L167.0,800.2 L167.6,802.7 L168.1,805.2 L168.7,807.8 L169.2,810.3 L169.7,812.8 L170.2,815.4 L170.6,818.0 L171.1,820.6 L171.5,823.3 L172.0,826.1 L172.7,828.9 L173.4,831.8 L174.3,834.9 L175.2,838.1 L176.4,841.5 L177.6,845.2 L178.9,849.0 L179.8,852.9 L180.6,857.0 L189.1,865.6 L200.8,877.3 L202.3,883.7 L213.4,897.5 L208.0,900.0 L201.9,901.6 L195.4,902.5 L189.0,903.0 L183.0,903.4 L177.3,903.8 L171.9,904.1 L166.7,904.4 L161.8,904.6 L157.2,904.7 L152.7,904.9 L148.3,905.0 L144.1,905.0 L140.1,905.1 L136.1,905.0 L132.2,904.9 L128.5,904.7 L124.8,904.5 L121.1,904.2 L117.6,903.7 L114.1,903.1 L110.6,902.3 L107.3,901.5 L104.0,900.5 L100.8,899.4 L97.7,898.2 L94.7,896.9 L91.7,895.4 L88.9,893.9 L86.2,892.2 L83.6,890.4 L81.1,888.4 L78.7,886.5 L76.5,884.5 L74.3,882.5 L72.2,880.5 L70.1,878.5 L68.1,876.5 L66.2,874.5 L64.4,872.5 L62.6,870.5 L60.9,868.5 L59.2,866.5 L57.6,864.4 L56.0,862.3 L54.5,860.3 L53.0,858.2 L51.6,856.1 L50.2,853.9 L48.9,851.8 L47.6,849.6 L46.3,847.4 L45.1,845.1 L44.0,842.8 L42.9,840.5 L41.8,838.2 L40.7,835.8 L39.7,833.4 L38.5,831.0 L37.4,828.5 L36.4,826.0 L35.3,823.4 L34.4,820.7Z" fill="#cb3b50"/>
<path d="M33.3,818.0 L32.5,815.2 L31.7,812.3 L31.0,809.4 L30.4,806.3 L29.9,803.3 L29.5,800.1 L29.1,796.9 L28.8,793.6 L28.6,790.2 L28.4,786.7 L28.3,783.1 L28.2,779.4 L28.1,775.5 L28.6,771.8 L29.3,768.1 L30.2,764.4 L31.4,760.8 L32.9,757.3 L34.6,753.8 L36.4,750.4 L38.4,747.0 L40.6,743.7 L43.1,740.8 L46.0,738.2 L49.1,735.8 L52.4,733.7 L55.8,732.0 L59.4,730.4 L63.1,729.2 L66.8,728.2 L70.6,727.4 L74.4,726.9 L78.2,726.4 L81.9,726.2 L85.7,726.1 L89.5,726.2 L93.2,726.4 L96.8,726.7 L100.4,727.1 L104.0,727.5 L107.5,727.9 L111.0,728.6 L114.5,729.5 L117.9,730.5 L121.2,731.7 L124.4,733.1 L127.5,734.7 L130.5,736.6 L133.3,738.7 L135.9,741.0 L138.4,743.4 L140.7,746.0 L142.9,748.5 L145.0,751.1 L147.0,753.6 L148.9,756.2 L150.7,758.7 L152.5,761.3 L154.1,763.8 L155.6,766.4 L157.0,769.0 L158.3,771.7 L159.4,774.3 L160.5,776.9 L161.5,779.6 L162.4,782.2 L163.2,784.8 L163.9,787.5 L164.6,790.0 L165.3,792.6 L166.0,795.1 L166.6,797.6 L167.2,800.2 L167.8,802.7 L168.4,805.2 L168.9,807.7 L169.4,810.3 L169.9,812.8 L170.4,815.4 L170.9,818.0 L171.3,820.6 L171.7,823.3 L172.3,826.1 L172.9,828.9 L173.7,831.9 L174.5,834.9 L175.5,838.2 L176.6,841.6 L177.9,845.3 L179.1,849.1 L180.0,853.0 L180.8,857.1 L189.6,866.0 L201.8,877.9 L203.2,884.3 L213.6,897.6 L208.2,900.2 L202.1,901.8 L195.6,902.6 L189.2,903.2 L183.2,903.6 L177.4,904.0 L172.0,904.3 L166.9,904.5 L162.0,904.8 L157.3,904.9 L152.8,905.1 L148.4,905.2 L144.2,905.2 L140.1,905.3 L136.2,905.2 L132.3,905.1 L128.5,904.9 L124.8,904.7 L121.2,904.4 L117.6,903.9 L114.1,903.3 L110.7,902.6 L107.3,901.7 L104.0,900.7 L100.8,899.6 L97.7,898.4 L94.6,897.1 L91.7,895.7 L88.9,894.1 L86.1,892.4 L83.5,890.5 L81.1,888.6 L78.7,886.6 L76.4,884.6 L74.2,882.6 L72.1,880.6 L70.1,878.6 L68.1,876.6 L66.2,874.6 L64.3,872.6 L62.5,870.6 L60.8,868.6 L59.1,866.6 L57.5,864.5 L55.9,862.4 L54.4,860.4 L52.9,858.3 L51.5,856.2 L50.1,854.0 L48.7,851.9 L47.4,849.7 L46.2,847.5 L45.0,845.2 L43.9,842.9 L42.8,840.6 L41.7,838.2 L40.6,835.9 L39.5,833.5 L38.4,831.0 L37.3,828.6 L36.2,826.0 L35.2,823.4 L34.2,820.7Z" fill="none" stroke="#f6c6aa" stroke-width="1.1"/>
<path d="M29.4,818.0 L28.6,815.0 L27.9,812.0 L27.2,808.9 L26.6,805.7 L26.2,802.5 L25.8,799.2 L25.5,795.9 L25.3,792.4 L25.2,788.9 L25.1,785.3 L25.0,781.6 L24.9,777.7 L24.7,773.6 L25.1,769.6 L25.7,765.7 L26.6,761.8 L27.9,758.0 L29.5,754.4 L31.3,750.8 L33.2,747.2 L35.3,743.7 L37.7,740.4 L40.4,737.4 L43.5,734.7 L46.8,732.4 L50.2,730.3 L53.8,728.4 L57.5,726.8 L61.3,725.5 L65.2,724.4 L69.1,723.5 L73.1,722.8 L77.0,722.3 L80.9,721.9 L84.9,721.8 L88.8,721.9 L92.7,722.1 L96.5,722.4 L100.3,722.8 L104.0,723.2 L107.7,723.6 L111.4,724.3 L115.0,725.2 L118.5,726.3 L122.0,727.6 L125.4,729.1 L128.6,730.8 L131.7,732.8 L134.6,735.0 L137.4,737.4 L140.0,739.9 L142.5,742.5 L144.8,745.1 L147.1,747.7 L149.2,750.3 L151.4,752.8 L153.5,755.2 L155.5,757.7 L157.5,760.2 L159.3,762.7 L161.0,765.3 L162.6,767.9 L164.1,770.6 L165.4,773.4 L166.6,776.2 L167.7,779.0 L168.6,781.8 L169.3,784.7 L170.1,787.5 L170.9,790.3 L171.6,793.1 L172.3,795.8 L173.0,798.6 L173.6,801.3 L174.2,804.0 L174.9,806.8 L175.4,809.5 L176.0,812.3 L176.6,815.1 L177.1,818.0 L177.4,820.9 L177.7,823.8 L178.2,826.8 L178.8,829.9 L179.6,833.0 L180.5,836.4 L181.6,839.9 L182.9,843.6 L184.3,847.6 L185.4,851.7 L185.9,855.8 L186.7,860.2 L203.5,873.7 L226.0,892.7 L225.1,898.9 L220.0,902.3 L213.7,904.5 L207.1,906.1 L200.3,907.0 L193.7,907.7 L187.4,908.2 L181.5,908.7 L175.9,909.1 L170.5,909.5 L165.3,909.8 L160.4,910.0 L155.6,910.1 L151.0,910.3 L146.6,910.3 L142.2,910.3 L138.0,910.3 L134.0,910.2 L129.9,910.0 L126.0,909.8 L122.2,909.5 L118.4,909.2 L114.7,908.7 L111.1,908.1 L107.5,907.2 L104.0,906.2 L100.6,905.1 L97.2,903.9 L94.0,902.5 L90.9,900.9 L87.8,899.2 L84.9,897.4 L82.2,895.3 L79.6,893.1 L77.1,890.9 L74.7,888.6 L72.5,886.3 L70.3,884.1 L68.2,881.9 L66.2,879.7 L64.2,877.6 L62.2,875.5 L60.3,873.5 L58.4,871.4 L56.6,869.3 L54.9,867.1 L53.2,864.9 L51.6,862.8 L50.0,860.6 L48.5,858.3 L47.0,856.1 L45.6,853.8 L44.2,851.5 L42.9,849.2 L41.6,846.8 L40.4,844.4 L39.2,841.9 L38.1,839.4 L37.0,836.9 L35.8,834.4 L34.7,831.8 L33.5,829.2 L32.4,826.5 L31.3,823.7 L30.3,820.9Z" fill="none" stroke="#f3c9a0" stroke-width="0.9" opacity="0.9"/>
<path d="M37.2,818.0 L36.3,815.3 L35.5,812.6 L34.8,809.8 L34.1,806.9 L33.6,804.0 L33.1,801.0 L32.7,797.9 L32.4,794.7 L32.1,791.5 L31.8,788.1 L31.6,784.6 L31.5,781.1 L31.6,777.4 L32.0,773.9 L32.9,770.5 L33.8,767.0 L35.0,763.6 L36.4,760.3 L37.9,756.9 L39.6,753.6 L41.4,750.3 L43.4,747.1 L45.8,744.2 L48.5,741.6 L51.4,739.3 L54.5,737.2 L57.8,735.5 L61.2,734.0 L64.8,732.9 L68.4,732.0 L72.0,731.4 L75.7,730.9 L79.3,730.5 L83.0,730.4 L86.6,730.4 L90.1,730.5 L93.7,730.7 L97.1,731.0 L100.6,731.3 L104.0,731.7 L107.4,732.2 L110.7,732.9 L114.0,733.7 L117.2,734.7 L120.3,735.9 L123.4,737.2 L126.4,738.7 L129.2,740.4 L131.9,742.3 L134.4,744.5 L136.8,746.9 L138.9,749.4 L141.0,752.0 L142.9,754.5 L144.8,757.0 L146.4,759.6 L148.0,762.2 L149.4,764.8 L150.7,767.5 L151.9,770.1 L152.9,772.8 L153.9,775.4 L154.8,777.9 L155.7,780.5 L156.4,783.0 L157.2,785.4 L157.9,787.8 L158.5,790.2 L159.2,792.6 L159.8,794.9 L160.4,797.2 L161.0,799.5 L161.5,801.8 L162.0,804.1 L162.5,806.4 L162.9,808.7 L163.4,811.0 L163.8,813.3 L164.2,815.6 L164.7,818.0 L165.2,820.4 L165.8,822.9 L166.4,825.4 L167.0,828.0 L167.7,830.7 L168.5,833.5 L169.4,836.4 L170.4,839.6 L171.5,842.9 L172.8,846.5 L174.1,850.3 L174.9,854.1 L175.8,858.2 L177.5,863.1 L181.3,869.7 L207.3,893.0 L202.8,895.9 L197.0,897.4 L190.8,898.2 L184.7,898.7 L178.9,899.0 L173.4,899.2 L168.2,899.4 L163.3,899.6 L158.6,899.7 L154.2,899.9 L149.9,900.0 L145.8,900.1 L141.9,900.2 L138.0,900.2 L134.3,900.1 L130.7,900.0 L127.1,899.9 L123.6,899.6 L120.1,899.2 L116.8,898.6 L113.5,897.9 L110.2,897.1 L107.1,896.2 L104.0,895.2 L101.0,894.1 L98.1,892.9 L95.3,891.7 L92.5,890.4 L89.9,888.9 L87.3,887.4 L84.9,885.8 L82.5,884.1 L80.2,882.4 L78.1,880.6 L75.9,878.9 L73.9,877.1 L71.9,875.3 L70.0,873.5 L68.2,871.7 L66.4,869.7 L64.8,867.8 L63.2,865.8 L61.6,863.8 L60.1,861.9 L58.6,859.9 L57.2,858.0 L55.8,856.0 L54.5,854.0 L53.2,852.0 L51.9,849.9 L50.7,847.9 L49.5,845.8 L48.4,843.6 L47.4,841.5 L46.3,839.3 L45.3,837.1 L44.2,834.9 L43.2,832.6 L42.1,830.3 L41.1,828.0 L40.0,825.6 L39.0,823.1 L38.1,820.6Z" fill="#76191a"/>
<clipPath id="cUt"><path d="M37.2,818.0 L36.3,815.3 L35.5,812.6 L34.8,809.8 L34.1,806.9 L33.6,804.0 L33.1,801.0 L32.7,797.9 L32.4,794.7 L32.1,791.5 L31.8,788.1 L31.6,784.6 L31.5,781.1 L31.6,777.4 L32.0,773.9 L32.9,770.5 L33.8,767.0 L35.0,763.6 L36.4,760.3 L37.9,756.9 L39.6,753.6 L41.4,750.3 L43.4,747.1 L45.8,744.2 L48.5,741.6 L51.4,739.3 L54.5,737.2 L57.8,735.5 L61.2,734.0 L64.8,732.9 L68.4,732.0 L72.0,731.4 L75.7,730.9 L79.3,730.5 L83.0,730.4 L86.6,730.4 L90.1,730.5 L93.7,730.7 L97.1,731.0 L100.6,731.3 L104.0,731.7 L107.4,732.2 L110.7,732.9 L114.0,733.7 L117.2,734.7 L120.3,735.9 L123.4,737.2 L126.4,738.7 L129.2,740.4 L131.9,742.3 L134.4,744.5 L136.8,746.9 L138.9,749.4 L141.0,752.0 L142.9,754.5 L144.8,757.0 L146.4,759.6 L148.0,762.2 L149.4,764.8 L150.7,767.5 L151.9,770.1 L152.9,772.8 L153.9,775.4 L154.8,777.9 L155.7,780.5 L156.4,783.0 L157.2,785.4 L157.9,787.8 L158.5,790.2 L159.2,792.6 L159.8,794.9 L160.4,797.2 L161.0,799.5 L161.5,801.8 L162.0,804.1 L162.5,806.4 L162.9,808.7 L163.4,811.0 L163.8,813.3 L164.2,815.6 L164.7,818.0 L165.2,820.4 L165.8,822.9 L166.4,825.4 L167.0,828.0 L167.7,830.7 L168.5,833.5 L169.4,836.4 L170.4,839.6 L171.5,842.9 L172.8,846.5 L174.1,850.3 L174.9,854.1 L175.8,858.2 L177.5,863.1 L181.3,869.7 L207.3,893.0 L202.8,895.9 L197.0,897.4 L190.8,898.2 L184.7,898.7 L178.9,899.0 L173.4,899.2 L168.2,899.4 L163.3,899.6 L158.6,899.7 L154.2,899.9 L149.9,900.0 L145.8,900.1 L141.9,900.2 L138.0,900.2 L134.3,900.1 L130.7,900.0 L127.1,899.9 L123.6,899.6 L120.1,899.2 L116.8,898.6 L113.5,897.9 L110.2,897.1 L107.1,896.2 L104.0,895.2 L101.0,894.1 L98.1,892.9 L95.3,891.7 L92.5,890.4 L89.9,888.9 L87.3,887.4 L84.9,885.8 L82.5,884.1 L80.2,882.4 L78.1,880.6 L75.9,878.9 L73.9,877.1 L71.9,875.3 L70.0,873.5 L68.2,871.7 L66.4,869.7 L64.8,867.8 L63.2,865.8 L61.6,863.8 L60.1,861.9 L58.6,859.9 L57.2,858.0 L55.8,856.0 L54.5,854.0 L53.2,852.0 L51.9,849.9 L50.7,847.9 L49.5,845.8 L48.4,843.6 L47.4,841.5 L46.3,839.3 L45.3,837.1 L44.2,834.9 L43.2,832.6 L42.1,830.3 L41.1,828.0 L40.0,825.6 L39.0,823.1 L38.1,820.6Z"/></clipPath>
<g clip-path="url(#cUt)">
<path d="M73.3,753.3 L76.3,749.9 L82.2,746.4 L89.3,743.5 L95.6,742.2 L101.0,742.8 L106.4,744.7 L111.4,747.6 L115.6,751.1 L118.5,755.3 L120.6,760.3 L122.3,765.7 L124.4,771.1 L126.8,776.6 L129.0,782.4 L131.8,788.0 L135.6,793.3 L141.1,797.8 L147.9,801.7 L154.7,805.8 L160.0,811.1 L163.8,818.4 L166.8,826.9 L168.6,835.4 L168.9,842.2 L167.3,847.8 L164.2,852.8 L160.0,855.8 L155.6,855.6 L150.5,850.6 L144.7,841.9 L138.8,832.3 L133.3,824.4 L128.4,819.2 L123.8,815.0 L119.4,811.1 L115.6,806.7 L112.4,801.3 L109.9,795.6 L107.4,789.8 L104.4,784.4 L100.9,779.6 L96.9,775.0 L92.9,770.7 L88.9,766.7 L84.1,763.0 L78.8,759.6 L74.6,756.4Z" fill="#9a2422" opacity="0.9" filter="url(#soft2)"/>
<path d="M24.4,797.8 L24.0,792.4 L24.5,784.5 L25.6,776.1 L27.1,768.9 L28.9,763.3 L31.2,758.4 L33.8,754.0 L36.7,750.0 L39.9,746.3 L43.5,743.0 L47.3,740.1 L51.1,737.8 L55.1,735.9 L59.4,734.4 L63.4,733.6 L66.7,733.3 L69.3,734.0 L71.5,735.5 L73.0,737.3 L73.3,738.9 L72.3,740.2 L70.0,741.5 L67.2,742.9 L64.4,744.4 L61.8,746.1 L58.9,747.9 L56.0,749.9 L53.3,752.2 L50.9,754.9 L48.6,757.8 L46.5,761.1 L44.4,764.4 L42.5,768.0 L40.7,771.9 L39.1,775.9 L37.8,780.0 L37.1,784.7 L36.9,789.9 L36.6,794.5 L35.6,797.8 L33.1,799.7 L29.7,800.7 L26.5,800.2Z" fill="#7c5c5c" opacity="0.9"/>
<path d="M73.3,735.6 L77.2,734.0 L83.2,733.4 L89.8,733.6 L95.6,734.4 L100.2,736.1 L104.4,738.5 L108.2,741.4 L111.1,744.4 L113.4,747.5 L115.0,750.8 L115.8,754.2 L115.6,757.8 L114.0,762.1 L111.2,767.1 L107.9,771.3 L104.4,773.3 L100.8,772.4 L96.7,769.4 L92.6,765.6 L88.9,762.2 L85.6,759.5 L82.6,756.9 L80.0,754.2 L77.8,751.1 L75.6,747.2 L73.5,742.7 L72.4,738.5Z" fill="#5e1414" opacity="0.6" filter="url(#soft2)"/>
<path d="M150.0,880.0 L152.2,872.3 L156.4,863.1 L161.2,854.9 L165.0,850.0 L167.2,849.5 L168.6,852.0 L170.0,856.0 L172.0,860.0 L174.7,864.1 L177.7,868.9 L181.1,873.7 L185.0,878.0 L190.3,881.5 L196.8,884.6 L202.3,887.4 L205.0,890.0 L204.1,892.4 L200.6,894.6 L195.6,896.5 L190.0,898.0 L183.1,899.4 L174.7,900.8 L166.4,901.2 L160.0,900.0 L155.5,896.8 L152.2,892.0 L150.3,886.2Z" fill="#5a1210" opacity="0.7" filter="url(#soft2)"/>
<path d="M108.9,736.7 L112.5,734.6 L118.3,733.3 L124.9,732.8 L131.1,733.3 L136.8,735.1 L142.6,737.9 L148.2,741.5 L153.3,745.6 L158.2,750.3 L162.8,755.8 L166.6,761.4 L168.9,766.7 L169.5,771.9 L168.7,777.2 L167.0,781.6 L164.4,784.4 L160.8,784.9 L156.1,783.5 L151.1,781.6 L146.7,780.0 L142.9,779.2 L139.5,778.7 L136.3,777.9 L133.3,776.7 L130.6,774.7 L128.1,772.4 L125.7,769.6 L123.3,766.7 L121.0,763.4 L118.6,759.8 L116.4,756.0 L114.4,752.2 L112.2,748.1 L109.7,743.8 L108.2,739.7Z" fill="#c2365a"/>
<path d="M124.4,744.4 L126.7,743.8 L130.3,744.0 L134.2,745.0 L137.8,746.7 L141.1,749.3 L144.4,752.8 L147.3,756.6 L148.9,760.0 L149.0,763.3 L148.1,766.7 L146.4,769.5 L144.4,771.1 L142.0,771.2 L139.0,770.3 L136.0,768.6 L133.3,766.7 L131.2,764.4 L129.4,761.5 L127.9,758.5 L126.7,755.6 L125.4,752.5 L124.3,749.2 L123.8,746.3Z" fill="#d8557a" opacity="0.6"/>
<path d="M33.3,766.7 L35.1,762.9 L37.6,757.4 L40.8,751.6 L44.4,746.7 L48.7,742.8 L53.6,739.4 L58.9,736.5 L64.4,734.4 L70.2,733.1 L76.2,732.5 L82.5,732.6 L88.9,733.3 L95.7,734.7 L102.9,736.8 L109.8,739.6 L115.6,743.3 L119.8,748.5 L123.1,755.0 L125.9,761.5 L128.9,766.7 L132.1,770.2 L135.3,772.8 L138.6,774.8 L142.2,776.7 L146.8,778.5 L151.9,780.1 L156.7,781.3 L160.0,782.2" fill="none" stroke="#e6cdd6" stroke-width="1.1"/>
<path d="M121.1,755.6 L120.2,757.5 L118.9,760.3 L117.8,763.5 L117.8,766.7 L119.2,769.8 L121.6,773.2 L124.3,776.6 L126.7,780.0 L128.7,783.3 L130.7,786.7 L132.3,790.0 L133.3,793.3 L133.5,796.8 L133.1,800.3 L132.2,803.6 L131.1,806.7 L129.6,809.4 L127.6,811.9 L125.7,814.1 L124.4,815.6" fill="none" stroke="#cc5574" stroke-width="5.5" stroke-linecap="round"/>
<path d="M121.8,756.7 L121.0,758.4 L119.9,760.8 L119.0,763.7 L119.1,766.7 L120.5,769.8 L122.9,773.1 L125.5,776.6 L127.8,780.0 L129.7,783.3 L131.7,786.7 L133.3,790.0 L134.2,793.3 L134.2,796.9 L133.5,800.6 L132.6,803.9 L132.0,806.2" fill="none" stroke="#e68ba2" stroke-width="1.6" stroke-linecap="round" opacity="0.8"/>
<path d="M55.6,743.3 L57.2,742.0 L59.2,741.0 L61.3,740.5 L63.3,740.4 L65.3,741.0 L67.3,742.1 L69.2,743.7 L71.1,745.6 L72.6,747.9 L74.0,750.6 L75.5,753.6 L77.8,756.7 L81.1,759.9 L85.3,763.3 L89.5,766.8 L93.3,770.0 L96.6,772.9 L99.5,775.7 L102.2,778.4 L104.4,781.1 L106.5,784.0 L108.2,786.9 L109.5,789.7 L110.0,792.2 L109.1,794.5 L107.1,796.6 L105.3,798.5 L104.9,800.0 L106.5,800.9 L109.4,801.4 L112.7,801.8 L115.6,802.7 L118.0,804.1 L120.5,805.8 L122.4,807.6 L123.3,809.3 L123.0,811.2 L121.8,813.3 L119.9,815.0 L117.3,816.0 L113.7,815.6 L109.2,814.3 L104.7,813.1 L101.1,812.9 L98.7,814.0 L97.0,815.9 L95.9,818.4 L95.6,821.1 L96.2,824.3 L97.8,827.9 L99.6,831.7 L101.1,835.6 L102.3,839.4 L103.4,843.4 L104.2,847.4 L104.4,851.1 L104.4,855.0 L104.1,859.0 L102.9,862.3 L100.0,864.4 L94.8,865.0 L87.8,864.3 L80.2,862.9 L73.3,861.1 L67.0,858.8 L60.8,855.8 L55.3,852.6 L51.1,849.3 L48.9,846.1 L48.0,842.7 L47.7,839.2 L47.1,836.0 L46.0,833.0 L44.8,830.2 L43.5,827.4 L42.2,824.4 L40.8,821.3 L39.3,818.2 L37.9,814.8 L36.7,811.1 L35.5,806.9 L34.5,802.4 L33.7,797.7 L33.3,793.3 L33.3,789.3 L33.7,785.4 L34.4,781.6 L35.6,777.8 L37.3,773.8 L39.7,769.7 L42.1,765.7 L44.4,762.2 L46.6,759.3 L48.7,756.8 L50.6,754.5 L52.2,752.2 L53.3,749.8 L53.9,747.3 L54.5,745.1Z" fill="#f1a97a"/>
<path d="M35.6,806.7 L36.6,811.1 L38.4,815.8 L40.4,820.3 L42.2,824.4 L43.6,827.8 L44.8,830.8 L46.1,833.6 L47.8,836.7 L49.8,840.3 L52.0,844.1 L54.6,847.8 L57.8,851.1 L62.2,854.3 L67.7,857.4 L72.6,859.6 L75.6,860.0 L75.7,857.8 L74.0,853.8 L71.4,848.9 L68.9,844.4 L66.3,840.7 L63.4,836.9 L60.4,833.1 L57.8,828.9 L55.5,824.1 L53.3,818.9 L51.5,813.7 L50.0,808.9 L49.2,804.4 L49.0,800.0 L48.8,796.2 L47.8,793.3 L45.6,791.4 L42.8,790.3 L39.9,790.1 L37.8,791.1 L36.5,793.7 L35.6,797.6 L35.3,802.2Z" fill="#dc875c" opacity="0.55" filter="url(#soft)"/>
<path d="M36.7,777.8 L38.3,774.7 L40.9,771.7 L44.1,769.3 L47.8,767.8 L51.9,767.4 L56.5,768.0 L61.5,769.3 L66.7,771.1 L72.3,773.8 L78.3,777.3 L84.1,781.0 L88.9,784.4 L92.8,787.7 L96.1,790.9 L98.3,793.7 L98.9,795.6 L97.3,796.2 L94.0,796.0 L89.8,795.2 L85.6,794.4 L81.1,793.4 L76.2,791.9 L71.3,790.6 L66.7,790.0 L62.5,790.7 L58.5,792.2 L54.7,793.7 L51.1,794.4 L47.6,794.4 L44.2,793.9 L41.2,792.8 L38.9,791.1 L37.3,788.4 L36.3,784.9 L36.1,781.1Z" fill="#f8cda6"/>
<path d="M73.3,804.4 L76.3,801.9 L80.3,800.0 L84.7,798.6 L88.9,797.8 L92.8,797.7 L96.8,798.2 L100.7,799.1 L104.4,800.0 L108.1,800.9 L111.7,802.0 L115.0,803.2 L117.8,804.4 L120.0,805.8 L121.8,807.2 L122.9,808.6 L123.3,810.0 L122.8,811.6 L121.5,813.3 L119.6,814.8 L117.3,815.6 L114.6,815.3 L111.2,814.3 L107.7,813.1 L104.4,812.2 L101.4,811.6 L98.5,810.9 L95.8,810.6 L93.3,811.1 L91.1,812.4 L89.2,814.4 L87.6,816.9 L86.7,820.0 L86.7,823.9 L87.6,828.6 L88.5,833.4 L88.9,837.8 L88.6,841.7 L87.8,845.4 L86.8,848.7 L85.6,851.1 L83.8,852.9 L81.7,854.0 L79.6,854.3 L77.8,853.3 L76.4,850.7 L75.2,846.8 L74.2,842.2 L73.3,837.8 L72.5,833.4 L71.8,828.9 L71.3,824.3 L71.1,820.0 L71.0,815.7 L71.1,811.5 L71.7,807.7Z" fill="#f5b68a" stroke="#dc875a" stroke-width="0.7"/>
<path d="M87.8,810.0 L89.5,809.1 L92.1,808.6 L94.8,808.5 L96.7,808.9 L97.6,810.0 L98.1,811.8 L98.1,813.8 L97.8,815.6 L97.1,817.3 L95.9,819.0 L94.6,820.5 L93.3,821.1 L92.1,820.8 L90.9,819.7 L89.8,818.2 L88.9,816.7 L88.1,815.0 L87.5,813.1 L87.3,811.3Z" fill="#ef8fa2"/>
<ellipse cx="131.5" cy="862" rx="36" ry="38" fill="#f3af80" transform="rotate(-20 131.5 862)"/>
<ellipse cx="126" cy="852" rx="24" ry="22" fill="#f8c49c" opacity="0.7" filter="url(#soft2)"/>
<path d="M122.2,825.6 L123.9,823.1 L127.6,821.7 L132.0,821.1 L135.6,821.1 L138.1,821.9 L140.2,823.4 L142.2,825.3 L144.4,826.9 L147.2,828.0 L150.2,828.9 L152.9,829.9 L154.7,831.3 L155.6,833.5 L155.9,836.2 L155.3,838.9 L153.3,841.1 L149.4,843.2 L143.9,845.2 L138.1,846.3 L133.3,845.6 L129.4,841.9 L125.7,836.1 L123.1,830.0Z" fill="#f3af80"/>
<path d="M113.3,856.7 L114.6,855.6 L116.3,854.1 L118.3,852.7 L120.0,852.2 L121.7,852.9 L123.4,854.4 L124.7,856.2 L125.3,858.0 L125.0,860.0 L123.8,862.2 L122.4,864.2 L120.9,865.6 L119.3,865.8 L117.5,865.4 L115.8,864.7 L114.7,864.2" fill="none" stroke="#d7835a" stroke-width="1.2"/>
<path d="M133.3,831.3 L134.3,832.1 L135.7,833.2 L137.3,834.3 L138.7,834.9 L139.9,834.8 L141.2,834.2 L142.3,833.6 L143.1,833.1" fill="none" stroke="#d7835a" stroke-width="0.9"/>
</g>
<path d="M37.2,818.0 L36.3,815.3 L35.5,812.6 L34.8,809.8 L34.1,806.9 L33.6,804.0 L33.1,801.0 L32.7,797.9 L32.4,794.7 L32.1,791.5 L31.8,788.1 L31.6,784.6 L31.5,781.1 L31.6,777.4 L32.0,773.9 L32.9,770.5 L33.8,767.0 L35.0,763.6 L36.4,760.3 L37.9,756.9 L39.6,753.6 L41.4,750.3 L43.4,747.1 L45.8,744.2 L48.5,741.6 L51.4,739.3 L54.5,737.2 L57.8,735.5 L61.2,734.0 L64.8,732.9 L68.4,732.0 L72.0,731.4 L75.7,730.9 L79.3,730.5 L83.0,730.4 L86.6,730.4 L90.1,730.5 L93.7,730.7 L97.1,731.0 L100.6,731.3 L104.0,731.7 L107.4,732.2 L110.7,732.9 L114.0,733.7 L117.2,734.7 L120.3,735.9 L123.4,737.2 L126.4,738.7 L129.2,740.4 L131.9,742.3 L134.4,744.5 L136.8,746.9 L138.9,749.4 L141.0,752.0 L142.9,754.5 L144.8,757.0 L146.4,759.6 L148.0,762.2 L149.4,764.8 L150.7,767.5 L151.9,770.1 L152.9,772.8 L153.9,775.4 L154.8,777.9 L155.7,780.5 L156.4,783.0 L157.2,785.4 L157.9,787.8 L158.5,790.2 L159.2,792.6 L159.8,794.9 L160.4,797.2 L161.0,799.5 L161.5,801.8 L162.0,804.1 L162.5,806.4 L162.9,808.7 L163.4,811.0 L163.8,813.3 L164.2,815.6 L164.7,818.0 L165.2,820.4 L165.8,822.9 L166.4,825.4 L167.0,828.0 L167.7,830.7 L168.5,833.5 L169.4,836.4 L170.4,839.6 L171.5,842.9 L172.8,846.5 L174.1,850.3 L174.9,854.1 L175.8,858.2 L177.5,863.1 L181.3,869.7 L207.3,893.0 L202.8,895.9 L197.0,897.4 L190.8,898.2 L184.7,898.7 L178.9,899.0 L173.4,899.2 L168.2,899.4 L163.3,899.6 L158.6,899.7 L154.2,899.9 L149.9,900.0 L145.8,900.1 L141.9,900.2 L138.0,900.2 L134.3,900.1 L130.7,900.0 L127.1,899.9 L123.6,899.6 L120.1,899.2 L116.8,898.6 L113.5,897.9 L110.2,897.1 L107.1,896.2 L104.0,895.2 L101.0,894.1 L98.1,892.9 L95.3,891.7 L92.5,890.4 L89.9,888.9 L87.3,887.4 L84.9,885.8 L82.5,884.1 L80.2,882.4 L78.1,880.6 L75.9,878.9 L73.9,877.1 L71.9,875.3 L70.0,873.5 L68.2,871.7 L66.4,869.7 L64.8,867.8 L63.2,865.8 L61.6,863.8 L60.1,861.9 L58.6,859.9 L57.2,858.0 L55.8,856.0 L54.5,854.0 L53.2,852.0 L51.9,849.9 L50.7,847.9 L49.5,845.8 L48.4,843.6 L47.4,841.5 L46.3,839.3 L45.3,837.1 L44.2,834.9 L43.2,832.6 L42.1,830.3 L41.1,828.0 L40.0,825.6 L39.0,823.1 L38.1,820.6Z" fill="none" stroke="#d9c6c8" stroke-width="0.9" opacity="0.8"/>
<path d="M205.0,900.0 L206.5,898.6 L208.6,897.3 L211.0,896.3 L213.3,895.8 L215.7,895.9 L218.3,896.3 L220.7,897.1 L222.5,898.3 L223.5,899.9 L224.1,901.8 L224.2,904.1 L224.3,906.7 L224.4,909.6 L224.3,912.8 L223.9,916.3 L223.3,920.0 L222.4,923.9 L221.2,928.1 L219.8,932.4 L218.3,936.7 L216.7,940.9 L215.0,945.2 L213.2,949.4 L211.7,953.3 L210.4,957.1 L209.4,960.7 L208.3,963.9 L207.0,966.7 L205.6,968.8 L204.0,970.5 L202.2,971.7 L200.0,972.5 L196.8,972.9 L192.8,972.8 L189.1,972.3 L186.7,971.7 L185.9,970.9 L186.3,969.9 L187.4,968.6 L188.7,966.7 L190.3,964.0 L192.4,960.7 L194.6,957.1 L196.7,953.3 L198.5,949.4 L200.3,945.2 L201.9,940.9 L203.3,936.7 L204.5,932.4 L205.5,928.1 L206.2,923.9 L206.7,920.0 L206.6,916.3 L206.2,912.7 L205.7,909.5 L205.3,906.7 L205.0,904.5 L204.6,902.8 L204.5,901.3Z" fill="#d84a62" stroke="#f6c2a4" stroke-width="1.2"/>
<path d="M214.7,905.0 L214.8,907.7 L215.1,911.5 L215.2,915.8 L215.0,920.0 L214.3,924.0 L213.4,928.2 L212.2,932.5 L210.8,936.7 L209.3,940.9 L207.7,945.2 L205.9,949.4 L204.2,953.3 L202.3,957.2 L200.4,961.0 L198.7,964.3 L197.5,966.7" fill="none" stroke="#b92c46" stroke-width="4" opacity="0.8"/>
<path d="M211.3,900.0 L211.4,903.7 L211.6,909.0 L211.6,914.8 L211.3,920.0 L210.7,924.4 L209.8,928.5 L208.7,932.6 L207.5,936.7 L206.1,940.9 L204.4,945.2 L202.6,949.4 L200.8,953.3 L198.8,957.2 L196.7,961.0 L194.7,964.3 L193.3,966.7" fill="none" stroke="#f6c2a4" stroke-width="0.9"/>
<path d="M218.3,900.0 L218.5,903.7 L218.8,909.0 L218.9,914.8 L218.7,920.0 L217.9,924.4 L216.8,928.5 L215.5,932.6 L214.2,936.7 L212.7,940.9 L211.0,945.2 L209.3,949.4 L207.7,953.3 L206.0,957.2 L204.3,961.0 L202.7,964.3 L201.7,966.7" fill="none" stroke="#f6c2a4" stroke-width="0.9"/>
<path d="M110.0,920.0 L112.0,918.8 L115.1,918.0 L118.9,917.5 L123.3,917.0 L128.4,916.7 L134.3,916.5 L140.5,916.4 L146.7,916.3 L152.9,916.3 L159.3,916.2 L165.6,916.2 L171.7,916.3 L177.6,916.4 L183.5,916.5 L188.9,916.8 L193.3,917.3 L196.7,918.3 L199.4,919.6 L201.1,921.1 L202.0,922.7 L201.8,924.4 L200.6,926.3 L198.8,928.2 L196.7,930.0 L194.2,931.7 L191.3,933.3 L188.2,934.7 L185.0,935.8 L182.1,936.6 L179.2,937.1 L175.9,937.4 L171.7,937.5 L166.2,937.5 L159.8,937.3 L153.1,937.0 L146.7,936.7 L140.4,936.5 L134.2,936.4 L128.3,936.1 L123.3,935.3 L119.4,934.0 L116.1,932.3 L113.6,930.3 L111.7,928.3 L110.2,926.2 L109.3,923.9 L109.1,921.7Z" fill="#e5636f" stroke="#f6c2a4" stroke-width="1.3"/>
<path d="M120.0,925.8 L122.4,925.5 L125.8,925.1 L129.7,924.7 L133.3,924.7 L136.7,925.1 L140.0,925.9 L143.3,926.6 L146.7,927.0 L150.0,926.7 L153.3,926.0 L156.7,925.3 L160.0,925.0 L163.3,925.3 L166.6,926.0 L169.9,926.7 L173.3,927.0 L177.3,926.7 L181.7,926.0 L185.6,925.2 L188.3,924.7" fill="none" stroke="#a3182c" stroke-width="4.2" stroke-linecap="round"/>
<path d="M125.0,931.3 L127.7,931.1 L131.6,930.7 L135.9,930.4 L140.0,930.3 L143.8,930.6 L147.5,931.2 L151.2,931.7 L155.0,932.0 L158.8,931.9 L162.6,931.5 L166.4,931.0 L170.0,930.7 L173.8,930.4 L177.6,930.2 L181.0,930.1 L183.3,930.0" fill="none" stroke="#b82a3e" stroke-width="2.2" stroke-linecap="round"/>
<path d="M175.3,937.5 L175.2,939.7 L174.9,942.8 L174.6,946.4 L174.2,950.0 L173.6,953.9 L172.8,958.3 L172.1,962.2 L171.7,965.0" fill="none" stroke="#e5636f" stroke-width="2.4"/>
<path d="M176.7,937.5 L176.5,939.7 L176.2,942.8 L175.9,946.4 L175.5,950.0 L174.9,953.9 L174.2,958.3 L173.5,962.2 L173.0,965.0" fill="none" stroke="#f6c2a4" stroke-width="0.7"/>
<ellipse cx="129" cy="953" rx="19" ry="9.5" fill="#ebe8f2" stroke="#f4eab4" stroke-width="1.3" transform="rotate(14 129 953)"/>
<ellipse cx="130" cy="953.5" rx="12" ry="5" fill="#d2d5ea" opacity="0.8" transform="rotate(14 130 953.5)"/>
<path d="M150.0,965.0 L151.3,963.7 L153.9,962.4 L157.0,961.5 L160.0,961.0 L162.9,961.4 L165.9,962.4 L169.0,963.4 L172.0,964.0 L175.0,963.8 L177.9,963.1 L180.9,962.3 L184.0,962.0 L187.4,962.2 L191.0,962.8 L194.6,963.4 L198.0,964.0 L201.3,964.4 L204.6,964.7 L207.6,965.1 L210.0,966.0 L212.0,967.5 L213.6,969.4 L214.5,971.3 L214.0,973.0 L211.8,974.3 L208.2,975.5 L204.1,976.5 L200.0,977.0 L196.1,977.0 L192.0,976.6 L187.9,976.0 L184.0,975.5 L180.4,975.2 L176.9,974.8 L173.5,974.5 L170.0,974.0 L166.3,973.4 L162.5,972.8 L158.9,972.0 L156.0,971.0 L153.6,969.7 L151.5,968.1 L150.2,966.4Z" fill="#c2324f"/>
<ellipse cx="227" cy="965" rx="15" ry="9" fill="#cfe0ea" stroke="#f2e9ba" stroke-width="1"/>
<ellipse cx="230" cy="963" rx="5" ry="3" fill="#eea0b0" opacity="0.8"/>
<path d="M240.5,942.7 L242.5,940.7 L245.5,938.7 L248.9,936.7 L252.2,934.6 L255.5,931.9 L259.1,928.9 L262.3,926.4 L264.9,925.6 L266.6,926.8 L267.7,929.4 L268.3,932.8 L268.5,936.4 L268.2,940.3 L267.5,944.7 L266.3,949.0 L264.9,952.7 L263.0,955.5 L260.7,957.9 L258.2,959.7 L255.8,960.8 L253.5,961.0 L251.0,960.4 L248.8,959.3 L246.8,958.1 L245.3,956.6 L244.1,954.8 L243.1,952.8 L242.3,950.8 L241.3,948.9 L240.4,946.8 L239.9,944.8Z" fill="#d6deea" opacity="0.95"/>
<ellipse cx="252" cy="952" rx="2" ry="3" fill="#f0a0b0" opacity="0.7"/>
</g>
<path d="M30.0,680.0 L51.8,673.5 L81.7,667.0 L115.7,662.0 L150.0,660.0 L188.4,662.0 L231.5,666.9 L270.0,673.4 L295.0,680.0 L300.6,687.1 L292.8,695.2 L280.3,702.9 L271.7,709.0 L268.9,712.5 L267.3,714.4 L266.3,715.8 L265.0,718.0 L263.2,721.3 L261.4,725.0 L259.7,729.0 L258.3,733.0 L257.3,737.1 L256.5,741.3 L256.0,745.6 L255.8,750.0 L255.9,754.4 L256.2,758.9 L256.8,763.5 L257.5,768.0 L258.3,772.5 L259.4,777.0 L260.6,781.5 L262.0,786.0 L263.7,790.4 L265.6,794.8 L267.7,799.3 L270.0,804.0 L272.7,809.1 L275.6,814.4 L278.7,819.8 L281.7,825.0 L284.7,830.1 L287.7,835.1 L290.7,840.1 L293.5,845.0 L296.1,849.7 L298.6,854.2 L300.8,858.9 L302.8,864.0 L304.5,869.8 L306.0,876.1 L307.2,882.4 L308.0,888.0 L308.4,892.6 L308.5,896.6 L308.4,900.6 L308.0,905.0 L307.6,910.1 L307.1,915.5 L306.2,921.1 L304.6,927.0 L302.2,933.4 L299.2,940.2 L295.8,946.8 L292.0,952.7 L287.9,957.6 L283.5,962.0 L278.8,965.7 L273.9,969.0 L268.8,971.6 L263.5,973.7 L258.1,975.4 L253.0,977.0 L248.3,978.6 L243.9,980.0 L239.4,981.3 L234.5,982.5 L229.0,983.7 L223.1,984.8 L217.0,985.8 L211.0,986.5 L205.1,986.9 L199.2,987.1 L193.2,986.9 L187.0,986.5 L180.5,985.7 L173.7,984.7 L166.8,983.3 L160.0,981.5 L153.1,979.2 L146.2,976.4 L139.4,973.5 L133.0,970.5 L127.2,967.7 L121.7,964.8 L116.4,961.8 L111.0,958.5 L105.5,955.1 L100.0,951.5 L94.4,947.6 L88.9,943.0 L83.4,937.6 L77.8,931.6 L72.3,925.1 L66.7,918.5 L60.9,911.3 L55.1,903.6 L49.4,896.2 L44.4,890.0 L40.0,885.3 L36.1,881.7 L32.7,878.7 L29.9,875.8 L27.8,872.9 L26.4,870.3 L25.4,867.9 L24.3,866.0 L23.1,864.6 L22.0,863.7 L21.1,862.9 L20.6,862.0 L20.7,861.0 L21.2,860.0 L21.8,858.9 L22.2,857.5 L22.3,855.9 L22.2,854.0 L22.0,851.9 L21.5,849.4 L20.7,846.4 L19.7,842.9 L18.5,839.2 L17.4,835.6 L16.3,832.1 L15.2,828.7 L14.2,825.2 L13.2,821.7 L12.4,818.2 L11.6,814.7 L11.0,811.3 L10.4,807.8 L9.9,804.3 L9.5,800.9 L9.2,797.5 L9.0,794.0 L8.9,790.8 L8.8,787.7 L8.9,784.2 L9.0,780.0 L9.2,774.7 L9.4,768.7 L9.7,762.2 L10.2,755.6 L10.9,748.7 L11.7,741.5 L12.7,734.4 L13.6,728.0 L14.4,722.7 L15.0,718.0 L16.0,713.4 L17.6,708.0 L17.6,701.4 L16.6,694.0 L19.1,686.6Z" fill="none" stroke="#cf8855" stroke-width="2.2"/>
<path d="M88.9,947.0 L92.9,949.8 L98.6,953.8 L105.0,958.1 L111.0,962.0 L116.4,965.2 L121.7,968.2 L127.2,971.1 L133.0,974.0 L139.4,977.0 L146.2,979.9 L153.1,982.7 L160.0,985.0 L166.8,986.8 L173.7,988.2 L180.5,989.2 L187.0,990.0 L193.2,990.4 L199.2,990.6 L205.1,990.4 L211.0,990.0 L217.0,989.3 L223.1,988.4 L229.0,987.2 L234.5,986.0 L239.5,984.8 L244.0,983.6 L248.5,982.1 L253.0,980.0 L258.2,976.7 L263.7,972.6 L268.6,968.7 L272.0,966.0" fill="none" stroke="#a05a34" stroke-width="3.5" opacity="0.6" filter="url(#soft)"/>
</g>


<!-- LABELS -->
<g class="lbl">
<text x="136" y="195.5" textLength="94" lengthAdjust="spacingAndGlyphs">Fertilization</text>
<text x="464" y="270.5" textLength="86" lengthAdjust="spacingAndGlyphs">2-cell stage</text>
<text x="604.5" y="430.5" textLength="86.5" lengthAdjust="spacingAndGlyphs">4-cell stage</text>
<text x="345" y="450.5" textLength="86" lengthAdjust="spacingAndGlyphs">8-cell stage</text>
<text x="76" y="473.0" textLength="94" lengthAdjust="spacingAndGlyphs">16-cell stage</text>
<text x="69.5" y="677.0" textLength="77" lengthAdjust="spacingAndGlyphs">Blastocyst</text>
<text x="316" y="667.5" textLength="138" lengthAdjust="spacingAndGlyphs">Foetus - 4 weeks</text>
<text x="522" y="675.5" textLength="136" lengthAdjust="spacingAndGlyphs">Foetus - 10 weeks</text>
<text x="574.5" y="942.0" textLength="135" lengthAdjust="spacingAndGlyphs">Foetus - 16 weeks</text>
<text x="368.5" y="938.5" textLength="135" lengthAdjust="spacingAndGlyphs">Foetus - 20 weeks</text>
</g>

<!-- FOOTER -->
<rect x="0" y="1027" width="720" height="83" fill="#000"/>
<text x="27" y="1081" font-size="36" fill="#fff" stroke="#fff" stroke-width="0.5" textLength="197" lengthAdjust="spacingAndGlyphs">VectorStock</text>
<text x="380" y="1079" font-size="24" fill="#fff" stroke="#fff" stroke-width="0.3" textLength="311" lengthAdjust="spacingAndGlyphs">VectorStock.com/45933736</text>
</svg>
</body>
</html>
